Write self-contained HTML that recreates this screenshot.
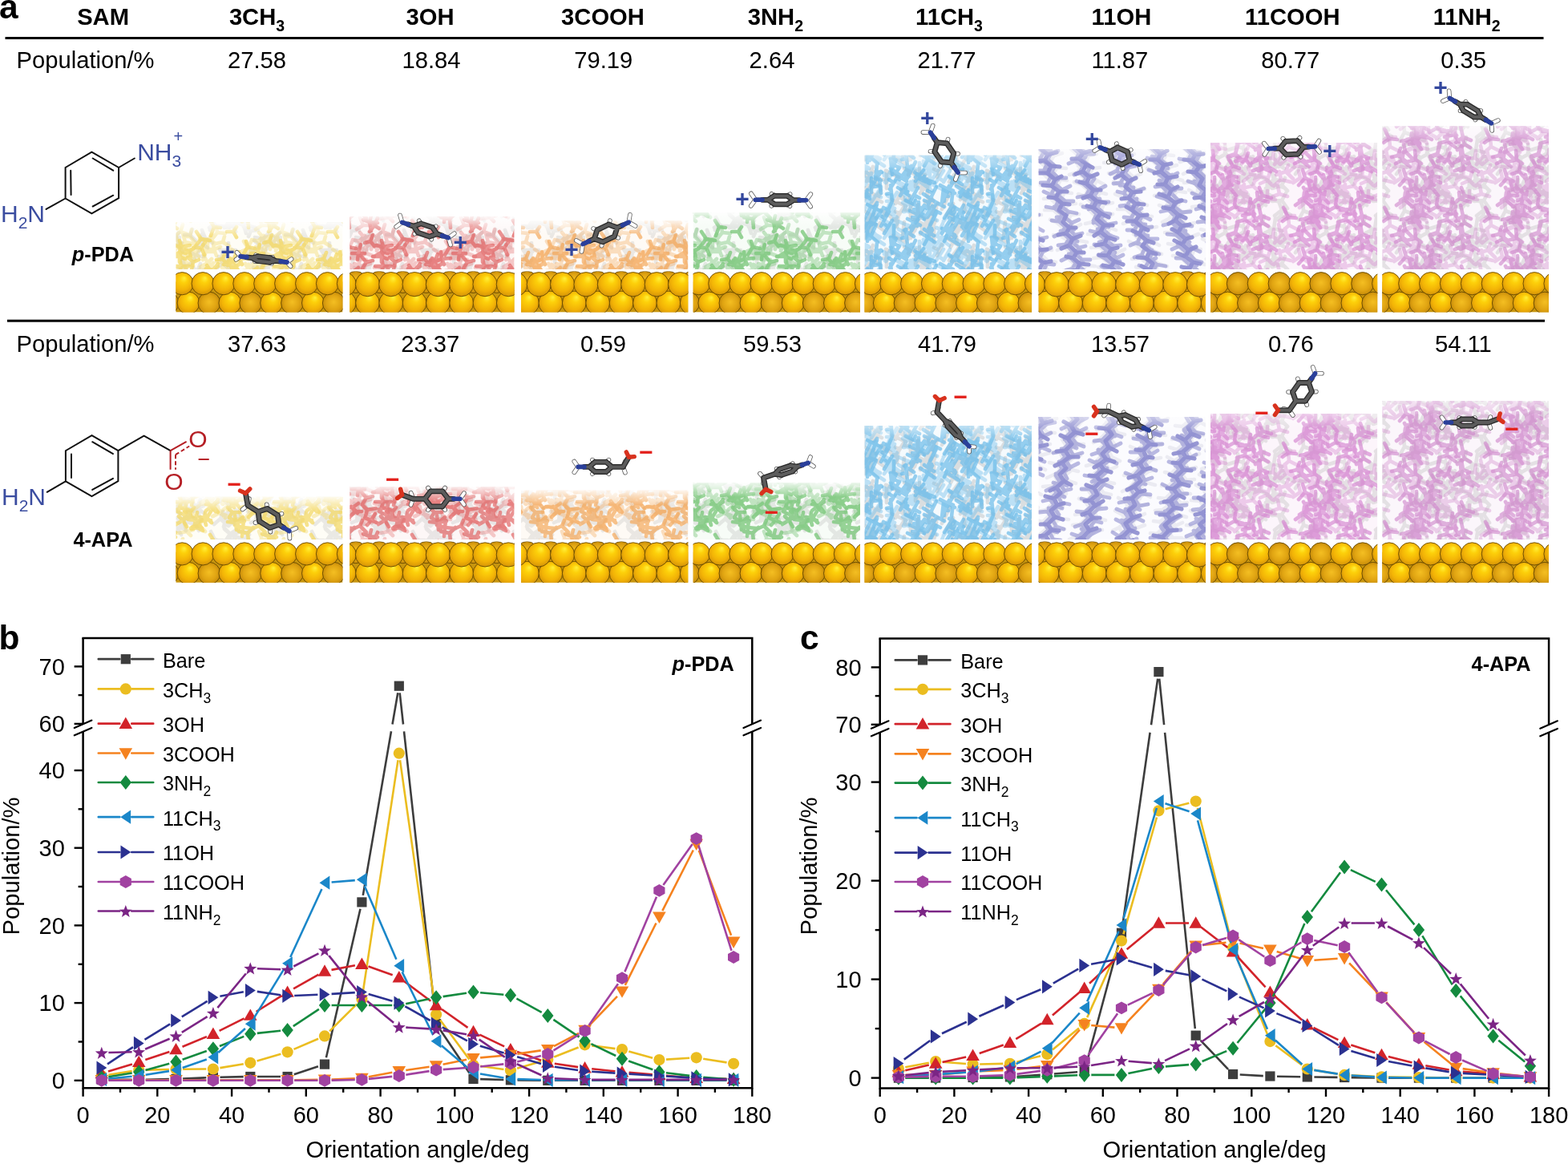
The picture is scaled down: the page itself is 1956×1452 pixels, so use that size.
<!DOCTYPE html>
<html><head><meta charset="utf-8"><title>Figure</title>
<style>
html,body{margin:0;padding:0;background:#fff;}
body{width:1956px;height:1452px;overflow:hidden;}
svg{display:block;}
text{font-family:"Liberation Sans",Arial,Helvetica,sans-serif;fill:#000;}
.hd{font-size:29.2px;font-weight:bold;}
.num{font-size:29.2px;}
.tk{font-size:29px;}
.lg{font-size:25.3px;}
.sub{font-size:17.5px;}
.lbl{font-size:42.5px;font-weight:bold;}
.nm{font-size:25.3px;font-weight:bold;}
.ax{font-size:29.2px;}
</style></head><body>
<svg width="1956" height="1452" viewBox="0 0 1956 1452">

<text x="-1" y="22.6" class="lbl">a</text>
<text x="128.6" y="30.9" class="hd" text-anchor="middle">SAM</text>
<text x="320.5" y="30.9" class="hd" text-anchor="middle">3CH<tspan dy="8" font-size="19.5px">3</tspan></text>
<text x="536.5" y="30.9" class="hd" text-anchor="middle">3OH</text>
<text x="752" y="30.9" class="hd" text-anchor="middle">3COOH</text>
<text x="967.4" y="30.9" class="hd" text-anchor="middle">3NH<tspan dy="8" font-size="19.5px">2</tspan></text>
<text x="1184" y="30.9" class="hd" text-anchor="middle">11CH<tspan dy="8" font-size="19.5px">3</tspan></text>
<text x="1398.9" y="30.9" class="hd" text-anchor="middle">11OH</text>
<text x="1612.3" y="30.9" class="hd" text-anchor="middle">11COOH</text>
<text x="1829.7" y="30.9" class="hd" text-anchor="middle">11NH<tspan dy="8" font-size="19.5px">2</tspan></text>
<rect x="6.5" y="46" width="1919" height="3" fill="#000"/>
<text x="20.5" y="85.2" class="num">Population/%</text>
<text x="320.5" y="85.2" class="num" text-anchor="middle">27.58</text>
<text x="538" y="85.2" class="num" text-anchor="middle">18.84</text>
<text x="752.8" y="85.2" class="num" text-anchor="middle">79.19</text>
<text x="963" y="85.2" class="num" text-anchor="middle">2.64</text>
<text x="1181" y="85.2" class="num" text-anchor="middle">21.77</text>
<text x="1396.9" y="85.2" class="num" text-anchor="middle">11.87</text>
<text x="1609.8" y="85.2" class="num" text-anchor="middle">80.77</text>
<text x="1825.7" y="85.2" class="num" text-anchor="middle">0.35</text>
<rect x="9" y="398.7" width="1918" height="3" fill="#000"/>
<text x="20.5" y="438.7" class="num">Population/%</text>
<text x="320.6" y="438.7" class="num" text-anchor="middle">37.63</text>
<text x="536.8" y="438.7" class="num" text-anchor="middle">23.37</text>
<text x="752.5" y="438.7" class="num" text-anchor="middle">0.59</text>
<text x="963.5" y="438.7" class="num" text-anchor="middle">59.53</text>
<text x="1181.6" y="438.7" class="num" text-anchor="middle">41.79</text>
<text x="1397.4" y="438.7" class="num" text-anchor="middle">13.57</text>
<text x="1610.3" y="438.7" class="num" text-anchor="middle">0.76</text>
<text x="1825.4" y="438.7" class="num" text-anchor="middle">54.11</text>
<defs>
<radialGradient id="gS" cx="0.5" cy="0.45" r="0.55" fx="0.6" fy="0.25"><stop offset="0" stop-color="#fff03a"/><stop offset="0.3" stop-color="#fdd00a"/><stop offset="0.72" stop-color="#f2b206"/><stop offset="1" stop-color="#d49408"/></radialGradient>
<radialGradient id="gD" cx="0.5" cy="0.5" r="0.55" fx="0.5" fy="0.45"><stop offset="0" stop-color="#f4bf22"/><stop offset="0.6" stop-color="#e0a412"/><stop offset="1" stop-color="#c08508"/></radialGradient>
<linearGradient id="fadeT" x1="0" y1="0" x2="0" y2="1"><stop offset="0" stop-color="#fff" stop-opacity="0.85"/><stop offset="1" stop-color="#fff" stop-opacity="0"/></linearGradient>
<pattern id="pY0" width="126" height="98" patternUnits="userSpaceOnUse"><path d="M23 59l-8 7m8 -7l3 -8m-3 8l8 8m-8 -8M93 49l6 4m-6 -4l-4 9m4 -9l-9 -4m9 4l4 -8m-4 8M35 51l-2 11m2 -11l-11 4m11 -4l-2 -11m2 11l8 0m-8 0M101 69l-5 -6m5 6l5 -6m-5 6l5 5m-5 -5l-7 5m7 -5M-8 66l-8 -2m8 2l7 -6m-7 6l4 8m-4 -8M118 66l-8 -2m8 2l7 -6m-7 6l4 8m-4 -8M45 54l2 -8m-2 8l6 7m-6 -7l-9 4m9 -4M96 73l4 -6m-4 6l4 6m-4 -6l-8 0m8 0M56 76l-10 -1m10 1l8 -4m-8 4l0 7m0 -7M70 60l2 -9m-2 9l6 6m-6 -6l-9 4m9 -4M63 24l-10 2m10 -2l4 -7m-4 7l8 6m-8 -6M-5 46l7 6m-7 -6l-6 4m6 -4l-6 -6m6 6l7 -3m-7 3M121 46l7 6m-7 -6l-6 4m6 -4l-6 -6m6 6l7 -3m-7 3M35 78l-7 -6m7 6l8 -5m-8 5l7 4m-7 -4l-6 9m6 -9M30 59l-4 -9m4 9l9 -1m-9 1l-3 10m3 -10M36 79l10 -3m-10 3l-2 9m2 -9l-8 -8m8 8M111 -1l3 -7m-3 7l7 7m-7 -7l-7 0m7 0M111 97l3 -7m-3 7l7 7m-7 -7l-7 0m7 0M105 39l10 -6m-10 6l3 8m-3 -8l-8 3m8 -3l-3 -8m3 8M33 18l9 0m-9 0l-1 10m1 -10l-8 0m8 0l0 -9m0 9M76 4l8 -8m-8 8l3 7m-3 -7l-10 -2m10 2M76 102l8 -8m-8 8l3 7m-3 -7l-10 -2m10 2M52 85l-8 -3m8 3l7 -6m-7 6l3 10m-3 -10M-8 47l5 -7m-5 7l5 9m-5 -9l-8 -1m8 1M118 47l5 -7m-5 7l5 9m-5 -9l-8 -1m8 1M61 -6l9 -1m-9 1l-3 7m3 -7l-9 -5m9 5M61 92l9 -1m-9 1l-3 7m3 -7l-9 -5m9 5M78 49l6 6m-6 -6l-11 0m11 0l2 -11m-2 11M103 59l7 -5m-7 5l3 7m-3 -7l-11 -1m11 1M4 3l-4 -10m4 10l9 6m-9 -6l-6 5m6 -5M4 101l-4 -10m4 10l9 6m-9 -6l-6 5m6 -5M130 3l-4 -10m4 10l9 6m-9 -6l-6 5m6 -5M130 101l-4 -10m4 10l9 6m-9 -6l-6 5m6 -5M-6 44l4 -9m-4 9l4 6m-4 -6l-7 3m7 -3M120 44l4 -9m-4 9l4 6m-4 -6l-7 3m7 -3M70 43l6 -7m-6 7l-1 8m1 -8l-6 -3m6 3M-7 25l-7 -4m7 4l5 -8m-5 8l10 1m-10 -1l-4 6m4 -6M119 25l-7 -4m7 4l5 -8m-5 8l10 1m-10 -1l-4 6m4 -6M60 -12l-6 5m6 -5l-6 -9m6 9l7 2m-7 -2M60 86l-6 5m6 -5l-6 -9m6 9l7 2m-7 -2M92 4l5 -8m-5 8l9 5m-9 -5l-4 7m4 -7l-6 -6m6 6M92 102l5 -8m-5 8l9 5m-9 -5l-4 7m4 -7l-6 -6m6 6M-1 9l-7 6m7 -6l1 -11m-1 11l8 6m-8 -6M-1 107l-7 6m7 -6l1 -11m-1 11l8 6m-8 -6M125 9l-7 6m7 -6l1 -11m-1 11l8 6m-8 -6M125 107l-7 6m7 -6l1 -11m-1 11l8 6m-8 -6M40 61l9 -1m-9 1l-7 7m7 -7l-3 -9m3 9M43 56l-4 9m4 -9l-1 -8m1 8l10 4m-10 -4M96 12l2 -10m-2 10l6 8m-6 -8l-8 1m8 -1M96 110l2 -10m-2 10l6 8m-6 -8l-8 1m8 -1M91 70l-7 -6m7 6l11 1m-11 -1l-6 9m6 -9M82 40l5 9m-5 -9l-6 -3m6 3l5 -8m-5 8M15 84l-4 -9m4 9l7 3m-7 -3l-6 4m6 -4M26 34l-8 7m8 -7l-5 -8m5 8l7 -3m-7 3l7 7m-7 -7M68 53l-1 9m1 -9l-11 -3m11 3l4 -6m-4 6l9 3m-9 -3M73 13l-8 4m8 -4l-8 -7m8 7l8 -5m-8 5l5 9m-5 -9M39 86l3 7m-3 -7l-11 2m11 -2l3 -6m-3 6M78 43l10 4m-10 -4l-7 9m7 -9l-9 -4m9 4l5 -7m-5 7M16 86l-6 5m6 -5l-3 -7m3 7l10 0m-10 0M84 10l3 -8m-3 8l8 1m-8 -1l-4 7m4 -7l-10 -3m10 3M84 108l3 -8m-3 8l8 1m-8 -1l-4 7m4 -7l-10 -3m10 3M28 26l-7 4m7 -4l-6 -9m6 9l7 -7m-7 7l3 8m-3 -8M87 80l7 -7m-7 7l4 7m-4 -7l-10 -1m10 1M34 61l6 5m-6 -5l-11 -1m11 1l2 -11m-2 11M112 56l6 3m-6 -3l-6 5m6 -5l-4 -7m4 7M62 23l-2 -7m2 7l9 2m-9 -2l0 10m0 -10l-8 1m8 -1" stroke="#fff" stroke-width="4.6" stroke-linecap="round" fill="none"/></pattern>
<mask id="mY0" maskUnits="userSpaceOnUse" x="0" y="0" width="1956" height="760"><rect width="1956" height="760" fill="url(#pY0)"/></mask>
<pattern id="pY1" width="126" height="98" patternUnits="userSpaceOnUse"><path d="M114 19l4 -8m-4 8l8 7m-8 -7l-8 -2m8 2M71 29l-11 -1m11 1l3 -9m-3 9l8 1m-8 -1l-2 10m2 -10M96 10l-2 -9m2 9l11 -1m-11 1l-4 9m4 -9M96 108l-2 -9m2 9l11 -1m-11 1l-4 9m4 -9M99 -5l8 3m-8 -3l-8 6m8 -6l3 -9m-3 9M99 93l8 3m-8 -3l-8 6m8 -6l3 -9m-3 9M80 60l-7 6m7 -6l-2 -10m2 10l6 4m-6 -4M107 75l5 5m-5 -5l-11 2m11 -2l-3 -11m3 11l8 -2m-8 2M44 22l-7 -5m7 5l9 -4m-9 4l2 10m-2 -10M21 52l-1 -8m1 8l9 3m-9 -3l-8 4m8 -4M5 20l-4 10m4 -10l-4 -9m4 9l10 0m-10 0M131 20l-4 10m4 -10l-4 -9m4 9l10 0m-10 0M7 6l0 10m0 -10l-10 -2m10 2l6 -5m-6 5M7 104l0 10m0 -10l-10 -2m10 2l6 -5m-6 5M133 6l0 10m0 -10l-10 -2m10 2l6 -5m-6 5M133 104l0 10m0 -10l-10 -2m10 2l6 -5m-6 5M103 27l-5 -7m5 7l9 -3m-9 3l-3 7m3 -7M75 55l-7 -7m7 7l10 -5m-10 5l2 11m-2 -11M23 51l-6 -8m6 8l8 -7m-8 7l6 7m-6 -7l-9 5m9 -5M88 57l3 7m-3 -7l-10 -1m10 1l3 -9m-3 9M41 33l6 -9m-6 9l3 8m-3 -8l-8 -3m8 3M57 15l6 6m-6 -6l-7 7m7 -7l-5 -8m5 8l5 -9m-5 9M19 -4l10 1m-10 -1l-7 9m7 -9l-1 -7m1 7M19 94l10 1m-10 -1l-7 9m7 -9l-1 -7m1 7M77 3l-6 4m6 -4l-6 -7m6 7l8 -3m-8 3l5 9m-5 -9M77 101l-6 4m6 -4l-6 -7m6 7l8 -3m-8 3l5 9m-5 -9M74 38l-10 -3m10 3l10 -3m-10 3l3 8m-3 -8M15 17l-11 0m11 0l-1 -7m1 7l8 -3m-8 3l3 8m-3 -8M25 33l-7 -1m7 1l0 -8m0 8l9 0m-9 0l1 8m-1 -8M85 10l7 6m-7 -6l-9 6m9 -6l1 -10m-1 10M85 108l7 6m-7 -6l-9 6m9 -6l1 -10m-1 10M26 8l8 5m-8 -5l-9 2m9 -2l2 -7m-2 7M26 106l8 5m-8 -5l-9 2m9 -2l2 -7m-2 7M58 42l-10 4m10 -4l-4 -7m4 7l11 -3m-11 3l1 8m-1 -8M9 4l-7 2m7 -2l3 -6m-3 6l8 6m-8 -6M9 102l-7 2m7 -2l3 -6m-3 6l8 6m-8 -6M135 4l-7 2m7 -2l3 -6m-3 6l8 6m-8 -6M135 102l-7 2m7 -2l3 -6m-3 6l8 6m-8 -6M80 47l7 1m-7 -1l-3 7m3 -7l-5 -7m5 7M-11 23l2 7m-2 -7l-10 0m10 0l-4 -6m4 6l9 -6m-9 6M115 23l2 7m-2 -7l-10 0m10 0l-4 -6m4 6l9 -6m-9 6M-3 68l3 -8m-3 8l7 7m-7 -7l-9 1m9 -1M123 68l3 -8m-3 8l7 7m-7 -7l-9 1m9 -1M79 22l-10 4m10 -4l0 -9m0 9l10 4m-10 -4M99 43l7 8m-7 -8l-10 -3m10 3l6 -6m-6 6M88 9l6 -7m-6 7l8 4m-8 -4l-3 8m3 -8l-5 -5m5 5M88 107l6 -7m-6 7l8 4m-8 -4l-3 8m3 -8l-5 -5m5 5M69 49l-3 -10m3 10l7 3m-7 -3l-8 5m8 -5M33 39l-8 1m8 -1l4 -10m-4 10l8 1m-8 -1l-1 9m1 -9M7 34l5 -5m-5 5l6 4m-6 -4l-9 5m9 -5l-5 -10m5 10M133 34l5 -5m-5 5l6 4m-6 -4l-9 5m9 -5l-5 -10m5 10M111 1l-8 0m8 0l2 -9m-2 9l6 7m-6 -7M111 99l-8 0m8 0l2 -9m-2 9l6 7m-6 -7M49 58l9 2m-9 -2l-8 3m8 -3l-2 -8m2 8M9 40l5 7m-5 -7l-10 1m10 -1l5 -6m-5 6M135 40l5 7m-5 -7l-10 1m10 -1l5 -6m-5 6M70 7l-8 -2m8 2l7 -7m-7 7l2 9m-2 -9M70 105l-8 -2m8 2l7 -7m-7 7l2 9m-2 -9M114 49l-7 -2m7 2l8 -6m-8 6l1 7m-1 -7M62 49l-6 7m6 -7l-6 -5m6 5l6 -8m-6 8l9 5m-9 -5M67 42l-9 -6m9 6l10 -3m-10 3l2 11m-2 -11M63 24l4 -10m-4 10l8 3m-8 -3l-5 5m5 -5l-10 -4m10 4M73 53l3 8m-3 -8l-9 -1m9 1l5 -8m-5 8M105 8l-3 -11m3 11l9 2m-9 -2l-6 7m6 -7M105 106l-3 -11m3 11l9 2m-9 -2l-6 7m6 -7M75 85l-8 5m8 -5l-4 -10m4 10l9 0m-9 0M106 33l9 5m-9 -5l-4 6m4 -6l-4 -11m4 11" stroke="#fff" stroke-width="4.6" stroke-linecap="round" fill="none"/></pattern>
<mask id="mY1" maskUnits="userSpaceOnUse" x="0" y="0" width="1956" height="760"><rect width="1956" height="760" fill="url(#pY1)"/></mask>
<pattern id="pY2" width="126" height="98" patternUnits="userSpaceOnUse"><path d="M47 29l-8 3m8 -3l-1 -9m1 9l11 -1m-11 1l3 7m-3 -7M57 77l7 -7m-7 7l1 11m-1 -11l-11 -2m11 2M110 19l2 8m-2 -8l-10 -3m10 3l9 -5m-9 5M6 58l-9 -1m9 1l5 -8m-5 8l6 6m-6 -6M132 58l-9 -1m9 1l5 -8m-5 8l6 6m-6 -6M71 68l-9 4m9 -4l3 -7m-3 7l8 8m-8 -8M44 63l2 11m-2 -11l-10 -5m10 5l7 -6m-7 6M38 51l-4 6m4 -6l-6 -6m6 6l9 0m-9 0M102 61l5 8m-5 -8l-8 5m8 -5l-5 -5m5 5l9 -5m-9 5M80 48l-6 -6m6 6l11 -2m-11 2l-2 8m2 -8M38 33l6 9m-6 -9l-9 1m9 -1l4 -10m-4 10M11 44l9 -6m-9 6l6 6m-6 -6l-6 5m6 -5l-5 -7m5 7M137 44l9 -6m-9 6l6 6m-6 -6l-6 5m6 -5l-5 -7m5 7M85 61l5 -8m-5 8l9 4m-9 -4l-5 6m5 -6l-8 -3m8 3M39 -5l-8 0m8 0l4 -6m-4 6l4 7m-4 -7M39 93l-8 0m8 0l4 -6m-4 6l4 7m-4 -7M89 85l-6 8m6 -8l-7 -4m7 4l4 -9m-4 9l6 4m-6 -4M26 29l-8 1m8 -1l3 -8m-3 8l6 8m-6 -8M62 45l7 -5m-7 5l6 7m-6 -7l-11 -1m11 1M100 14l-2 -8m2 8l11 -2m-11 2l-1 10m1 -10l-9 -2m9 2M-1 15l5 -7m-5 7l4 9m-4 -9l-10 0m10 0M125 15l5 -7m-5 7l4 9m-4 -9l-10 0m10 0M100 38l-10 0m10 0l-2 -9m2 9l10 0m-10 0l-3 10m3 -10M-6 70l-7 2m7 -2l-2 -11m2 11l7 4m-7 -4M120 70l-7 2m7 -2l-2 -11m2 11l7 4m-7 -4M79 33l-6 -7m6 7l8 -2m-8 2l-5 8m5 -8M83 81l10 1m-10 -1l2 11m-2 -11l-8 -3m8 3l2 -8m-2 8M57 14l9 2m-9 -2l-6 10m6 -10l-2 -7m2 7M99 20l7 2m-7 -2l-10 6m10 -6l-2 -7m2 7M-1 4l11 2m-11 -2l-7 9m7 -9l-6 -9m6 9M-1 102l11 2m-11 -2l-7 9m7 -9l-6 -9m6 9M125 4l11 2m-11 -2l-7 9m7 -9l-6 -9m6 9M125 102l11 2m-11 -2l-7 9m7 -9l-6 -9m6 9M111 51l2 8m-2 -8l-7 -1m7 1l5 -6m-5 6M15 -11l-4 11m4 -11l-5 -8m5 8l8 1m-8 -1M15 87l-4 11m4 -11l-5 -8m5 8l8 1m-8 -1M51 70l11 1m-11 -1l-1 11m1 -11l-10 -3m10 3l1 -9m-1 9M-8 61l-9 -1m9 1l2 -10m-2 10l11 1m-11 -1l-2 9m2 -9M118 61l-9 -1m9 1l2 -10m-2 10l11 1m-11 -1l-2 9m2 -9M-5 65l5 6m-5 -6l-9 6m9 -6l-6 -7m6 7l7 -6m-7 6M121 65l5 6m-5 -6l-9 6m9 -6l-6 -7m6 7l7 -6m-7 6M84 7l5 6m-5 -6l-7 2m7 -2l3 -8m-3 8M84 105l5 6m-5 -6l-7 2m7 -2l3 -8m-3 8M105 45l2 -7m-2 7l6 8m-6 -8l-10 2m10 -2M41 39l-5 5m5 -5l-8 -8m8 8l8 -5m-8 5l7 7m-7 -7M14 43l-9 -2m9 2l6 -8m-6 8l6 8m-6 -8M34 35l-7 1m7 -1l1 -7m-1 7l6 10m-6 -10M115 33l-2 9m2 -9l-7 -6m7 6l7 -3m-7 3M98 26l-11 0m11 0l1 -9m-1 9l7 3m-7 -3l0 7m0 -7M42 64l1 9m-1 -9l-10 -1m10 1l-1 -9m1 9l11 -2m-11 2M65 50l8 0m-8 0l-7 7m7 -7l-5 -6m5 6M3 60l2 7m-2 -7l-9 3m9 -3l1 -9m-1 9l8 1m-8 -1M129 60l2 7m-2 -7l-9 3m9 -3l1 -9m-1 9l8 1m-8 -1M69 22l8 0m-8 0l-1 8m1 -8l-8 0m8 0l3 -11m-3 11M105 55l-10 -5m10 5l4 -7m-4 7l7 3m-7 -3l-2 7m2 -7" stroke="#fff" stroke-width="4.6" stroke-linecap="round" fill="none"/></pattern>
<mask id="mY2" maskUnits="userSpaceOnUse" x="0" y="0" width="1956" height="760"><rect width="1956" height="760" fill="url(#pY2)"/></mask>
<pattern id="pX0" width="126" height="98" patternUnits="userSpaceOnUse"><path d="M2 -4l3 -8m-3 8l-3 8m3 -8M2 94l3 -8m-3 8l-3 8m3 -8M128 -4l3 -8m-3 8l-3 8m3 -8M128 94l3 -8m-3 8l-3 8m3 -8M113 57l9 4m-9 -4l-9 -4m9 4M51 65l4 -7m-4 7l-4 7m4 -7M76 26l9 5m-9 -5l-9 -5m9 5M77 21l4 -9m-4 9l-4 9m4 -9l-5 -2m5 2M114 4l8 4m-8 -4l-8 -4m8 4M114 102l8 4m-8 -4l-8 -4m8 4M24 54l1 10m-1 -10l-1 -10m1 10l5 -1m-5 1M55 73l-1 10m1 -10l1 -10m-1 10l-6 -1m6 1M18 33l4 -6m-4 6l-4 6m4 -6l-5 -3m5 3M20 85l7 4m-7 -4l-7 -4m7 4M77 24l4 -6m-4 6l-4 6m4 -6l-7 -4m7 4M97 70l6 4m-6 -4l-6 -4m6 4l-4 5m4 -5M11 78l-1 9m1 -9l1 -9m-1 9l-6 0m6 0M86 53l4 -7m-4 7l-4 7m4 -7l6 3m-6 -3M78 72l7 4m-7 -4l-7 -4m7 4l-2 5m2 -5M55 8l7 4m-7 -4l-7 -4m7 4l-3 6m3 -6M55 106l7 4m-7 -4l-7 -4m7 4l-3 6m3 -6M69 57l0 10m0 -10l0 -10m0 10M11 69l0 10m0 -10l0 -10m0 10M38 18l3 -7m-3 7l-3 7m3 -7l-7 -3m7 3M13 22l0 8m0 -8l0 -8m0 8l6 0m-6 0M119 -9l-1 8m1 -8l1 -8m-1 8M119 89l-1 8m1 -8l1 -8m-1 8M24 80l5 -7m-5 7l-5 7m5 -7l-5 -4m5 4M6 -6l4 -9m-4 9l-4 9m4 -9l-6 -3m6 3M6 92l4 -9m-4 9l-4 9m4 -9l-6 -3m6 3M132 -6l4 -9m-4 9l-4 9m4 -9l-6 -3m6 3M132 92l4 -9m-4 9l-4 9m4 -9l-6 -3m6 3M62 35l10 4m-10 -4l-10 -4m10 4M105 21l8 4m-8 -4l-8 -4m8 4M79 85l-1 8m1 -8l1 -8m-1 8M54 71l0 9m0 -9l0 -9m0 9M31 0l0 8m0 -8l0 -8m0 8l-6 0m6 0M31 98l0 8m0 -8l0 -8m0 8l-6 0m6 0M85 49l6 -8m-6 8l-6 8m6 -8l-5 -4m5 4M62 -7l5 -8m-5 8l-5 8m5 -8l-5 -3m5 3M62 91l5 -8m-5 8l-5 8m5 -8l-5 -3m5 3M19 -12l5 -10m-5 10l-5 10m5 -10M19 86l5 -10m-5 10l-5 10m5 -10M15 29l5 -7m-5 7l-5 7m5 -7M23 -4l7 5m-7 -5l-7 -5m7 5l4 -6m-4 6M23 94l7 5m-7 -5l-7 -5m7 5l4 -6m-4 6M114 48l5 -10m-5 10l-5 10m5 -10l5 2m-5 -2M87 86l8 6m-8 -6l-8 -6m8 6l3 -4m-3 4M70 3l5 -8m-5 8l-5 8m5 -8M70 101l5 -8m-5 8l-5 8m5 -8M23 79l8 4m-8 -4l-8 -4m8 4M31 66l5 -8m-5 8l-5 8m5 -8M76 79l6 -8m-6 8l-6 8m6 -8l-4 -3m4 3M70 44l6 -9m-6 9l-6 9m6 -9l6 4m-6 -4M82 32l8 4m-8 -4l-8 -4m8 4l4 -7m-4 7M60 87l4 -8m-4 8l-4 8m4 -8l6 3m-6 -3M56 23l6 -8m-6 8l-6 8m6 -8l6 4m-6 -4M75 84l5 -8m-5 8l-5 8m5 -8l-4 -3m4 3M46 55l5 -10m-5 10l-5 10m5 -10M98 28l0 11m0 -11l0 -11m0 11l-8 0m8 0M2 66l0 9m0 -9l0 -9m0 9l-7 0m7 0M128 66l0 9m0 -9l0 -9m0 9l-7 0m7 0M14 74l8 4m-8 -4l-8 -4m8 4M59 1l1 9m-1 -9l-1 -9m1 9l-7 1m7 -1M59 99l1 9m-1 -9l-1 -9m1 9l-7 1m7 -1M23 39l-1 9m1 -9l1 -9m-1 9l-6 -1m6 1M10 84l3 -8m-3 8l-3 8m3 -8l7 3m-7 -3M136 84l3 -8m-3 8l-3 8m3 -8l7 3m-7 -3M1 18l7 4m-7 -4l-7 -4m7 4l-2 4m2 -4M127 18l7 4m-7 -4l-7 -4m7 4l-2 4m2 -4M30 87l3 -8m-3 8l-3 8m3 -8l-5 -2m5 2M27 60l7 4m-7 -4l-7 -4m7 4l3 -5m-3 5M8 27l0 10m0 -10l0 -10m0 10M-3 55l7 4m-7 -4l-7 -4m7 4l4 -7m-4 7M123 55l7 4m-7 -4l-7 -4m7 4l4 -7m-4 7M19 39l5 -6m-5 6l-5 6m5 -6M76 44l5 -8m-5 8l-5 8m5 -8M112 78l-1 9m1 -9l1 -9m-1 9l-8 -1m8 1M114 71l5 -8m-5 8l-5 8m5 -8l-5 -3m5 3" stroke="#fff" stroke-width="4.6" stroke-linecap="round" fill="none"/></pattern>
<mask id="mX0" maskUnits="userSpaceOnUse" x="0" y="0" width="1956" height="760"><rect width="1956" height="760" fill="url(#pX0)"/></mask>
<pattern id="pX1" width="126" height="98" patternUnits="userSpaceOnUse"><path d="M-6 -4l5 -9m-5 9l-5 9m5 -9l-7 -4m7 4M-6 94l5 -9m-5 9l-5 9m5 -9l-7 -4m7 4M120 -4l5 -9m-5 9l-5 9m5 -9l-7 -4m7 4M120 94l5 -9m-5 9l-5 9m5 -9l-7 -4m7 4M36 8l5 -7m-5 7l-5 7m5 -7l6 4m-6 -4M36 106l5 -7m-5 7l-5 7m5 -7l6 4m-6 -4M30 76l4 -8m-4 8l-4 8m4 -8l5 3m-5 -3M101 26l4 -6m-4 6l-4 6m4 -6l-6 -3m6 3M74 -5l4 -6m-4 6l-4 6m4 -6l5 3m-5 -3M74 93l4 -6m-4 6l-4 6m4 -6l5 3m-5 -3M98 65l5 -7m-5 7l-5 7m5 -7l5 3m-5 -3M104 55l0 8m0 -8l0 -8m0 8l-6 0m6 0M85 65l8 4m-8 -4l-8 -4m8 4l-4 7m4 -7M74 28l5 -8m-5 8l-5 8m5 -8l-6 -4m6 4M14 74l6 -8m-6 8l-6 8m6 -8l5 4m-5 -4M78 70l4 -8m-4 8l-4 8m4 -8M86 5l9 6m-9 -6l-9 -6m9 6M86 103l9 6m-9 -6l-9 -6m9 6M47 24l4 -7m-4 7l-4 7m4 -7l6 3m-6 -3M1 38l4 -8m-4 8l-4 8m4 -8M127 38l4 -8m-4 8l-4 8m4 -8M68 39l6 -9m-6 9l-6 9m6 -9M68 52l7 4m-7 -4l-7 -4m7 4M85 70l0 9m0 -9l0 -9m0 9l-7 0m7 0M101 -8l7 5m-7 -5l-7 -5m7 5l4 -6m-4 6M101 90l7 5m-7 -5l-7 -5m7 5l4 -6m-4 6M67 9l8 4m-8 -4l-8 -4m8 4l-3 6m3 -6M67 107l8 4m-8 -4l-8 -4m8 4l-3 6m3 -6M116 35l7 5m-7 -5l-7 -5m7 5M106 52l5 -8m-5 8l-5 8m5 -8l-7 -4m7 4M85 47l6 -9m-6 9l-6 9m6 -9l6 3m-6 -3M39 -8l3 -7m-3 7l-3 7m3 -7l-5 -2m5 2M39 90l3 -7m-3 7l-3 7m3 -7l-5 -2m5 2M121 58l0 10m0 -10l0 -10m0 10M70 21l5 -8m-5 8l-5 8m5 -8l-6 -3m6 3M-9 82l9 4m-9 -4l-9 -4m9 4M117 82l9 4m-9 -4l-9 -4m9 4M34 20l5 -8m-5 8l-5 8m5 -8M-3 60l4 -8m-4 8l-4 8m4 -8l-5 -3m5 3M123 60l4 -8m-4 8l-4 8m4 -8l-5 -3m5 3M22 37l7 5m-7 -5l-7 -5m7 5l3 -4m-3 4M63 75l8 3m-8 -3l-8 -3m8 3M13 15l0 8m0 -8l0 -8m0 8l-7 0m7 0M25 9l7 4m-7 -4l-7 -4m7 4l3 -5m-3 5M75 42l5 -9m-5 9l-5 9m5 -9M68 10l8 4m-8 -4l-8 -4m8 4M55 78l4 -7m-4 7l-4 7m4 -7M23 8l1 9m-1 -9l-1 -9m1 9l7 -1m-7 1M23 106l1 9m-1 -9l-1 -9m1 9l7 -1m-7 1M-2 39l4 -8m-4 8l-4 8m4 -8M124 39l4 -8m-4 8l-4 8m4 -8M74 60l6 -9m-6 9l-6 9m6 -9M83 -2l7 4m-7 -4l-7 -4m7 4M83 96l7 4m-7 -4l-7 -4m7 4M81 32l10 5m-10 -5l-10 -5m10 5M104 71l7 4m-7 -4l-7 -4m7 4l4 -7m-4 7M42 6l8 6m-8 -6l-8 -6m8 6l5 -6m-5 6M42 104l8 6m-8 -6l-8 -6m8 6l5 -6m-5 6M99 -3l4 -6m-4 6l-4 6m4 -6M99 95l4 -6m-4 6l-4 6m4 -6M100 23l4 -8m-4 8l-4 8m4 -8l-6 -3m6 3M43 41l8 4m-8 -4l-8 -4m8 4M21 12l4 -8m-4 8l-4 8m4 -8M97 80l9 5m-9 -5l-9 -5m9 5M19 26l0 8m0 -8l0 -8m0 8M75 80l4 -8m-4 8l-4 8m4 -8l6 3m-6 -3M79 23l8 5m-8 -5l-8 -5m8 5l-3 5m3 -5M50 71l7 -9m-7 9l-7 9m7 -9l6 4m-6 -4M18 27l9 6m-9 -6l-9 -6m9 6M37 26l6 -9m-6 9l-6 9m6 -9l6 4m-6 -4M9 33l5 -8m-5 8l-5 8m5 -8M26 27l0 10m0 -10l0 -10m0 10l-7 0m7 0M72 48l7 4m-7 -4l-7 -4m7 4l-2 5m2 -5M107 85l0 9m0 -9l0 -9m0 9l-6 0m6 0M3 60l4 -8m-4 8l-4 8m4 -8l-5 -2m5 2M129 60l4 -8m-4 8l-4 8m4 -8l-5 -2m5 2M26 15l9 6m-9 -6l-9 -6m9 6l-4 6m4 -6M112 6l8 6m-8 -6l-8 -6m8 6l5 -6m-5 6M112 104l8 6m-8 -6l-8 -6m8 6l5 -6m-5 6M107 -8l5 -9m-5 9l-5 9m5 -9M107 90l5 -9m-5 9l-5 9m5 -9M105 -7l8 6m-8 -6l-8 -6m8 6M105 91l8 6m-8 -6l-8 -6m8 6M-7 34l8 4m-8 -4l-8 -4m8 4l-3 6m3 -6M119 34l8 4m-8 -4l-8 -4m8 4l-3 6m3 -6M78 -6l6 -9m-6 9l-6 9m6 -9l5 3m-5 -3M78 92l6 -9m-6 9l-6 9m6 -9l5 3m-5 -3M66 22l4 -9m-4 9l-4 9m4 -9l5 3m-5 -3M102 66l4 -7m-4 7l-4 7m4 -7l6 3m-6 -3" stroke="#fff" stroke-width="4.6" stroke-linecap="round" fill="none"/></pattern>
<mask id="mX1" maskUnits="userSpaceOnUse" x="0" y="0" width="1956" height="760"><rect width="1956" height="760" fill="url(#pX1)"/></mask>
<pattern id="pX2" width="126" height="98" patternUnits="userSpaceOnUse"><path d="M96 77l5 -9m-5 9l-5 9m5 -9l-4 -3m4 3M6 47l5 -9m-5 9l-5 9m5 -9l7 4m-7 -4M132 47l5 -9m-5 9l-5 9m5 -9l7 4m-7 -4M65 79l8 4m-8 -4l-8 -4m8 4M100 66l4 -9m-4 9l-4 9m4 -9l-6 -3m6 3M50 40l5 -9m-5 9l-5 9m5 -9l5 2m-5 -2M24 29l8 3m-8 -3l-8 -3m8 3M86 75l6 -9m-6 9l-6 9m6 -9M12 65l0 9m0 -9l0 -9m0 9l-6 0m6 0M115 25l8 5m-8 -5l-8 -5m8 5M49 68l5 -8m-5 8l-5 8m5 -8l5 3m-5 -3M107 -3l0 10m0 -10l0 -10m0 10M107 95l0 10m0 -10l0 -10m0 10M60 80l10 4m-10 -4l-10 -4m10 4l-3 6m3 -6M90 36l1 9m-1 -9l-1 -9m1 9l-8 1m8 -1M104 45l1 10m-1 -10l-1 -10m1 10l-6 1m6 -1M79 35l0 9m0 -9l0 -9m0 9M68 42l9 6m-9 -6l-9 -6m9 6l-4 7m4 -7M10 75l0 11m0 -11l0 -11m0 11l-6 0m6 0M46 -11l5 -8m-5 8l-5 8m5 -8l5 3m-5 -3M46 87l5 -8m-5 8l-5 8m5 -8l5 3m-5 -3M49 -3l5 -10m-5 10l-5 10m5 -10l6 3m-6 -3M49 95l5 -10m-5 10l-5 10m5 -10l6 3m-6 -3M7 85l4 -7m-4 7l-4 7m4 -7M133 85l4 -7m-4 7l-4 7m4 -7M29 80l5 -10m-5 10l-5 10m5 -10M13 69l6 -9m-6 9l-6 9m6 -9l5 3m-5 -3M-7 41l4 -7m-4 7l-4 7m4 -7l5 2m-5 -2M119 41l4 -7m-4 7l-4 7m4 -7l5 2m-5 -2M85 18l-1 9m1 -9l1 -9m-1 9l7 1m-7 -1M62 23l5 -8m-5 8l-5 8m5 -8M81 3l6 5m-6 -5l-6 -5m6 5M81 101l6 5m-6 -5l-6 -5m6 5M25 57l3 -7m-3 7l-3 7m3 -7l-6 -3m6 3M27 52l9 6m-9 -6l-9 -6m9 6l-3 6m3 -6M55 -8l5 -8m-5 8l-5 8m5 -8M55 90l5 -8m-5 8l-5 8m5 -8M82 69l4 -10m-4 10l-4 10m4 -10M107 32l5 -8m-5 8l-5 8m5 -8l-6 -4m6 4M-6 20l6 -8m-6 8l-6 8m6 -8l6 4m-6 -4M120 20l6 -8m-6 8l-6 8m6 -8l6 4m-6 -4M70 48l7 4m-7 -4l-7 -4m7 4l4 -7m-4 7M78 84l5 -8m-5 8l-5 8m5 -8M14 70l5 -8m-5 8l-5 8m5 -8l5 3m-5 -3M100 -11l5 -8m-5 8l-5 8m5 -8l-4 -3m4 3M100 87l5 -8m-5 8l-5 8m5 -8l-4 -3m4 3M74 -1l0 8m0 -8l0 -8m0 8M74 97l0 8m0 -8l0 -8m0 8M82 63l8 4m-8 -4l-8 -4m8 4l4 -6m-4 6M24 2l5 -9m-5 9l-5 9m5 -9l-5 -3m5 3M24 100l5 -9m-5 9l-5 9m5 -9l-5 -3m5 3M27 69l4 -6m-4 6l-4 6m4 -6M-3 2l1 10m-1 -10l-1 -10m1 10l-6 1m6 -1M-3 100l1 10m-1 -10l-1 -10m1 10l-6 1m6 -1M123 2l1 10m-1 -10l-1 -10m1 10l-6 1m6 -1M123 100l1 10m-1 -10l-1 -10m1 10l-6 1m6 -1M10 71l9 4m-9 -4l-9 -4m9 4M136 71l9 4m-9 -4l-9 -4m9 4M107 10l3 -7m-3 7l-3 7m3 -7l7 3m-7 -3M107 108l3 -7m-3 7l-3 7m3 -7l7 3m-7 -3M110 19l7 5m-7 -5l-7 -5m7 5l4 -6m-4 6M44 47l0 8m0 -8l0 -8m0 8M49 -5l8 4m-8 -4l-8 -4m8 4l-3 7m3 -7M49 93l8 4m-8 -4l-8 -4m8 4l-3 7m3 -7M74 70l4 -8m-4 8l-4 8m4 -8M42 48l-1 9m1 -9l1 -9m-1 9l7 1m-7 -1M6 59l10 5m-10 -5l-10 -5m10 5l2 -5m-2 5M132 59l10 5m-10 -5l-10 -5m10 5l2 -5m-2 5M59 64l9 5m-9 -5l-9 -5m9 5l-4 7m4 -7M-1 19l4 -8m-4 8l-4 8m4 -8M125 19l4 -8m-4 8l-4 8m4 -8M58 29l8 5m-8 -5l-8 -5m8 5l4 -7m-4 7M35 57l9 5m-9 -5l-9 -5m9 5l-3 4m3 -4M48 40l9 5m-9 -5l-9 -5m9 5l2 -4m-2 4M25 -4l6 4m-6 -4l-6 -4m6 4l3 -5m-3 5M25 94l6 4m-6 -4l-6 -4m6 4l3 -5m-3 5M30 45l4 -8m-4 8l-4 8m4 -8l-7 -3m7 3M13 23l5 -7m-5 7l-5 7m5 -7l-6 -4m6 4M-7 43l7 5m-7 -5l-7 -5m7 5l3 -4m-3 4M119 43l7 5m-7 -5l-7 -5m7 5l3 -4m-3 4M104 12l1 10m-1 -10l-1 -10m1 10M104 110l1 10m-1 -10l-1 -10m1 10M3 16l5 -10m-5 10l-5 10m5 -10l-6 -3m6 3M129 16l5 -10m-5 10l-5 10m5 -10l-6 -3m6 3M53 57l-1 10m1 -10l1 -10m-1 10M67 79l1 10m-1 -10l-1 -10m1 10M31 66l8 4m-8 -4l-8 -4m8 4l-2 5m2 -5M63 69l5 -9m-5 9l-5 9m5 -9M86 26l5 -8m-5 8l-5 8m5 -8l5 3m-5 -3M23 2l9 6m-9 -6l-9 -6m9 6M23 100l9 6m-9 -6l-9 -6m9 6M81 -5l4 -9m-4 9l-4 9m4 -9M81 93l4 -9m-4 9l-4 9m4 -9M0 -3l6 4m-6 -4l-6 -4m6 4M0 95l6 4m-6 -4l-6 -4m6 4M126 -3l6 4m-6 -4l-6 -4m6 4M126 95l6 4m-6 -4l-6 -4m6 4M17 29l9 4m-9 -4l-9 -4m9 4l2 -5m-2 5M54 6l8 5m-8 -5l-8 -5m8 5l4 -5m-4 5M54 104l8 5m-8 -5l-8 -5m8 5l4 -5m-4 5M6 81l8 4m-8 -4l-8 -4m8 4l-4 7m4 -7M132 81l8 4m-8 -4l-8 -4m8 4l-4 7m4 -7M58 24l5 -8m-5 8l-5 8m5 -8M71 -8l5 -8m-5 8l-5 8m5 -8l-5 -3m5 3M71 90l5 -8m-5 8l-5 8m5 -8l-5 -3m5 3M24 69l5 -8m-5 8l-5 8m5 -8" stroke="#fff" stroke-width="4.6" stroke-linecap="round" fill="none"/></pattern>
<mask id="mX2" maskUnits="userSpaceOnUse" x="0" y="0" width="1956" height="760"><rect width="1956" height="760" fill="url(#pX2)"/></mask>
<pattern id="pV0" width="126" height="98" patternUnits="userSpaceOnUse"><path d="M68 45l1 -13m-1 13l9 5m-9 -5l-8 4m8 -4M22 6l-6 -12m6 12l12 4m-12 -4l-6 9m6 -9M22 104l-6 -12m6 12l12 4m-12 -4l-6 9m6 -9M77 28l-3 -11m3 11l8 1m-8 -1l-8 7m8 -7M40 -5l-1 -8m1 8l9 6m-9 -6l-11 7m11 -7M40 93l-1 -8m1 8l9 6m-9 -6l-11 7m11 -7M92 7l-4 -8m4 8l11 6m-11 -6l-9 5m9 -5M92 105l-4 -8m4 8l11 6m-11 -6l-9 5m9 -5M87 54l5 -9m-5 9l7 10m-7 -10l-12 1m12 -1M86 73l2 -11m-2 11l8 4m-8 -4l-7 6m7 -6M33 43l-4 -9m4 9l12 4m-12 -4l-10 7m10 -7M79 6l0 -9m0 9l9 2m-9 -2l-7 6m7 -6M79 104l0 -9m0 9l9 2m-9 -2l-7 6m7 -6M63 82l2 -9m-2 9l9 6m-9 -6l-10 4m10 -4M82 9l5 -10m-5 10l8 5m-8 -5l-8 1m8 -1M82 107l5 -10m-5 10l8 5m-8 -5l-8 1m8 -1M114 67l-1 -13m1 13l8 3m-8 -3l-6 11m6 -11M78 35l0 -12m0 12l12 3m-12 -3l-11 4m11 -4M87 35l4 -9m-4 9l7 7m-7 -7l-12 4m12 -4M27 22l0 -8m0 8l10 8m-10 -8l-12 5m12 -5M50 9l1 -10m-1 10l6 7m-6 -7l-11 6m11 -6M50 107l1 -10m-1 10l6 7m-6 -7l-11 6m11 -6M8 10l-2 -11m2 11l8 5m-8 -5l-6 8m6 -8M8 108l-2 -11m2 11l8 5m-8 -5l-6 8m6 -8M134 10l-2 -11m2 11l8 5m-8 -5l-6 8m6 -8M134 108l-2 -11m2 11l8 5m-8 -5l-6 8m6 -8M25 39l-4 -8m4 8l10 3m-10 -3l-7 9m7 -9M87 66l-4 -11m4 11l11 6m-11 -6l-9 7m9 -7M59 54l1 -11m-1 11l8 6m-8 -6l-8 8m8 -8M77 -9l2 -13m-2 13l10 3m-10 -3l-12 6m12 -6M77 89l2 -13m-2 13l10 3m-10 -3l-12 6m12 -6M41 21l-5 -9m5 9l12 1m-12 -1l-8 6m8 -6M20 40l0 -10m0 10l8 9m-8 -9l-12 2m12 -2M3 38l1 -10m-1 10l7 4m-7 -4l-9 4m9 -4M129 38l1 -10m-1 10l7 4m-7 -4l-9 4m9 -4M39 55l-1 -9m1 9l12 4m-12 -4l-10 8m10 -8M-4 80l3 -8m-3 8l9 10m-9 -10l-10 5m10 -5M122 80l3 -8m-3 8l9 10m-9 -10l-10 5m10 -5M30 15l-3 -9m3 9l8 2m-8 -2l-7 3m7 -3M33 48l-2 -13m2 13l12 1m-12 -1l-10 7m10 -7M33 85l-1 -9m1 9l9 3m-9 -3l-13 4m13 -4M111 11l-3 -9m3 9l9 2m-9 -2l-7 10m7 -10M111 109l-3 -9m3 9l9 2m-9 -2l-7 10m7 -10M59 24l1 -10m-1 10l11 5m-11 -5l-12 4m12 -4M57 8l3 -8m-3 8l6 6m-6 -6l-11 1m11 -1M57 106l3 -8m-3 8l6 6m-6 -6l-11 1m11 -1M72 6l1 -12m-1 12l7 7m-7 -7l-12 6m12 -6M72 104l1 -12m-1 12l7 7m-7 -7l-12 6m12 -6M9 35l3 -7m-3 7l8 7m-8 -7l-9 0m9 0M135 35l3 -7m-3 7l8 7m-8 -7l-9 0m9 0M68 47l2 -8m-2 8l6 7m-6 -7l-11 6m11 -6M0 73l0 -10m0 10l13 4m-13 -4l-9 8m9 -8M126 73l0 -10m0 10l13 4m-13 -4l-9 8m9 -8M69 52l-5 -9m5 9l12 3m-12 -3l-8 10m8 -10M42 24l0 -12m0 12l8 10m-8 -10l-9 5m9 -5M17 -4l-1 -12m1 12l6 6m-6 -6l-9 5m9 -5M17 94l-1 -12m1 12l6 6m-6 -6l-9 5m9 -5M51 60l-5 -10m5 10l9 4m-9 -4l-8 9m8 -9" stroke="#fff" stroke-width="4.6" stroke-linecap="round" fill="none"/></pattern>
<mask id="mV0" maskUnits="userSpaceOnUse" x="0" y="0" width="1956" height="760"><rect width="1956" height="760" fill="url(#pV0)"/></mask>
<pattern id="pV1" width="126" height="98" patternUnits="userSpaceOnUse"><path d="M4 75l-5 -12m5 12l11 4m-11 -4l-7 5m7 -5M130 75l-5 -12m5 12l11 4m-11 -4l-7 5m7 -5M-3 30l2 -9m-2 9l6 10m-6 -10l-11 0m11 0M123 30l2 -9m-2 9l6 10m-6 -10l-11 0m11 0M93 2l-2 -11m2 11l11 6m-11 -6l-8 7m8 -7M93 100l-2 -11m2 11l11 6m-11 -6l-8 7m8 -7M41 53l-3 -9m3 9l8 4m-8 -4l-8 3m8 -3M8 54l-1 -10m1 10l10 5m-10 -5l-8 5m8 -5M134 54l-1 -10m1 10l10 5m-10 -5l-8 5m8 -5M27 15l-4 -10m4 10l10 3m-10 -3l-8 10m8 -10M35 45l3 -9m-3 9l7 5m-7 -5l-8 5m8 -5M49 22l-4 -9m4 9l9 1m-9 -1l-10 8m10 -8M69 52l0 -10m0 10l10 1m-10 -1l-10 8m10 -8M0 -13l-2 -10m2 10l10 3m-10 -3l-9 4m9 -4M0 85l-2 -10m2 10l10 3m-10 -3l-9 4m9 -4M126 -13l-2 -10m2 10l10 3m-10 -3l-9 4m9 -4M126 85l-2 -10m2 10l10 3m-10 -3l-9 4m9 -4M-1 15l0 -8m0 8l12 6m-12 -6l-7 5m7 -5M125 15l0 -8m0 8l12 6m-12 -6l-7 5m7 -5M22 34l-1 -13m1 13l12 2m-12 -2l-9 10m9 -10M11 72l2 -13m-2 13l5 9m-5 -9l-9 1m9 -1M137 72l2 -13m-2 13l5 9m-5 -9l-9 1m9 -1M30 53l0 -13m0 13l10 4m-10 -4l-10 4m10 -4M19 54l1 -13m-1 13l8 3m-8 -3l-11 4m11 -4M29 15l2 -9m-2 9l11 6m-11 -6l-11 5m11 -5M9 -12l-4 -10m4 10l8 2m-8 -2l-7 11m7 -11M9 86l-4 -10m4 10l8 2m-8 -2l-7 11m7 -11M135 -12l-4 -10m4 10l8 2m-8 -2l-7 11m7 -11M135 86l-4 -10m4 10l8 2m-8 -2l-7 11m7 -11M-2 45l-3 -13m3 13l8 2m-8 -2l-9 6m9 -6M124 45l-3 -13m3 13l8 2m-8 -2l-9 6m9 -6M69 29l3 -10m-3 10l6 6m-6 -6l-9 4m9 -4M110 26l-2 -9m2 9l10 7m-10 -7l-9 6m9 -6M-9 56l1 -12m-1 12l8 6m-8 -6l-8 7m8 -7M117 56l1 -12m-1 12l8 6m-8 -6l-8 7m8 -7M40 -1l5 -12m-5 12l9 9m-9 -9l-10 3m10 -3M40 97l5 -12m-5 12l9 9m-9 -9l-10 3m10 -3M92 18l3 -8m-3 8l9 9m-9 -9l-12 4m12 -4M61 24l1 -12m-1 12l8 2m-8 -2l-8 6m8 -6M44 1l-2 -10m2 10l12 3m-12 -3l-7 7m7 -7M44 99l-2 -10m2 10l12 3m-12 -3l-7 7m7 -7M51 36l3 -10m-3 10l9 8m-9 -8l-10 2m10 -2M37 43l3 -9m-3 9l8 7m-8 -7l-11 1m11 -1M-1 -11l1 -11m-1 11l7 5m-7 -5l-12 5m12 -5M-1 87l1 -11m-1 11l7 5m-7 -5l-12 5m12 -5M125 -11l1 -11m-1 11l7 5m-7 -5l-12 5m12 -5M125 87l1 -11m-1 11l7 5m-7 -5l-12 5m12 -5M76 1l1 -9m-1 9l9 8m-9 -8l-9 1m9 -1M76 99l1 -9m-1 9l9 8m-9 -8l-9 1m9 -1M5 12l-4 -12m4 12l11 4m-11 -4l-10 7m10 -7M5 110l-4 -12m4 12l11 4m-11 -4l-10 7m10 -7M131 12l-4 -12m4 12l11 4m-11 -4l-10 7m10 -7M131 110l-4 -12m4 12l11 4m-11 -4l-10 7m10 -7M84 46l-2 -10m2 10l10 3m-10 -3l-8 3m8 -3M33 36l0 -12m0 12l10 8m-10 -8l-9 8m9 -8M86 -1l-3 -13m3 13l13 1m-13 -1l-8 10m8 -10M86 97l-3 -13m3 13l13 1m-13 -1l-8 10m8 -10M34 69l-6 -11m6 11l13 2m-13 -2l-6 6m6 -6M93 73l-2 -8m2 8l10 0m-10 0l-9 7m9 -7M0 76l4 -8m-4 8l6 7m-6 -7l-10 4m10 -4M126 76l4 -8m-4 8l6 7m-6 -7l-10 4m10 -4M86 28l-2 -10m2 10l12 3m-12 -3l-9 8m9 -8M104 11l-5 -10m5 10l12 2m-12 -2l-9 8m9 -8M104 109l-5 -10m5 10l12 2m-12 -2l-9 8m9 -8M96 -13l-1 -11m1 11l12 6m-12 -6l-8 7m8 -7M96 85l-1 -11m1 11l12 6m-12 -6l-8 7m8 -7M51 78l1 -10m-1 10l9 7m-9 -7l-11 3m11 -3M9 45l-3 -9m3 9l9 2m-9 -2l-7 5m7 -5M135 45l-3 -9m3 9l9 2m-9 -2l-7 5m7 -5M18 68l0 -10m0 10l9 5m-9 -5l-10 8m10 -8" stroke="#fff" stroke-width="4.6" stroke-linecap="round" fill="none"/></pattern>
<mask id="mV1" maskUnits="userSpaceOnUse" x="0" y="0" width="1956" height="760"><rect width="1956" height="760" fill="url(#pV1)"/></mask>
<pattern id="pV2" width="126" height="98" patternUnits="userSpaceOnUse"><path d="M61 73l-3 -13m3 13l10 4m-10 -4l-9 7m9 -7M25 28l-3 -11m3 11l8 4m-8 -4l-10 7m10 -7M28 62l1 -10m-1 10l11 3m-11 -3l-9 5m9 -5M11 70l-2 -8m2 8l11 6m-11 -6l-7 5m7 -5M137 70l-2 -8m2 8l11 6m-11 -6l-7 5m7 -5M-10 26l-3 -10m3 10l8 4m-8 -4l-8 9m8 -9M116 26l-3 -10m3 10l8 4m-8 -4l-8 9m8 -9M41 78l1 -10m-1 10l11 8m-11 -8l-10 3m10 -3M0 74l4 -12m-4 12l7 7m-7 -7l-9 2m9 -2M126 74l4 -12m-4 12l7 7m-7 -7l-9 2m9 -2M106 -2l3 -9m-3 9l11 8m-11 -8l-8 2m8 -2M106 96l3 -9m-3 9l11 8m-11 -8l-8 2m8 -2M29 -3l2 -12m-2 12l9 9m-9 -9l-9 3m9 -3M29 95l2 -12m-2 12l9 9m-9 -9l-9 3m9 -3M22 38l4 -11m-4 11l8 10m-8 -10l-12 1m12 -1M111 4l2 -11m-2 11l10 8m-10 -8l-8 4m8 -4M111 102l2 -11m-2 11l10 8m-10 -8l-8 4m8 -4M-12 53l1 -9m-1 9l8 7m-8 -7l-10 7m10 -7M114 53l1 -9m-1 9l8 7m-8 -7l-10 7m10 -7M63 48l-4 -10m4 10l11 3m-11 -3l-9 6m9 -6M63 82l-3 -8m3 8l7 4m-7 -4l-9 7m9 -7M5 18l2 -11m-2 11l8 9m-8 -9l-9 3m9 -3M131 18l2 -11m-2 11l8 9m-8 -9l-9 3m9 -3M57 52l-1 -8m1 8l13 4m-13 -4l-7 6m7 -6M26 11l-5 -8m5 8l8 3m-8 -3l-9 6m9 -6M26 109l-5 -8m5 8l8 3m-8 -3l-9 6m9 -6M42 3l3 -8m-3 8l6 8m-6 -8l-13 2m13 -2M42 101l3 -8m-3 8l6 8m-6 -8l-13 2m13 -2M-9 49l1 -9m-1 9l7 6m-7 -6l-8 5m8 -5M117 49l1 -9m-1 9l7 6m-7 -6l-8 5m8 -5M22 23l-5 -10m5 10l9 2m-9 -2l-5 6m5 -6M61 -2l-2 -12m2 12l8 3m-8 -3l-7 5m7 -5M61 96l-2 -12m2 12l8 3m-8 -3l-7 5m7 -5M2 38l1 -13m-1 13l9 8m-9 -8l-9 4m9 -4M128 38l1 -13m-1 13l9 8m-9 -8l-9 4m9 -4M-4 39l-2 -11m2 11l7 5m-7 -5l-6 6m6 -6M122 39l-2 -11m2 11l7 5m-7 -5l-6 6m6 -6M-6 48l-6 -10m6 10l9 0m-9 0l-6 5m6 -5M120 48l-6 -10m6 10l9 0m-9 0l-6 5m6 -5M-11 -7l-2 -9m2 9l8 8m-8 -8l-10 5m10 -5M-11 91l-2 -9m2 9l8 8m-8 -8l-10 5m10 -5M115 -7l-2 -9m2 9l8 8m-8 -8l-10 5m10 -5M115 91l-2 -9m2 9l8 8m-8 -8l-10 5m10 -5M13 51l2 -8m-2 8l6 6m-6 -6l-10 3m10 -3M139 51l2 -8m-2 8l6 6m-6 -6l-10 3m10 -3M2 3l-1 -11m1 11l7 5m-7 -5l-11 3m11 -3M2 101l-1 -11m1 11l7 5m-7 -5l-11 3m11 -3M128 3l-1 -11m1 11l7 5m-7 -5l-11 3m11 -3M128 101l-1 -11m1 11l7 5m-7 -5l-11 3m11 -3M46 65l2 -13m-2 13l7 6m-7 -6l-12 1m12 -1M29 -4l3 -10m-3 10l10 9m-10 -9l-9 3m9 -3M29 94l3 -10m-3 10l10 9m-10 -9l-9 3m9 -3M-4 76l1 -8m-1 8l8 6m-8 -6l-12 2m12 -2M122 76l1 -8m-1 8l8 6m-8 -6l-12 2m12 -2M15 34l-2 -12m2 12l10 1m-10 -1l-6 7m6 -7M2 71l0 -11m0 11l13 2m-13 -2l-11 7m11 -7M128 71l0 -11m0 11l13 2m-13 -2l-11 7m11 -7M61 13l-1 -13m1 13l12 5m-12 -5l-10 4m10 -4M61 111l-1 -13m1 13l12 5m-12 -5l-10 4m10 -4M8 59l2 -11m-2 11l11 6m-11 -6l-11 3m11 -3M134 59l2 -11m-2 11l11 6m-11 -6l-11 3m11 -3M70 12l-3 -9m3 9l10 6m-10 -6l-12 5m12 -5M70 110l-3 -9m3 9l10 6m-10 -6l-12 5m12 -5M3 80l2 -12m-2 12l6 8m-6 -8l-9 2m9 -2M129 80l2 -12m-2 12l6 8m-6 -8l-9 2m9 -2M50 70l2 -9m-2 9l6 9m-6 -9l-12 3m12 -3M8 72l-4 -9m4 9l9 2m-9 -2l-8 9m8 -9M134 72l-4 -9m4 9l9 2m-9 -2l-8 9m8 -9M59 3l-1 -11m1 11l7 5m-7 -5l-9 4m9 -4M59 101l-1 -11m1 11l7 5m-7 -5l-9 4m9 -4M95 75l-6 -12m6 12l10 1m-10 -1l-7 5m7 -5" stroke="#fff" stroke-width="4.6" stroke-linecap="round" fill="none"/></pattern>
<mask id="mV2" maskUnits="userSpaceOnUse" x="0" y="0" width="1956" height="760"><rect width="1956" height="760" fill="url(#pV2)"/></mask>
</defs>
<clipPath id="sc00"><rect x="219.3" y="277.3" width="208.2" height="58.6"/></clipPath>
<g clip-path="url(#sc00)">
<rect x="219.3" y="277.3" width="208.2" height="58.6" fill="#f3d867" opacity="0.06"/>
<rect x="219.3" y="277.3" width="208.2" height="58.6" fill="#b0b0b0" opacity="0.25" mask="url(#mY0)"/>
<rect x="219.3" y="277.3" width="208.2" height="58.6" fill="#f3d867" opacity="0.4" mask="url(#mY1)"/>
<rect x="219.3" y="277.3" width="208.2" height="58.6" fill="#f3d867" opacity="0.75" mask="url(#mY2)"/>
<rect x="219.3" y="277.3" width="208.2" height="18" fill="url(#fadeT)"/>
</g>
<clipPath id="gc00"><rect x="219.3" y="338.4" width="208.2" height="51.2"/></clipPath>
<g clip-path="url(#gc00)">
<rect x="219.3" y="351.4" width="208.2" height="38.2" fill="#c8960f"/>
<circle cx="209.1" cy="378" r="13.9" fill="url(#gD)" stroke="#5e4400" stroke-width="0.85"/>
<circle cx="235" cy="378" r="13.9" fill="url(#gS)" stroke="#5e4400" stroke-width="0.85"/>
<circle cx="260.9" cy="378" r="13.9" fill="url(#gD)" stroke="#5e4400" stroke-width="0.85"/>
<circle cx="286.8" cy="378" r="13.9" fill="url(#gS)" stroke="#5e4400" stroke-width="0.85"/>
<circle cx="312.7" cy="378" r="13.9" fill="url(#gD)" stroke="#5e4400" stroke-width="0.85"/>
<circle cx="338.6" cy="378" r="13.9" fill="url(#gS)" stroke="#5e4400" stroke-width="0.85"/>
<circle cx="364.5" cy="378" r="13.9" fill="url(#gD)" stroke="#5e4400" stroke-width="0.85"/>
<circle cx="390.4" cy="378" r="13.9" fill="url(#gS)" stroke="#5e4400" stroke-width="0.85"/>
<circle cx="416.3" cy="378" r="13.9" fill="url(#gD)" stroke="#5e4400" stroke-width="0.85"/>
<circle cx="227.2" cy="353.7" r="14.1" fill="url(#gS)" stroke="#5e4400" stroke-width="0.85"/>
<circle cx="253.1" cy="353.7" r="14.1" fill="url(#gS)" stroke="#5e4400" stroke-width="0.85"/>
<circle cx="279" cy="353.7" r="14.1" fill="url(#gS)" stroke="#5e4400" stroke-width="0.85"/>
<circle cx="304.9" cy="353.7" r="14.1" fill="url(#gS)" stroke="#5e4400" stroke-width="0.85"/>
<circle cx="330.8" cy="353.7" r="14.1" fill="url(#gS)" stroke="#5e4400" stroke-width="0.85"/>
<circle cx="356.7" cy="353.7" r="14.1" fill="url(#gS)" stroke="#5e4400" stroke-width="0.85"/>
<circle cx="382.6" cy="353.7" r="14.1" fill="url(#gS)" stroke="#5e4400" stroke-width="0.85"/>
<circle cx="408.5" cy="353.7" r="14.1" fill="url(#gS)" stroke="#5e4400" stroke-width="0.85"/>
<circle cx="434.4" cy="353.7" r="14.1" fill="url(#gS)" stroke="#5e4400" stroke-width="0.85"/>
</g>
<clipPath id="sc01"><rect x="436.2" y="270.6" width="205.4" height="65.3"/></clipPath>
<g clip-path="url(#sc01)">
<rect x="436.2" y="270.6" width="205.4" height="65.3" fill="#e05a5a" opacity="0.05"/>
<rect x="436.2" y="270.6" width="205.4" height="65.3" fill="#b0b0b0" opacity="0.25" mask="url(#mY0)"/>
<rect x="436.2" y="270.6" width="205.4" height="65.3" fill="#e05a5a" opacity="0.3" mask="url(#mY1)"/>
<rect x="436.2" y="270.6" width="205.4" height="65.3" fill="#e05a5a" opacity="0.64" mask="url(#mY2)"/>
<rect x="436.2" y="270.6" width="205.4" height="18" fill="url(#fadeT)"/>
</g>
<clipPath id="gc01"><rect x="436.2" y="338.4" width="205.4" height="51.2"/></clipPath>
<g clip-path="url(#gc01)">
<rect x="436.2" y="351.4" width="205.4" height="38.2" fill="#c8960f"/>
<circle cx="443.8" cy="351.9" r="13.6" fill="url(#gD)" stroke="#5e4400" stroke-width="0.85"/>
<circle cx="473.1" cy="351.9" r="13.6" fill="url(#gD)" stroke="#5e4400" stroke-width="0.85"/>
<circle cx="502.4" cy="351.9" r="13.6" fill="url(#gD)" stroke="#5e4400" stroke-width="0.85"/>
<circle cx="531.8" cy="351.9" r="13.6" fill="url(#gD)" stroke="#5e4400" stroke-width="0.85"/>
<circle cx="561" cy="351.9" r="13.6" fill="url(#gD)" stroke="#5e4400" stroke-width="0.85"/>
<circle cx="590.4" cy="351.9" r="13.6" fill="url(#gD)" stroke="#5e4400" stroke-width="0.85"/>
<circle cx="619.6" cy="351.9" r="13.6" fill="url(#gD)" stroke="#5e4400" stroke-width="0.85"/>
<circle cx="648.9" cy="351.9" r="13.6" fill="url(#gD)" stroke="#5e4400" stroke-width="0.85"/>
<circle cx="429.2" cy="378" r="14.9" fill="url(#gS)" stroke="#5e4400" stroke-width="0.85"/>
<circle cx="458.5" cy="378" r="14.9" fill="url(#gS)" stroke="#5e4400" stroke-width="0.85"/>
<circle cx="487.8" cy="378" r="14.9" fill="url(#gS)" stroke="#5e4400" stroke-width="0.85"/>
<circle cx="517.1" cy="378" r="14.9" fill="url(#gS)" stroke="#5e4400" stroke-width="0.85"/>
<circle cx="546.4" cy="378" r="14.9" fill="url(#gS)" stroke="#5e4400" stroke-width="0.85"/>
<circle cx="575.7" cy="378" r="14.9" fill="url(#gS)" stroke="#5e4400" stroke-width="0.85"/>
<circle cx="605" cy="378" r="14.9" fill="url(#gS)" stroke="#5e4400" stroke-width="0.85"/>
<circle cx="634.3" cy="378" r="14.9" fill="url(#gS)" stroke="#5e4400" stroke-width="0.85"/>
<circle cx="429.2" cy="354.6" r="15.1" fill="url(#gS)" stroke="#5e4400" stroke-width="0.85"/>
<circle cx="458.5" cy="354.6" r="15.1" fill="url(#gS)" stroke="#5e4400" stroke-width="0.85"/>
<circle cx="487.8" cy="354.6" r="15.1" fill="url(#gS)" stroke="#5e4400" stroke-width="0.85"/>
<circle cx="517.1" cy="354.6" r="15.1" fill="url(#gS)" stroke="#5e4400" stroke-width="0.85"/>
<circle cx="546.4" cy="354.6" r="15.1" fill="url(#gS)" stroke="#5e4400" stroke-width="0.85"/>
<circle cx="575.7" cy="354.6" r="15.1" fill="url(#gS)" stroke="#5e4400" stroke-width="0.85"/>
<circle cx="605" cy="354.6" r="15.1" fill="url(#gS)" stroke="#5e4400" stroke-width="0.85"/>
<circle cx="634.3" cy="354.6" r="15.1" fill="url(#gS)" stroke="#5e4400" stroke-width="0.85"/>
</g>
<clipPath id="sc02"><rect x="650" y="275" width="208.4" height="60.9"/></clipPath>
<g clip-path="url(#sc02)">
<rect x="650" y="275" width="208.4" height="60.9" fill="#f4a656" opacity="0.06"/>
<rect x="650" y="275" width="208.4" height="60.9" fill="#b0b0b0" opacity="0.25" mask="url(#mY0)"/>
<rect x="650" y="275" width="208.4" height="60.9" fill="#f4a656" opacity="0.35" mask="url(#mY1)"/>
<rect x="650" y="275" width="208.4" height="60.9" fill="#f4a656" opacity="0.68" mask="url(#mY2)"/>
<rect x="650" y="275" width="208.4" height="18" fill="url(#fadeT)"/>
</g>
<clipPath id="gc02"><rect x="650" y="338.4" width="208.4" height="51.2"/></clipPath>
<g clip-path="url(#gc02)">
<rect x="650" y="351.4" width="208.4" height="38.2" fill="#c8960f"/>
<circle cx="657.5" cy="351.9" r="13.6" fill="url(#gD)" stroke="#5e4400" stroke-width="0.85"/>
<circle cx="686.9" cy="351.9" r="13.6" fill="url(#gD)" stroke="#5e4400" stroke-width="0.85"/>
<circle cx="716.3" cy="351.9" r="13.6" fill="url(#gD)" stroke="#5e4400" stroke-width="0.85"/>
<circle cx="745.7" cy="351.9" r="13.6" fill="url(#gD)" stroke="#5e4400" stroke-width="0.85"/>
<circle cx="775.1" cy="351.9" r="13.6" fill="url(#gD)" stroke="#5e4400" stroke-width="0.85"/>
<circle cx="804.5" cy="351.9" r="13.6" fill="url(#gD)" stroke="#5e4400" stroke-width="0.85"/>
<circle cx="833.9" cy="351.9" r="13.6" fill="url(#gD)" stroke="#5e4400" stroke-width="0.85"/>
<circle cx="863.3" cy="351.9" r="13.6" fill="url(#gD)" stroke="#5e4400" stroke-width="0.85"/>
<circle cx="657.5" cy="378" r="14.9" fill="url(#gS)" stroke="#5e4400" stroke-width="0.85"/>
<circle cx="686.9" cy="378" r="14.9" fill="url(#gS)" stroke="#5e4400" stroke-width="0.85"/>
<circle cx="716.3" cy="378" r="14.9" fill="url(#gS)" stroke="#5e4400" stroke-width="0.85"/>
<circle cx="745.7" cy="378" r="14.9" fill="url(#gS)" stroke="#5e4400" stroke-width="0.85"/>
<circle cx="775.1" cy="378" r="14.9" fill="url(#gS)" stroke="#5e4400" stroke-width="0.85"/>
<circle cx="804.5" cy="378" r="14.9" fill="url(#gS)" stroke="#5e4400" stroke-width="0.85"/>
<circle cx="833.9" cy="378" r="14.9" fill="url(#gS)" stroke="#5e4400" stroke-width="0.85"/>
<circle cx="863.3" cy="378" r="14.9" fill="url(#gS)" stroke="#5e4400" stroke-width="0.85"/>
<circle cx="642.8" cy="354.7" r="15.1" fill="url(#gS)" stroke="#5e4400" stroke-width="0.85"/>
<circle cx="672.2" cy="354.7" r="15.1" fill="url(#gS)" stroke="#5e4400" stroke-width="0.85"/>
<circle cx="701.6" cy="354.7" r="15.1" fill="url(#gS)" stroke="#5e4400" stroke-width="0.85"/>
<circle cx="731" cy="354.7" r="15.1" fill="url(#gS)" stroke="#5e4400" stroke-width="0.85"/>
<circle cx="760.4" cy="354.7" r="15.1" fill="url(#gS)" stroke="#5e4400" stroke-width="0.85"/>
<circle cx="789.8" cy="354.7" r="15.1" fill="url(#gS)" stroke="#5e4400" stroke-width="0.85"/>
<circle cx="819.2" cy="354.7" r="15.1" fill="url(#gS)" stroke="#5e4400" stroke-width="0.85"/>
<circle cx="848.6" cy="354.7" r="15.1" fill="url(#gS)" stroke="#5e4400" stroke-width="0.85"/>
</g>
<clipPath id="sc03"><rect x="864.6" y="265" width="208.4" height="70.9"/></clipPath>
<g clip-path="url(#sc03)">
<rect x="864.6" y="265" width="208.4" height="70.9" fill="#7ec87e" opacity="0.06"/>
<rect x="864.6" y="265" width="208.4" height="70.9" fill="#b0b0b0" opacity="0.28" mask="url(#mY0)"/>
<rect x="864.6" y="265" width="208.4" height="70.9" fill="#7ec87e" opacity="0.45" mask="url(#mY1)"/>
<rect x="864.6" y="265" width="208.4" height="70.9" fill="#7ec87e" opacity="0.8" mask="url(#mY2)"/>
<rect x="864.6" y="265" width="208.4" height="18" fill="url(#fadeT)"/>
</g>
<clipPath id="gc03"><rect x="864.6" y="338.4" width="208.4" height="51.2"/></clipPath>
<g clip-path="url(#gc03)">
<rect x="864.6" y="351.4" width="208.4" height="38.2" fill="#c8960f"/>
<circle cx="858.7" cy="378" r="13.9" fill="url(#gD)" stroke="#5e4400" stroke-width="0.85"/>
<circle cx="884.8" cy="378" r="13.9" fill="url(#gS)" stroke="#5e4400" stroke-width="0.85"/>
<circle cx="910.9" cy="378" r="13.9" fill="url(#gD)" stroke="#5e4400" stroke-width="0.85"/>
<circle cx="937" cy="378" r="13.9" fill="url(#gS)" stroke="#5e4400" stroke-width="0.85"/>
<circle cx="963.1" cy="378" r="13.9" fill="url(#gD)" stroke="#5e4400" stroke-width="0.85"/>
<circle cx="989.2" cy="378" r="13.9" fill="url(#gS)" stroke="#5e4400" stroke-width="0.85"/>
<circle cx="1015.3" cy="378" r="13.9" fill="url(#gD)" stroke="#5e4400" stroke-width="0.85"/>
<circle cx="1041.4" cy="378" r="13.9" fill="url(#gS)" stroke="#5e4400" stroke-width="0.85"/>
<circle cx="1067.5" cy="378" r="13.9" fill="url(#gD)" stroke="#5e4400" stroke-width="0.85"/>
<circle cx="871.7" cy="353.7" r="14.1" fill="url(#gS)" stroke="#5e4400" stroke-width="0.85"/>
<circle cx="897.8" cy="353.7" r="14.1" fill="url(#gS)" stroke="#5e4400" stroke-width="0.85"/>
<circle cx="923.9" cy="353.7" r="14.1" fill="url(#gS)" stroke="#5e4400" stroke-width="0.85"/>
<circle cx="950" cy="353.7" r="14.1" fill="url(#gS)" stroke="#5e4400" stroke-width="0.85"/>
<circle cx="976.1" cy="353.7" r="14.1" fill="url(#gS)" stroke="#5e4400" stroke-width="0.85"/>
<circle cx="1002.2" cy="353.7" r="14.1" fill="url(#gS)" stroke="#5e4400" stroke-width="0.85"/>
<circle cx="1028.3" cy="353.7" r="14.1" fill="url(#gS)" stroke="#5e4400" stroke-width="0.85"/>
<circle cx="1054.4" cy="353.7" r="14.1" fill="url(#gS)" stroke="#5e4400" stroke-width="0.85"/>
<circle cx="1080.5" cy="353.7" r="14.1" fill="url(#gS)" stroke="#5e4400" stroke-width="0.85"/>
</g>
<clipPath id="sc04"><rect x="1078.4" y="193.6" width="208.7" height="142.3"/></clipPath>
<g clip-path="url(#sc04)">
<rect x="1078.4" y="193.6" width="208.7" height="142.3" fill="#6fbde9" opacity="0.08"/>
<rect x="1078.4" y="193.6" width="208.7" height="142.3" fill="#b0b0b0" opacity="0.38" mask="url(#mX0)"/>
<rect x="1078.4" y="193.6" width="208.7" height="142.3" fill="#6fbde9" opacity="0.42" mask="url(#mX1)"/>
<rect x="1078.4" y="193.6" width="208.7" height="142.3" fill="#6fbde9" opacity="0.72" mask="url(#mX2)"/>
<rect x="1078.4" y="193.6" width="208.7" height="18" fill="url(#fadeT)" opacity="0.55"/>
</g>
<clipPath id="gc04"><rect x="1078.4" y="338.4" width="208.7" height="51.2"/></clipPath>
<g clip-path="url(#gc04)">
<rect x="1078.4" y="351.4" width="208.7" height="38.2" fill="#c8960f"/>
<circle cx="1077.5" cy="378" r="13.9" fill="url(#gD)" stroke="#5e4400" stroke-width="0.85"/>
<circle cx="1103.3" cy="378" r="13.9" fill="url(#gS)" stroke="#5e4400" stroke-width="0.85"/>
<circle cx="1129.1" cy="378" r="13.9" fill="url(#gD)" stroke="#5e4400" stroke-width="0.85"/>
<circle cx="1154.9" cy="378" r="13.9" fill="url(#gS)" stroke="#5e4400" stroke-width="0.85"/>
<circle cx="1180.7" cy="378" r="13.9" fill="url(#gD)" stroke="#5e4400" stroke-width="0.85"/>
<circle cx="1206.5" cy="378" r="13.9" fill="url(#gS)" stroke="#5e4400" stroke-width="0.85"/>
<circle cx="1232.3" cy="378" r="13.9" fill="url(#gD)" stroke="#5e4400" stroke-width="0.85"/>
<circle cx="1258.1" cy="378" r="13.9" fill="url(#gS)" stroke="#5e4400" stroke-width="0.85"/>
<circle cx="1283.9" cy="378" r="13.9" fill="url(#gD)" stroke="#5e4400" stroke-width="0.85"/>
<circle cx="1086.1" cy="353.7" r="14.1" fill="url(#gS)" stroke="#5e4400" stroke-width="0.85"/>
<circle cx="1111.9" cy="353.7" r="14.1" fill="url(#gS)" stroke="#5e4400" stroke-width="0.85"/>
<circle cx="1137.7" cy="353.7" r="14.1" fill="url(#gS)" stroke="#5e4400" stroke-width="0.85"/>
<circle cx="1163.5" cy="353.7" r="14.1" fill="url(#gS)" stroke="#5e4400" stroke-width="0.85"/>
<circle cx="1189.3" cy="353.7" r="14.1" fill="url(#gS)" stroke="#5e4400" stroke-width="0.85"/>
<circle cx="1215.1" cy="353.7" r="14.1" fill="url(#gS)" stroke="#5e4400" stroke-width="0.85"/>
<circle cx="1240.9" cy="353.7" r="14.1" fill="url(#gS)" stroke="#5e4400" stroke-width="0.85"/>
<circle cx="1266.7" cy="353.7" r="14.1" fill="url(#gS)" stroke="#5e4400" stroke-width="0.85"/>
<circle cx="1292.5" cy="353.7" r="14.1" fill="url(#gS)" stroke="#5e4400" stroke-width="0.85"/>
</g>
<clipPath id="sc05"><rect x="1295.6" y="186" width="208.4" height="149.9"/></clipPath>
<g clip-path="url(#sc05)">
<rect x="1295.6" y="186" width="208.4" height="149.9" fill="#8f8fd0" opacity="0.03"/>
<path d="M1291 184l9 9l11 1m-11 -1l-4 7l-9 3m9 -3l9 9l10 -2m-10 2l-4 7l9 9l11 -3m-11 3l-5 7l-9 -2m9 2l9 8l9 5m-9 -5l-4 7l-8 1m8 -1l8 8l10 4m-10 -4l-4 7l-11 0m11 0l9 8l10 -4m-10 4l-4 8l-9 -4m9 4l9 8l8 3m-8 -3l-5 8l-9 -1m9 1l9 6l9 -1m-9 1l-4 8l-9 4m9 -4l8 8l9 -2m-9 2l-4 6l8 7l8 3m-8 -3l-4 7l-10 2m10 -2M1306 187l9 7l10 -3m-10 3l-5 8l-11 -2m11 2l9 7l11 1m-11 -1l-5 7l-9 4m9 -4l9 8l8 1m-8 -1l-4 8l-10 -4m10 4l9 8l9 1m-9 -1l-4 7l-8 -2m8 2l8 8l10 -1m-10 1l-4 7l-9 3m9 -3l8 6l10 -1m-10 1l-4 8l-8 0m8 0l9 8l7 -4m-7 4l-4 8l-10 0m10 0l9 8l10 2m-10 -2l-5 7l9 8l-4 8l-10 -4m10 4l9 8l11 1m-11 -1l-5 7l-10 1m10 -1M1336 186l8 7l9 4m-9 -4l-4 8l9 7l8 0m-8 0l-5 7l-10 3m10 -3l9 7l-4 8l-9 -3m9 3l8 7l8 -2m-8 2l-4 8l-8 -3m8 3l9 8l10 1m-10 -1l-4 8l-10 -6m10 6l9 9l8 3m-8 -3l-4 7l-9 2m9 -2l8 8l8 -3m-8 3l-4 8l-10 -1m10 1l9 7l9 -3m-9 3l-4 8l-11 1m11 -1l8 7l-5 6l-11 1m11 -1l9 9l-4 6l-10 -3m10 3M1350 186l8 8l10 -2m-10 2l-3 8l-10 5m10 -5l8 8l9 -1m-9 1l-4 8l-9 0m9 0l9 7l9 5m-9 -5l-4 8l-9 -1m9 1l8 7l8 2m-8 -2l-4 8l-8 0m8 0l9 7l11 -2m-11 2l-4 9l8 7l7 -4m-7 4l-4 6l-11 -4m11 4l8 7l7 3m-7 -3l-4 8l-11 4m11 -4l9 8l-4 8l-10 -3m10 3l8 7l9 -4m-9 4l-4 7l-8 -4m8 4l8 8l-4 7M1383 186l9 8l10 -4m-10 4l-4 9l-11 0m11 0l8 7l10 -3m-10 3l-4 8l-9 -2m9 2l8 6l-4 7l-7 -4m7 4l9 8l10 0m-10 0l-4 7l-10 -4m10 4l8 8l9 0m-9 0l-4 7l-11 0m11 0l8 8l10 4m-10 -4l-4 7l-8 3m8 -3l9 8l10 0m-10 0l-4 8l8 7l11 -1m-11 1l-4 7l-10 -5m10 5l9 8l10 5m-10 -5l-4 8l-11 1m11 -1l8 7l9 4m-9 -4l-4 8l-10 -4m10 4M1396 185l9 7l10 0m-10 0l-4 7l-10 3m10 -3l8 6l9 1m-9 -1l-4 8l-8 0m8 0l9 8l9 -4m-9 4l-5 8l9 8l10 -1m-10 1l-4 7l-10 -3m10 3l9 8l8 4m-8 -4l-4 8l-9 -1m9 1l9 9l9 1m-9 -1l-4 8l-10 -1m10 1l8 8l11 -2m-11 2l-4 8l-9 2m9 -2l9 8l9 5m-9 -5l-5 6l-10 2m10 -2l9 7l8 3m-8 -3l-4 8l-8 0m8 0l8 7l11 3m-11 -3l-4 9l-9 3m9 -3M1433 185l8 7l9 2m-9 -2l-4 8l-11 0m11 0l9 8l8 -3m-8 3l-5 7l-10 -5m10 5l9 7l11 1m-11 -1l-5 7l9 7l-4 7l-10 1m10 -1l8 8l-4 8l-8 -3m8 3l9 7l10 5m-10 -5l-5 7l-8 4m8 -4l9 9l9 1m-9 -1l-4 8l-10 0m10 0l9 8l-4 8l-11 -2m11 2l8 7l10 4m-10 -4l-4 7l-9 -1m9 1l9 9l-4 8l-10 5m10 -5M1446 184l9 9l9 1m-9 -1l-4 7l-8 -1m8 1l9 8l8 -2m-8 2l-5 7l-10 4m10 -4l9 7l11 3m-11 -3l-4 8l-10 3m10 -3l8 8l11 2m-11 -2l-4 7l-9 4m9 -4l8 7l-4 7l-8 -1m8 1l8 6l10 -3m-10 3l-4 8l-11 0m11 0l9 8l9 -3m-9 3l-4 7l-8 -5m8 5l8 8l10 -4m-10 4l-4 7l-11 2m11 -2l9 8l8 0m-8 0l-4 9l-8 -2m8 2l9 7l8 3m-8 -3l-5 7l-8 3m8 -3l9 7l11 0m-11 0M1475 184l9 7l8 -3m-8 3l-4 8l-8 3m8 -3l8 7l8 0m-8 0l-4 7l-8 4m8 -4l8 7l-4 7l-11 1m11 -1l8 8l9 5m-9 -5l-4 7l-9 -5m9 5l9 8l11 0m-11 0l-4 7l-10 1m10 -1l9 9l-4 8l8 7l10 1m-10 -1l-4 7l-8 -2m8 2l9 8l9 -3m-9 3l-5 7l-10 -5m10 5l9 8l10 5m-10 -5l-4 7l-10 5m10 -5l8 8l10 4m-10 -4l-4 8l-11 1m11 -1M1490 185l8 7l10 -2m-10 2l-5 6l-8 3m8 -3l9 9l10 -4m-10 4l-4 8l-9 -5m9 5l9 8l8 -2m-8 2l-4 8l-9 5m9 -5l9 7l10 -3m-10 3l-5 7l-11 1m11 -1l9 8l-4 7l-9 -2m9 2l8 7l9 -1m-9 1l-4 8l-10 5m10 -5l8 7l9 3m-9 -3l-4 8l-8 3m8 -3l9 8l-4 7l-8 2m8 -2l8 7l-4 8l9 8l10 -5m-10 5l-4 9l-9 -1m9 1M1246 186l8 7l9 -4m-9 4l-4 8l-9 -4m9 4l9 7l10 -5m-10 5l-5 7l-11 2m11 -2l9 9l8 0m-8 0l-4 7l-11 -2m11 2l9 8l9 -3m-9 3l-5 7l-10 -2m10 2l9 6l8 0m-8 0l-4 9l-8 -4m8 4l9 8l8 4m-8 -4l-4 8l-10 -4m10 4l8 7l10 3m-10 -3l-4 7l8 7l10 -4m-10 4l-4 7l-8 0m8 0l8 7l9 -3m-9 3l-4 7l-10 4m10 -4l9 8l11 0m-11 0l-5 8l-11 4m11 -4M1260 186l9 8l9 0m-9 0l-4 8l-10 -1m10 1l8 8l10 -3m-10 3l-4 8l-10 -1m10 1l9 8l-4 8l-11 -2m11 2l8 6l7 4m-7 -4l-4 7l-11 1m11 -1l9 8l-5 7l-9 4m9 -4l8 7l9 -1m-9 1l-4 6l-10 -3m10 3l8 7l-4 7l9 8l-5 6l-9 2m9 -2l9 7l9 2m-9 -2l-5 7l-11 2m11 -2l9 8l10 2m-10 -2l-4 8l9 8l8 4m-8 -4" stroke="#b0b0c4" stroke-width="4.6" stroke-linecap="round" stroke-linejoin="round" fill="none" stroke-opacity="0.2"/>
<path d="M1293 183l9 7l9 -2m-9 2l-4 7l-11 2m11 -2l8 8l8 3m-8 -3l-4 8l-9 0m9 0l9 7l9 4m-9 -4l-4 8l-9 0m9 0l8 7l-4 8l-9 -4m9 4l9 8l8 4m-8 -4l-4 9l-11 -2m11 2l9 7l-4 9l-9 -1m9 1l8 7l11 3m-11 -3l-4 7l-10 5m10 -5l9 8l10 3m-10 -3l-5 7l-9 1m9 -1l9 8l10 0m-10 0l-4 7l-10 5m10 -5l8 8l9 -1m-9 1l-4 7l-8 2m8 -2M1302 183l9 8l9 -3m-9 3l-4 8l-9 3m9 -3l9 8l-4 7l-8 -4m8 4l8 8l10 0m-10 0l-4 7l9 8l10 -5m-10 5l-5 7l-10 0m10 0l9 7l10 0m-10 0l-5 7l-9 0m9 0l9 6l10 2m-10 -2l-5 7l-10 0m10 0l9 7l9 -4m-9 4l-4 8l-10 2m10 -2l8 7l9 -2m-9 2l-4 9l9 7l8 -2m-8 2l-4 8l-9 0m9 0l8 7l10 0m-10 0l-4 8l9 8l9 5m-9 -5M1338 184l8 7l8 5m-8 -5l-4 9l-9 4m9 -4l9 8l8 0m-8 0l-4 7l-7 3m7 -3l8 7l-4 7l-8 -3m8 3l8 7l9 4m-9 -4l-4 8l-11 2m11 -2l9 7l8 -3m-8 3l-4 8l-9 -1m9 1l8 8l8 3m-8 -3l-4 8l9 7l10 1m-10 -1l-4 8l-9 -2m9 2l9 8l8 -4m-8 4l-5 8l-8 -1m8 1l9 8l9 1m-9 -1l-4 8l-8 -4m8 4l9 7l10 -3m-10 3l-5 7l-8 -4m8 4M1347 185l9 7l9 0m-9 0l-5 8l-8 2m8 -2l9 8l-4 8l-9 -1m9 1l9 7l-5 7l-10 -3m10 3l9 7l10 -5m-10 5l-4 8l-11 0m11 0l8 7l10 0m-10 0l-4 7l-11 2m11 -2l8 7l8 1m-8 -1l-4 7l-9 5m9 -5l8 7l11 -2m-11 2l-4 7l-8 -1m8 1l8 7l9 3m-9 -3l-4 6l-10 2m10 -2l8 7l9 -1m-9 1l-4 7l-10 2m10 -2l8 8l8 -4m-8 4l-4 7l9 7M1385 184l8 7l8 -3m-8 3l-4 7l8 7l10 -4m-10 4l-4 8l-8 4m8 -4l9 8l-4 7l-9 1m9 -1l8 6l8 0m-8 0l-4 7l-8 -2m8 2l8 9l8 -2m-8 2l-4 6l-9 1m9 -1l9 9l9 -5m-9 5l-4 7l-9 -1m9 1l8 8l10 0m-10 0l-4 7l-9 0m9 0l8 7l9 0m-9 0l-4 8l-9 4m9 -4l9 8l9 2m-9 -2l-4 8l-9 3m9 -3l9 8l9 -4m-9 4l-4 7l-8 -2m8 2l8 7l10 3m-10 -3M1394 186l9 9l9 -1m-9 1l-4 6l-8 3m8 -3l9 8l9 -2m-9 2l-5 7l-9 3m9 -3l9 8l-4 7l-11 0m11 0l8 8l11 -4m-11 4l-4 8l-9 -1m9 1l9 7l-5 6l-9 -3m9 3l9 9l10 5m-10 -5l-4 7l-8 4m8 -4l8 8l8 -1m-8 1l-4 6l-8 3m8 -3l8 8l11 0m-11 0l-4 8l-10 -2m10 2l9 8l8 3m-8 -3l-4 8l9 8l11 2m-11 -2l-4 7l-11 -3m11 3M1435 184l9 8l9 1m-9 -1l-5 8l-8 -3m8 3l9 7l9 3m-9 -3l-4 9l-11 -4m11 4l9 7l9 -5m-9 5l-4 9l-8 1m8 -1l8 8l9 -3m-9 3l-4 8l-10 -3m10 3l9 6l8 -4m-8 4l-4 8l-10 2m10 -2l8 8l-4 8l-11 3m11 -3l9 8l8 2m-8 -2l-4 7l-11 -1m11 1l8 7l9 2m-9 -2l-4 7l-9 4m9 -4l9 8l-5 7l-8 0m8 0l9 8l9 1m-9 -1l-4 8l-9 2m9 -2M1444 184l8 6l-4 9l-11 -4m11 4l8 7l-4 7l-9 -4m9 4l9 7l8 -4m-8 4l-4 8l-11 -3m11 3l8 7l9 0m-9 0l-4 6l-10 1m10 -1l8 8l10 2m-10 -2l-4 9l-11 0m11 0l9 7l11 -1m-11 1l-4 8l8 8l9 1m-9 -1l-4 6l-10 -2m10 2l9 8l-5 6l-9 3m9 -3l9 8l10 5m-10 -5l-4 7l8 9l8 2m-8 -2l-4 7l-9 5m9 -5l9 7l10 2m-10 -2M1478 185l8 7l11 -2m-11 2l-4 8l-11 -2m11 2l9 8l9 1m-9 -1l-4 7l8 8l9 4m-9 -4l-4 6l-9 -3m9 3l9 9l-4 7l-9 -4m9 4l8 7l10 3m-10 -3l-4 7l-8 2m8 -2l9 9l10 4m-10 -4l-4 8l-11 1m11 -1l8 8l10 -3m-10 3l-4 7l-9 3m9 -3l9 7l10 3m-10 -3l-4 8l-8 -4m8 4l8 8l10 1m-10 -1l-4 7l-7 -3m7 3l8 7l8 -4m-8 4l-4 7l-8 4m8 -4M1488 187l8 7l-4 7l8 7l11 -2m-11 2l-4 6l-11 0m11 0l8 8l10 -3m-10 3l-4 8l-10 -4m10 4l9 8l9 4m-9 -4l-4 7l8 7l7 4m-7 -4l-4 7l-9 -4m9 4l9 8l-5 8l-9 2m9 -2l9 6l10 2m-10 -2l-5 7l-7 -4m7 4l9 8l10 -2m-10 2l-4 8l-10 -2m10 2l8 7l9 4m-9 -4l-4 7l-10 -1m10 1l9 8l8 2m-8 -2l-4 8l-11 -1m11 1l8 7l8 4m-8 -4M1248 184l8 7l-4 8l-10 2m10 -2l9 8l-5 7l-10 0m10 0l9 7l8 -3m-8 3l-4 8l-11 1m11 -1l8 7l8 -4m-8 4l-4 7l-9 0m9 0l9 7l-5 8l9 7l9 3m-9 -3l-5 6l-9 -1m9 1l9 8l8 -3m-8 3l-4 8l-10 -1m10 1l8 6l9 3m-9 -3l-4 7l-9 1m9 -1l8 7l-4 8l9 9l8 2m-8 -2l-4 7l-11 0m11 0l8 7l10 4m-10 -4M1257 184l8 8l8 2m-8 -2l-4 7l-11 -4m11 4l9 7l11 1m-11 -1l-5 7l-10 -2m10 2l9 8l10 3m-10 -3l-4 8l-11 0m11 0l9 8l9 -3m-9 3l-5 7l-9 5m9 -5l9 8l9 -3m-9 3l-4 8l-10 2m10 -2l9 8l8 0m-8 0l-4 8l-10 4m10 -4l8 7l9 5m-9 -5l-4 7l-11 3m11 -3l9 8l9 -2m-9 2l-4 8l-10 -1m10 1l8 8l10 -5m-10 5l-4 8l-10 3m10 -3l9 7l9 1m-9 -1l-4 8" stroke="#8f8fd0" stroke-width="4.8" stroke-linecap="round" stroke-linejoin="round" fill="none" stroke-opacity="0.62"/>
<path d="M1299 186l8 7l11 -3m-11 3l-4 7l-10 1m10 -1l8 7l11 1m-11 -1l-4 9l-11 0m11 0l9 8l8 -4m-8 4l-4 8l-11 -1m11 1l9 7l10 0m-10 0l-4 8l-9 -1m9 1l8 7l9 1m-9 -1l-4 8l9 7l-4 8l8 7l8 0m-8 0l-4 7l-10 2m10 -2l8 7l10 -4m-10 4l-4 8l-10 4m10 -4l9 9l9 0m-9 0l-4 7l-9 -2m9 2l8 7l11 1m-11 -1l-4 8l-10 2m10 -2M1342 183l9 8l10 -3m-10 3l-5 7l-9 0m9 0l9 7l8 4m-8 -4l-4 9l-9 3m9 -3l8 7l10 -4m-10 4l-4 8l-8 -2m8 2l9 8l9 0m-9 0l-4 7l-9 3m9 -3l8 7l11 2m-11 -2l-4 8l-8 -2m8 2l9 7l10 5m-10 -5l-5 7l9 8l11 0m-11 0l-4 8l-8 5m8 -5l8 7l10 3m-10 -3l-3 8l-11 2m11 -2l8 7l8 -2m-8 2l-4 8l-11 -1m11 1l8 7l11 4m-11 -4l-4 7l-10 -2m10 2l8 7M1390 186l8 8l9 -3m-9 3l-4 8l-8 -1m8 1l9 7l10 -5m-10 5l-4 9l-8 4m8 -4l9 8l9 -4m-9 4l-4 7l8 7l11 -1m-11 1l-4 7l-9 1m9 -1l8 7l11 1m-11 -1l-4 8l-7 -4m7 4l9 7l10 -1m-10 1l-5 7l-10 0m10 0l9 8l7 3m-7 -3l-4 8l-8 -4m8 4l9 8l9 3m-9 -3l-5 7l9 7l8 3m-8 -3l-4 8l-11 -1m11 1l8 7l-4 8l-10 -5m10 5M1439 184l9 8l8 -4m-8 4l-4 7l-9 0m9 0l8 7l9 -2m-9 2l-4 8l-8 2m8 -2l9 8l11 -2m-11 2l-4 8l-9 0m9 0l8 7l8 -4m-8 4l-4 9l-11 -4m11 4l9 7l8 -3m-8 3l-4 8l-11 -2m11 2l8 7l9 4m-9 -4l-4 7l-8 4m8 -4l8 7l10 -2m-10 2l-4 8l-8 -4m8 4l9 8l8 -2m-8 2l-4 7l-10 -5m10 5l8 7l9 -4m-9 4l-4 8l-10 -4m10 4l9 7l9 2m-9 -2l-4 8l-10 -2m10 2M1483 186l8 7l10 -1m-10 1l-4 7l-10 -1m10 1l9 8l11 -2m-11 2l-5 7l-9 -1m9 1l9 8l-4 8l9 7l10 -4m-10 4l-5 8l-10 1m10 -1l9 8l11 4m-11 -4l-4 7l-9 -4m9 4l8 6l10 0m-10 0l-4 7l-10 -3m10 3l8 8l-4 7l-10 4m10 -4l9 7l-5 7l-10 5m10 -5l9 7l10 -3m-10 3l-4 8l8 8l9 -1m-9 1l-4 7l-10 1m10 -1l9 8M1252 182l8 8l8 -1m-8 1l-3 9l-11 2m11 -2l8 8l-4 7l-9 -2m9 2l9 8l-4 9l8 7l10 1m-10 -1l-4 7l9 7l7 4m-7 -4l-5 7l-10 -4m10 4l9 6l10 3m-10 -3l-5 8l-10 2m10 -2l9 8l-4 7l-11 0m11 0l9 9l9 3m-9 -3l-4 8l-8 -3m8 3l8 7l10 -1m-10 1l-4 8l-8 0m8 0l9 8l10 -2m-10 2l-4 7l-9 1m9 -1" stroke="#8f8fd0" stroke-width="5.2" stroke-linecap="round" stroke-linejoin="round" fill="none" stroke-opacity="0.92"/>
<rect x="1295.6" y="186" width="208.4" height="18" fill="url(#fadeT)" opacity="0.55"/>
</g>
<clipPath id="gc05"><rect x="1295.6" y="338.4" width="208.4" height="51.2"/></clipPath>
<g clip-path="url(#gc05)">
<rect x="1295.6" y="351.4" width="208.4" height="38.2" fill="#c8960f"/>
<circle cx="1303.2" cy="351.9" r="13.7" fill="url(#gD)" stroke="#5e4400" stroke-width="0.85"/>
<circle cx="1332.8" cy="351.9" r="13.7" fill="url(#gD)" stroke="#5e4400" stroke-width="0.85"/>
<circle cx="1362.4" cy="351.9" r="13.7" fill="url(#gD)" stroke="#5e4400" stroke-width="0.85"/>
<circle cx="1392" cy="351.9" r="13.7" fill="url(#gD)" stroke="#5e4400" stroke-width="0.85"/>
<circle cx="1421.6" cy="351.9" r="13.7" fill="url(#gD)" stroke="#5e4400" stroke-width="0.85"/>
<circle cx="1451.2" cy="351.9" r="13.7" fill="url(#gD)" stroke="#5e4400" stroke-width="0.85"/>
<circle cx="1480.8" cy="351.9" r="13.7" fill="url(#gD)" stroke="#5e4400" stroke-width="0.85"/>
<circle cx="1510.4" cy="351.9" r="13.7" fill="url(#gD)" stroke="#5e4400" stroke-width="0.85"/>
<circle cx="1306" cy="378" r="15" fill="url(#gS)" stroke="#5e4400" stroke-width="0.85"/>
<circle cx="1335.6" cy="378" r="15" fill="url(#gS)" stroke="#5e4400" stroke-width="0.85"/>
<circle cx="1365.2" cy="378" r="15" fill="url(#gS)" stroke="#5e4400" stroke-width="0.85"/>
<circle cx="1394.8" cy="378" r="15" fill="url(#gS)" stroke="#5e4400" stroke-width="0.85"/>
<circle cx="1424.4" cy="378" r="15" fill="url(#gS)" stroke="#5e4400" stroke-width="0.85"/>
<circle cx="1454" cy="378" r="15" fill="url(#gS)" stroke="#5e4400" stroke-width="0.85"/>
<circle cx="1483.6" cy="378" r="15" fill="url(#gS)" stroke="#5e4400" stroke-width="0.85"/>
<circle cx="1513.2" cy="378" r="15" fill="url(#gS)" stroke="#5e4400" stroke-width="0.85"/>
<circle cx="1288.4" cy="354.8" r="15.2" fill="url(#gS)" stroke="#5e4400" stroke-width="0.85"/>
<circle cx="1318" cy="354.8" r="15.2" fill="url(#gS)" stroke="#5e4400" stroke-width="0.85"/>
<circle cx="1347.6" cy="354.8" r="15.2" fill="url(#gS)" stroke="#5e4400" stroke-width="0.85"/>
<circle cx="1377.2" cy="354.8" r="15.2" fill="url(#gS)" stroke="#5e4400" stroke-width="0.85"/>
<circle cx="1406.8" cy="354.8" r="15.2" fill="url(#gS)" stroke="#5e4400" stroke-width="0.85"/>
<circle cx="1436.4" cy="354.8" r="15.2" fill="url(#gS)" stroke="#5e4400" stroke-width="0.85"/>
<circle cx="1466" cy="354.8" r="15.2" fill="url(#gS)" stroke="#5e4400" stroke-width="0.85"/>
<circle cx="1495.6" cy="354.8" r="15.2" fill="url(#gS)" stroke="#5e4400" stroke-width="0.85"/>
</g>
<clipPath id="sc06"><rect x="1510" y="178" width="208.3" height="157.9"/></clipPath>
<g clip-path="url(#sc06)">
<rect x="1510" y="178" width="208.3" height="157.9" fill="#d585d0" opacity="0.08"/>
<rect x="1510" y="178" width="208.3" height="157.9" fill="#b0b0b0" opacity="0.3" mask="url(#mV0)"/>
<rect x="1510" y="178" width="208.3" height="157.9" fill="#d585d0" opacity="0.38" mask="url(#mV1)"/>
<rect x="1510" y="178" width="208.3" height="157.9" fill="#d585d0" opacity="0.66" mask="url(#mV2)"/>
<rect x="1510" y="178" width="208.3" height="18" fill="url(#fadeT)" opacity="0.55"/>
</g>
<clipPath id="gc06"><rect x="1510" y="338.4" width="208.3" height="51.2"/></clipPath>
<g clip-path="url(#gc06)">
<rect x="1510" y="351.4" width="208.3" height="38.2" fill="#c8960f"/>
<circle cx="1505.6" cy="378" r="13.9" fill="url(#gD)" stroke="#5e4400" stroke-width="0.85"/>
<circle cx="1531.5" cy="378" r="13.9" fill="url(#gS)" stroke="#5e4400" stroke-width="0.85"/>
<circle cx="1557.4" cy="378" r="13.9" fill="url(#gD)" stroke="#5e4400" stroke-width="0.85"/>
<circle cx="1583.3" cy="378" r="13.9" fill="url(#gS)" stroke="#5e4400" stroke-width="0.85"/>
<circle cx="1609.2" cy="378" r="13.9" fill="url(#gD)" stroke="#5e4400" stroke-width="0.85"/>
<circle cx="1635.1" cy="378" r="13.9" fill="url(#gS)" stroke="#5e4400" stroke-width="0.85"/>
<circle cx="1661" cy="378" r="13.9" fill="url(#gD)" stroke="#5e4400" stroke-width="0.85"/>
<circle cx="1686.9" cy="378" r="13.9" fill="url(#gS)" stroke="#5e4400" stroke-width="0.85"/>
<circle cx="1712.8" cy="378" r="13.9" fill="url(#gD)" stroke="#5e4400" stroke-width="0.85"/>
<circle cx="1518.5" cy="353.7" r="14.1" fill="url(#gS)" stroke="#5e4400" stroke-width="0.85"/>
<circle cx="1544.4" cy="353.7" r="14.1" fill="url(#gD)" stroke="#5e4400" stroke-width="0.85"/>
<circle cx="1570.3" cy="353.7" r="14.1" fill="url(#gS)" stroke="#5e4400" stroke-width="0.85"/>
<circle cx="1596.2" cy="353.7" r="14.1" fill="url(#gD)" stroke="#5e4400" stroke-width="0.85"/>
<circle cx="1622.1" cy="353.7" r="14.1" fill="url(#gS)" stroke="#5e4400" stroke-width="0.85"/>
<circle cx="1648" cy="353.7" r="14.1" fill="url(#gD)" stroke="#5e4400" stroke-width="0.85"/>
<circle cx="1673.9" cy="353.7" r="14.1" fill="url(#gS)" stroke="#5e4400" stroke-width="0.85"/>
<circle cx="1699.8" cy="353.7" r="14.1" fill="url(#gD)" stroke="#5e4400" stroke-width="0.85"/>
<circle cx="1725.7" cy="353.7" r="14.1" fill="url(#gS)" stroke="#5e4400" stroke-width="0.85"/>
</g>
<clipPath id="sc07"><rect x="1724.2" y="157.3" width="207.8" height="178.6"/></clipPath>
<g clip-path="url(#sc07)">
<rect x="1724.2" y="157.3" width="207.8" height="178.6" fill="#cf86cb" opacity="0.08"/>
<rect x="1724.2" y="157.3" width="207.8" height="178.6" fill="#b0b0b0" opacity="0.3" mask="url(#mV0)"/>
<rect x="1724.2" y="157.3" width="207.8" height="178.6" fill="#cf86cb" opacity="0.36" mask="url(#mV1)"/>
<rect x="1724.2" y="157.3" width="207.8" height="178.6" fill="#cf86cb" opacity="0.62" mask="url(#mV2)"/>
<rect x="1724.2" y="157.3" width="207.8" height="18" fill="url(#fadeT)" opacity="0.55"/>
</g>
<clipPath id="gc07"><rect x="1724.2" y="338.4" width="207.8" height="51.2"/></clipPath>
<g clip-path="url(#gc07)">
<rect x="1724.2" y="351.4" width="207.8" height="38.2" fill="#c8960f"/>
<circle cx="1719.9" cy="378" r="13.9" fill="url(#gD)" stroke="#5e4400" stroke-width="0.85"/>
<circle cx="1745.8" cy="378" r="13.9" fill="url(#gS)" stroke="#5e4400" stroke-width="0.85"/>
<circle cx="1771.7" cy="378" r="13.9" fill="url(#gD)" stroke="#5e4400" stroke-width="0.85"/>
<circle cx="1797.6" cy="378" r="13.9" fill="url(#gS)" stroke="#5e4400" stroke-width="0.85"/>
<circle cx="1823.5" cy="378" r="13.9" fill="url(#gD)" stroke="#5e4400" stroke-width="0.85"/>
<circle cx="1849.4" cy="378" r="13.9" fill="url(#gS)" stroke="#5e4400" stroke-width="0.85"/>
<circle cx="1875.3" cy="378" r="13.9" fill="url(#gD)" stroke="#5e4400" stroke-width="0.85"/>
<circle cx="1901.2" cy="378" r="13.9" fill="url(#gS)" stroke="#5e4400" stroke-width="0.85"/>
<circle cx="1927.1" cy="378" r="13.9" fill="url(#gD)" stroke="#5e4400" stroke-width="0.85"/>
<circle cx="1732.8" cy="353.7" r="14.1" fill="url(#gS)" stroke="#5e4400" stroke-width="0.85"/>
<circle cx="1758.7" cy="353.7" r="14.1" fill="url(#gS)" stroke="#5e4400" stroke-width="0.85"/>
<circle cx="1784.6" cy="353.7" r="14.1" fill="url(#gS)" stroke="#5e4400" stroke-width="0.85"/>
<circle cx="1810.5" cy="353.7" r="14.1" fill="url(#gS)" stroke="#5e4400" stroke-width="0.85"/>
<circle cx="1836.4" cy="353.7" r="14.1" fill="url(#gS)" stroke="#5e4400" stroke-width="0.85"/>
<circle cx="1862.3" cy="353.7" r="14.1" fill="url(#gS)" stroke="#5e4400" stroke-width="0.85"/>
<circle cx="1888.2" cy="353.7" r="14.1" fill="url(#gS)" stroke="#5e4400" stroke-width="0.85"/>
<circle cx="1914.1" cy="353.7" r="14.1" fill="url(#gS)" stroke="#5e4400" stroke-width="0.85"/>
<circle cx="1940" cy="353.7" r="14.1" fill="url(#gS)" stroke="#5e4400" stroke-width="0.85"/>
</g>
<clipPath id="sc10"><rect x="219.3" y="619.8" width="208.2" height="53.3"/></clipPath>
<g clip-path="url(#sc10)">
<rect x="219.3" y="619.8" width="208.2" height="53.3" fill="#f3d867" opacity="0.06"/>
<rect x="219.3" y="619.8" width="208.2" height="53.3" fill="#b0b0b0" opacity="0.25" mask="url(#mY0)"/>
<rect x="219.3" y="619.8" width="208.2" height="53.3" fill="#f3d867" opacity="0.4" mask="url(#mY1)"/>
<rect x="219.3" y="619.8" width="208.2" height="53.3" fill="#f3d867" opacity="0.75" mask="url(#mY2)"/>
<rect x="219.3" y="619.8" width="208.2" height="18" fill="url(#fadeT)"/>
</g>
<clipPath id="gc10"><rect x="219.3" y="675.6" width="208.2" height="51.2"/></clipPath>
<g clip-path="url(#gc10)">
<rect x="219.3" y="688.6" width="208.2" height="38.2" fill="#c8960f"/>
<circle cx="209.1" cy="715.2" r="13.9" fill="url(#gD)" stroke="#5e4400" stroke-width="0.85"/>
<circle cx="235" cy="715.2" r="13.9" fill="url(#gS)" stroke="#5e4400" stroke-width="0.85"/>
<circle cx="260.9" cy="715.2" r="13.9" fill="url(#gD)" stroke="#5e4400" stroke-width="0.85"/>
<circle cx="286.8" cy="715.2" r="13.9" fill="url(#gS)" stroke="#5e4400" stroke-width="0.85"/>
<circle cx="312.7" cy="715.2" r="13.9" fill="url(#gD)" stroke="#5e4400" stroke-width="0.85"/>
<circle cx="338.6" cy="715.2" r="13.9" fill="url(#gS)" stroke="#5e4400" stroke-width="0.85"/>
<circle cx="364.5" cy="715.2" r="13.9" fill="url(#gD)" stroke="#5e4400" stroke-width="0.85"/>
<circle cx="390.4" cy="715.2" r="13.9" fill="url(#gS)" stroke="#5e4400" stroke-width="0.85"/>
<circle cx="416.3" cy="715.2" r="13.9" fill="url(#gD)" stroke="#5e4400" stroke-width="0.85"/>
<circle cx="227.2" cy="690.9" r="14.1" fill="url(#gS)" stroke="#5e4400" stroke-width="0.85"/>
<circle cx="253.1" cy="690.9" r="14.1" fill="url(#gS)" stroke="#5e4400" stroke-width="0.85"/>
<circle cx="279" cy="690.9" r="14.1" fill="url(#gS)" stroke="#5e4400" stroke-width="0.85"/>
<circle cx="304.9" cy="690.9" r="14.1" fill="url(#gS)" stroke="#5e4400" stroke-width="0.85"/>
<circle cx="330.8" cy="690.9" r="14.1" fill="url(#gS)" stroke="#5e4400" stroke-width="0.85"/>
<circle cx="356.7" cy="690.9" r="14.1" fill="url(#gS)" stroke="#5e4400" stroke-width="0.85"/>
<circle cx="382.6" cy="690.9" r="14.1" fill="url(#gS)" stroke="#5e4400" stroke-width="0.85"/>
<circle cx="408.5" cy="690.9" r="14.1" fill="url(#gS)" stroke="#5e4400" stroke-width="0.85"/>
<circle cx="434.4" cy="690.9" r="14.1" fill="url(#gS)" stroke="#5e4400" stroke-width="0.85"/>
</g>
<clipPath id="sc11"><rect x="436.2" y="607" width="205.4" height="66.1"/></clipPath>
<g clip-path="url(#sc11)">
<rect x="436.2" y="607" width="205.4" height="66.1" fill="#e05a5a" opacity="0.05"/>
<rect x="436.2" y="607" width="205.4" height="66.1" fill="#b0b0b0" opacity="0.25" mask="url(#mY0)"/>
<rect x="436.2" y="607" width="205.4" height="66.1" fill="#e05a5a" opacity="0.3" mask="url(#mY1)"/>
<rect x="436.2" y="607" width="205.4" height="66.1" fill="#e05a5a" opacity="0.64" mask="url(#mY2)"/>
<rect x="436.2" y="607" width="205.4" height="18" fill="url(#fadeT)"/>
</g>
<clipPath id="gc11"><rect x="436.2" y="675.6" width="205.4" height="51.2"/></clipPath>
<g clip-path="url(#gc11)">
<rect x="436.2" y="688.6" width="205.4" height="38.2" fill="#c8960f"/>
<circle cx="443.8" cy="689.1" r="13.6" fill="url(#gD)" stroke="#5e4400" stroke-width="0.85"/>
<circle cx="473.1" cy="689.1" r="13.6" fill="url(#gD)" stroke="#5e4400" stroke-width="0.85"/>
<circle cx="502.4" cy="689.1" r="13.6" fill="url(#gD)" stroke="#5e4400" stroke-width="0.85"/>
<circle cx="531.8" cy="689.1" r="13.6" fill="url(#gD)" stroke="#5e4400" stroke-width="0.85"/>
<circle cx="561" cy="689.1" r="13.6" fill="url(#gD)" stroke="#5e4400" stroke-width="0.85"/>
<circle cx="590.4" cy="689.1" r="13.6" fill="url(#gD)" stroke="#5e4400" stroke-width="0.85"/>
<circle cx="619.6" cy="689.1" r="13.6" fill="url(#gD)" stroke="#5e4400" stroke-width="0.85"/>
<circle cx="648.9" cy="689.1" r="13.6" fill="url(#gD)" stroke="#5e4400" stroke-width="0.85"/>
<circle cx="429.2" cy="715.2" r="14.9" fill="url(#gS)" stroke="#5e4400" stroke-width="0.85"/>
<circle cx="458.5" cy="715.2" r="14.9" fill="url(#gS)" stroke="#5e4400" stroke-width="0.85"/>
<circle cx="487.8" cy="715.2" r="14.9" fill="url(#gS)" stroke="#5e4400" stroke-width="0.85"/>
<circle cx="517.1" cy="715.2" r="14.9" fill="url(#gS)" stroke="#5e4400" stroke-width="0.85"/>
<circle cx="546.4" cy="715.2" r="14.9" fill="url(#gS)" stroke="#5e4400" stroke-width="0.85"/>
<circle cx="575.7" cy="715.2" r="14.9" fill="url(#gS)" stroke="#5e4400" stroke-width="0.85"/>
<circle cx="605" cy="715.2" r="14.9" fill="url(#gS)" stroke="#5e4400" stroke-width="0.85"/>
<circle cx="634.3" cy="715.2" r="14.9" fill="url(#gS)" stroke="#5e4400" stroke-width="0.85"/>
<circle cx="429.2" cy="691.9" r="15.1" fill="url(#gS)" stroke="#5e4400" stroke-width="0.85"/>
<circle cx="458.5" cy="691.9" r="15.1" fill="url(#gS)" stroke="#5e4400" stroke-width="0.85"/>
<circle cx="487.8" cy="691.9" r="15.1" fill="url(#gS)" stroke="#5e4400" stroke-width="0.85"/>
<circle cx="517.1" cy="691.9" r="15.1" fill="url(#gS)" stroke="#5e4400" stroke-width="0.85"/>
<circle cx="546.4" cy="691.9" r="15.1" fill="url(#gS)" stroke="#5e4400" stroke-width="0.85"/>
<circle cx="575.7" cy="691.9" r="15.1" fill="url(#gS)" stroke="#5e4400" stroke-width="0.85"/>
<circle cx="605" cy="691.9" r="15.1" fill="url(#gS)" stroke="#5e4400" stroke-width="0.85"/>
<circle cx="634.3" cy="691.9" r="15.1" fill="url(#gS)" stroke="#5e4400" stroke-width="0.85"/>
</g>
<clipPath id="sc12"><rect x="650" y="611.7" width="208.4" height="61.4"/></clipPath>
<g clip-path="url(#sc12)">
<rect x="650" y="611.7" width="208.4" height="61.4" fill="#f4a656" opacity="0.06"/>
<rect x="650" y="611.7" width="208.4" height="61.4" fill="#b0b0b0" opacity="0.25" mask="url(#mY0)"/>
<rect x="650" y="611.7" width="208.4" height="61.4" fill="#f4a656" opacity="0.35" mask="url(#mY1)"/>
<rect x="650" y="611.7" width="208.4" height="61.4" fill="#f4a656" opacity="0.68" mask="url(#mY2)"/>
<rect x="650" y="611.7" width="208.4" height="18" fill="url(#fadeT)"/>
</g>
<clipPath id="gc12"><rect x="650" y="675.6" width="208.4" height="51.2"/></clipPath>
<g clip-path="url(#gc12)">
<rect x="650" y="688.6" width="208.4" height="38.2" fill="#c8960f"/>
<circle cx="657.5" cy="689.1" r="13.6" fill="url(#gD)" stroke="#5e4400" stroke-width="0.85"/>
<circle cx="686.9" cy="689.1" r="13.6" fill="url(#gD)" stroke="#5e4400" stroke-width="0.85"/>
<circle cx="716.3" cy="689.1" r="13.6" fill="url(#gD)" stroke="#5e4400" stroke-width="0.85"/>
<circle cx="745.7" cy="689.1" r="13.6" fill="url(#gD)" stroke="#5e4400" stroke-width="0.85"/>
<circle cx="775.1" cy="689.1" r="13.6" fill="url(#gD)" stroke="#5e4400" stroke-width="0.85"/>
<circle cx="804.5" cy="689.1" r="13.6" fill="url(#gD)" stroke="#5e4400" stroke-width="0.85"/>
<circle cx="833.9" cy="689.1" r="13.6" fill="url(#gD)" stroke="#5e4400" stroke-width="0.85"/>
<circle cx="863.3" cy="689.1" r="13.6" fill="url(#gD)" stroke="#5e4400" stroke-width="0.85"/>
<circle cx="657.5" cy="715.2" r="14.9" fill="url(#gS)" stroke="#5e4400" stroke-width="0.85"/>
<circle cx="686.9" cy="715.2" r="14.9" fill="url(#gS)" stroke="#5e4400" stroke-width="0.85"/>
<circle cx="716.3" cy="715.2" r="14.9" fill="url(#gS)" stroke="#5e4400" stroke-width="0.85"/>
<circle cx="745.7" cy="715.2" r="14.9" fill="url(#gS)" stroke="#5e4400" stroke-width="0.85"/>
<circle cx="775.1" cy="715.2" r="14.9" fill="url(#gS)" stroke="#5e4400" stroke-width="0.85"/>
<circle cx="804.5" cy="715.2" r="14.9" fill="url(#gS)" stroke="#5e4400" stroke-width="0.85"/>
<circle cx="833.9" cy="715.2" r="14.9" fill="url(#gS)" stroke="#5e4400" stroke-width="0.85"/>
<circle cx="863.3" cy="715.2" r="14.9" fill="url(#gS)" stroke="#5e4400" stroke-width="0.85"/>
<circle cx="642.8" cy="691.9" r="15.1" fill="url(#gS)" stroke="#5e4400" stroke-width="0.85"/>
<circle cx="672.2" cy="691.9" r="15.1" fill="url(#gS)" stroke="#5e4400" stroke-width="0.85"/>
<circle cx="701.6" cy="691.9" r="15.1" fill="url(#gS)" stroke="#5e4400" stroke-width="0.85"/>
<circle cx="731" cy="691.9" r="15.1" fill="url(#gS)" stroke="#5e4400" stroke-width="0.85"/>
<circle cx="760.4" cy="691.9" r="15.1" fill="url(#gS)" stroke="#5e4400" stroke-width="0.85"/>
<circle cx="789.8" cy="691.9" r="15.1" fill="url(#gS)" stroke="#5e4400" stroke-width="0.85"/>
<circle cx="819.2" cy="691.9" r="15.1" fill="url(#gS)" stroke="#5e4400" stroke-width="0.85"/>
<circle cx="848.6" cy="691.9" r="15.1" fill="url(#gS)" stroke="#5e4400" stroke-width="0.85"/>
</g>
<clipPath id="sc13"><rect x="864.6" y="601.9" width="208.4" height="71.2"/></clipPath>
<g clip-path="url(#sc13)">
<rect x="864.6" y="601.9" width="208.4" height="71.2" fill="#7ec87e" opacity="0.06"/>
<rect x="864.6" y="601.9" width="208.4" height="71.2" fill="#b0b0b0" opacity="0.28" mask="url(#mY0)"/>
<rect x="864.6" y="601.9" width="208.4" height="71.2" fill="#7ec87e" opacity="0.45" mask="url(#mY1)"/>
<rect x="864.6" y="601.9" width="208.4" height="71.2" fill="#7ec87e" opacity="0.8" mask="url(#mY2)"/>
<rect x="864.6" y="601.9" width="208.4" height="18" fill="url(#fadeT)"/>
</g>
<clipPath id="gc13"><rect x="864.6" y="675.6" width="208.4" height="51.2"/></clipPath>
<g clip-path="url(#gc13)">
<rect x="864.6" y="688.6" width="208.4" height="38.2" fill="#c8960f"/>
<circle cx="858.7" cy="715.2" r="13.9" fill="url(#gD)" stroke="#5e4400" stroke-width="0.85"/>
<circle cx="884.8" cy="715.2" r="13.9" fill="url(#gS)" stroke="#5e4400" stroke-width="0.85"/>
<circle cx="910.9" cy="715.2" r="13.9" fill="url(#gD)" stroke="#5e4400" stroke-width="0.85"/>
<circle cx="937" cy="715.2" r="13.9" fill="url(#gS)" stroke="#5e4400" stroke-width="0.85"/>
<circle cx="963.1" cy="715.2" r="13.9" fill="url(#gD)" stroke="#5e4400" stroke-width="0.85"/>
<circle cx="989.2" cy="715.2" r="13.9" fill="url(#gS)" stroke="#5e4400" stroke-width="0.85"/>
<circle cx="1015.3" cy="715.2" r="13.9" fill="url(#gD)" stroke="#5e4400" stroke-width="0.85"/>
<circle cx="1041.4" cy="715.2" r="13.9" fill="url(#gS)" stroke="#5e4400" stroke-width="0.85"/>
<circle cx="1067.5" cy="715.2" r="13.9" fill="url(#gD)" stroke="#5e4400" stroke-width="0.85"/>
<circle cx="871.7" cy="690.9" r="14.1" fill="url(#gS)" stroke="#5e4400" stroke-width="0.85"/>
<circle cx="897.8" cy="690.9" r="14.1" fill="url(#gS)" stroke="#5e4400" stroke-width="0.85"/>
<circle cx="923.9" cy="690.9" r="14.1" fill="url(#gS)" stroke="#5e4400" stroke-width="0.85"/>
<circle cx="950" cy="690.9" r="14.1" fill="url(#gS)" stroke="#5e4400" stroke-width="0.85"/>
<circle cx="976.1" cy="690.9" r="14.1" fill="url(#gS)" stroke="#5e4400" stroke-width="0.85"/>
<circle cx="1002.2" cy="690.9" r="14.1" fill="url(#gS)" stroke="#5e4400" stroke-width="0.85"/>
<circle cx="1028.3" cy="690.9" r="14.1" fill="url(#gS)" stroke="#5e4400" stroke-width="0.85"/>
<circle cx="1054.4" cy="690.9" r="14.1" fill="url(#gS)" stroke="#5e4400" stroke-width="0.85"/>
<circle cx="1080.5" cy="690.9" r="14.1" fill="url(#gS)" stroke="#5e4400" stroke-width="0.85"/>
</g>
<clipPath id="sc14"><rect x="1078.4" y="531" width="208.7" height="142.1"/></clipPath>
<g clip-path="url(#sc14)">
<rect x="1078.4" y="531" width="208.7" height="142.1" fill="#6fbde9" opacity="0.08"/>
<rect x="1078.4" y="531" width="208.7" height="142.1" fill="#b0b0b0" opacity="0.38" mask="url(#mX0)"/>
<rect x="1078.4" y="531" width="208.7" height="142.1" fill="#6fbde9" opacity="0.42" mask="url(#mX1)"/>
<rect x="1078.4" y="531" width="208.7" height="142.1" fill="#6fbde9" opacity="0.72" mask="url(#mX2)"/>
<rect x="1078.4" y="531" width="208.7" height="18" fill="url(#fadeT)" opacity="0.55"/>
</g>
<clipPath id="gc14"><rect x="1078.4" y="675.6" width="208.7" height="51.2"/></clipPath>
<g clip-path="url(#gc14)">
<rect x="1078.4" y="688.6" width="208.7" height="38.2" fill="#c8960f"/>
<circle cx="1077.5" cy="715.2" r="13.9" fill="url(#gD)" stroke="#5e4400" stroke-width="0.85"/>
<circle cx="1103.3" cy="715.2" r="13.9" fill="url(#gS)" stroke="#5e4400" stroke-width="0.85"/>
<circle cx="1129.1" cy="715.2" r="13.9" fill="url(#gD)" stroke="#5e4400" stroke-width="0.85"/>
<circle cx="1154.9" cy="715.2" r="13.9" fill="url(#gS)" stroke="#5e4400" stroke-width="0.85"/>
<circle cx="1180.7" cy="715.2" r="13.9" fill="url(#gD)" stroke="#5e4400" stroke-width="0.85"/>
<circle cx="1206.5" cy="715.2" r="13.9" fill="url(#gS)" stroke="#5e4400" stroke-width="0.85"/>
<circle cx="1232.3" cy="715.2" r="13.9" fill="url(#gD)" stroke="#5e4400" stroke-width="0.85"/>
<circle cx="1258.1" cy="715.2" r="13.9" fill="url(#gS)" stroke="#5e4400" stroke-width="0.85"/>
<circle cx="1283.9" cy="715.2" r="13.9" fill="url(#gD)" stroke="#5e4400" stroke-width="0.85"/>
<circle cx="1086.1" cy="690.9" r="14.1" fill="url(#gS)" stroke="#5e4400" stroke-width="0.85"/>
<circle cx="1111.9" cy="690.9" r="14.1" fill="url(#gS)" stroke="#5e4400" stroke-width="0.85"/>
<circle cx="1137.7" cy="690.9" r="14.1" fill="url(#gS)" stroke="#5e4400" stroke-width="0.85"/>
<circle cx="1163.5" cy="690.9" r="14.1" fill="url(#gS)" stroke="#5e4400" stroke-width="0.85"/>
<circle cx="1189.3" cy="690.9" r="14.1" fill="url(#gS)" stroke="#5e4400" stroke-width="0.85"/>
<circle cx="1215.1" cy="690.9" r="14.1" fill="url(#gS)" stroke="#5e4400" stroke-width="0.85"/>
<circle cx="1240.9" cy="690.9" r="14.1" fill="url(#gS)" stroke="#5e4400" stroke-width="0.85"/>
<circle cx="1266.7" cy="690.9" r="14.1" fill="url(#gS)" stroke="#5e4400" stroke-width="0.85"/>
<circle cx="1292.5" cy="690.9" r="14.1" fill="url(#gS)" stroke="#5e4400" stroke-width="0.85"/>
</g>
<clipPath id="sc15"><rect x="1295.6" y="520" width="208.4" height="153.1"/></clipPath>
<g clip-path="url(#sc15)">
<rect x="1295.6" y="520" width="208.4" height="153.1" fill="#8f8fd0" opacity="0.03"/>
<path d="M1291 517l4 7l11 1m-11 -1l-8 8l-9 1m9 -1l5 7l-9 8l-9 -3m9 3l5 8l-8 8l-9 0m9 0l4 7l8 -5m-8 5l-8 8l-8 3m8 -3l5 7l10 -5m-10 5l-8 8l-10 1m10 -1l4 8l8 3m-8 -3l-8 6l-8 2m8 -2l5 9l9 5m-9 -5l-8 6l-8 1m8 -1l4 8l9 1m-9 -1l-8 7l-10 -4m10 4l5 7l8 -1m-8 1l-8 8l-8 4m8 -4l4 7l7 3m-7 -3l-8 7l-10 1m10 -1l5 7l10 0m-10 0M1304 517l5 7l9 -2m-9 2l-8 8l-10 4m10 -4l5 7l10 1m-10 -1l-8 7l-10 3m10 -3l4 8l8 0m-8 0l-8 7l-9 -2m9 2l5 7l10 -3m-10 3l-8 6l-8 -3m8 3l5 8l8 4m-8 -4l-9 8l-9 2m9 -2l5 7l-8 7l-9 -3m9 3l5 8l10 5m-10 -5l-9 8l5 8l10 5m-10 -5l-8 7l-10 1m10 -1l4 7l10 3m-10 -3l-8 8l-9 -2m9 2l5 8l8 2m-8 -2l-9 8l-8 -3m8 3l5 8M1332 519l5 7l-8 7l4 8l9 -2m-9 2l-8 7l5 8l10 -4m-10 4l-8 8l-11 0m11 0l4 8l10 -2m-10 2l-8 7l-9 -2m9 2l5 7l10 3m-10 -3l-8 6l-9 4m9 -4l4 8l8 3m-8 -3l-7 6l-11 1m11 -1l4 8l9 5m-9 -5l-8 6l5 8l10 3m-10 -3l-8 8l-11 2m11 -2l4 7l8 0m-8 0l-8 8l-9 -2m9 2l5 8l10 3m-10 -3l-9 8l-10 4m10 -4l5 7l9 3m-9 -3M1346 517l5 7l-8 9l-10 4m10 -4l5 7l9 -2m-9 2l-9 7l-8 -4m8 4l5 7l8 0m-8 0l-8 8l-10 5m10 -5l4 8l8 -2m-8 2l-8 7l-8 -1m8 1l5 9l8 2m-8 -2l-8 7l-10 5m10 -5l4 7l9 3m-9 -3l-8 8l-8 3m8 -3l5 8l-8 7l-10 -1m10 1l4 8l-8 8l-7 4m7 -4l4 8l11 1m-11 -1l-8 7l-8 1m8 -1l5 8l9 -2m-9 2l-8 7l5 7M1380 516l4 8l-8 8l-8 4m8 -4l4 8l11 -3m-11 3l-8 8l-8 4m8 -4l5 7l11 3m-11 -3l-8 7l4 8l9 5m-9 -5l-8 8l-10 3m10 -3l5 9l-9 7l5 8l9 -4m-9 4l-9 9l-8 0m8 0l5 7l9 5m-9 -5l-8 8l-8 -4m8 4l5 7l9 1m-9 -1l-8 7l-10 2m10 -2l4 7l9 0m-9 0l-8 7l-9 1m9 -1l5 8l8 3m-8 -3l-8 7l-10 4m10 -4l4 7M1393 519l5 7l8 2m-8 -2l-8 6l-10 -5m10 5l4 8l9 2m-9 -2l-8 8l-8 1m8 -1l5 7l-8 7l4 8l10 5m-10 -5l-8 8l-10 1m10 -1l5 8l9 -4m-9 4l-9 8l-10 5m10 -5l5 7l10 2m-10 -2l-8 8l-10 -4m10 4l5 6l9 2m-9 -2l-8 8l-9 1m9 -1l4 8l-8 8l-8 -4m8 4l4 7l10 3m-10 -3l-8 8l5 8l9 -1m-9 1l-9 9l-11 3m11 -3l5 6l9 1m-9 -1M1430 516l4 9l-8 6l-10 1m10 -1l5 8l10 -3m-10 3l-8 7l-10 -1m10 1l5 7l11 -3m-11 3l-9 8l-9 -4m9 4l5 8l10 4m-10 -4l-9 8l5 8l9 -4m-9 4l-8 7l-10 1m10 -1l4 9l-8 8l-8 4m8 -4l4 9l10 4m-10 -4l-8 8l-9 -5m9 5l4 8l10 1m-10 -1l-8 8l-9 -5m9 5l5 8l9 -4m-9 4l-9 8l-8 4m8 -4l5 8l8 -5m-8 5l-8 8l-9 5m9 -5M1443 518l5 8l9 -4m-9 4l-9 8l-8 4m8 -4l5 7l10 2m-10 -2l-8 8l-9 -3m9 3l4 9l9 -4m-9 4l-8 8l-9 4m9 -4l5 7l11 -2m-11 2l-9 8l-8 2m8 -2l5 7l9 -2m-9 2l-8 6l-11 3m11 -3l5 8l11 3m-11 -3l-8 7l-8 0m8 0l5 7l8 4m-8 -4l-9 8l-8 1m8 -1l5 7l9 -2m-9 2l-8 7l-10 -3m10 3l5 7l8 -4m-8 4l-8 7l-8 3m8 -3l5 7l11 -4m-11 4l-9 7l-9 4m9 -4l5 8l10 5m-10 -5M1478 518l5 7l10 4m-10 -4l-8 7l-9 -1m9 1l5 7l10 -4m-10 4l-9 8l-9 1m9 -1l5 7l-8 7l-9 -3m9 3l5 8l9 2m-9 -2l-8 6l-9 -5m9 5l4 8l-8 8l-8 -2m8 2l5 7l9 0m-9 0l-8 8l-9 0m9 0l4 8l-8 8l-9 -1m9 1l4 8l10 -3m-10 3l-8 6l-9 1m9 -1l5 8l10 -5m-10 5l-8 7l-8 -1m8 1l4 8l10 -4m-10 4l-8 7l-8 -1m8 1l5 7l10 -3m-10 3M1492 519l5 8l9 4m-9 -4l-8 7l-11 0m11 0l4 7l8 2m-8 -2l-8 7l5 7l9 1m-9 -1l-8 7l-8 4m8 -4l4 8l10 -4m-10 4l-8 8l-11 2m11 -2l5 7l9 -2m-9 2l-8 7l-10 -4m10 4l5 7l10 -1m-10 1l-9 8l-11 2m11 -2l5 8l9 1m-9 -1l-8 6l-11 -2m11 2l5 7l8 -1m-8 1l-8 7l-8 1m8 -1l5 7l10 3m-10 -3l-8 6l-10 -4m10 4l4 8l9 -4m-9 4l-8 8l-8 -2m8 2l5 7l11 0m-11 0l-8 7l-9 4m9 -4M1522 520l4 7l8 -3m-8 3l-8 8l-8 3m8 -3l5 7l11 2m-11 -2l-8 9l-10 -2m10 2l4 7l10 2m-10 -2l-8 8l-7 -4m7 4l5 8l9 1m-9 -1l-9 8l-8 3m8 -3l5 7l-8 7l-8 -4m8 4l5 7l9 3m-9 -3l-8 7l-9 -5m9 5l4 8l9 -5m-9 5l-8 7l-11 -1m11 1l5 8l9 -1m-9 1l-9 8l-8 -4m8 4l5 7l10 1m-10 -1l-8 8l-10 -1m10 1l4 8l8 -3m-8 3l-8 8l-11 1m11 -1M1537 517l4 6l8 -3m-8 3l-8 7l-11 1m11 -1l5 7l8 -2m-8 2l-8 7l-9 -1m9 1l5 7l8 3m-8 -3l-8 8l-10 1m10 -1l4 8l-8 8l-9 2m9 -2l4 8l-8 8l-9 -4m9 4l5 8l7 -4m-7 4l-9 8l5 7l9 3m-9 -3l-8 9l-8 4m8 -4l4 8l11 -2m-11 2l-8 7l-9 5m9 -5l5 8l9 3m-9 -3l-8 7l-11 3m11 -3l4 8l10 -5m-10 5l-8 7l-10 1m10 -1l5 7l8 0m-8 0" stroke="#b0b0c4" stroke-width="4.6" stroke-linecap="round" stroke-linejoin="round" fill="none" stroke-opacity="0.2"/>
<path d="M1293 517l5 7l11 -4m-11 4l-8 8l-9 4m9 -4l4 7l10 5m-10 -5l-8 7l-11 2m11 -2l5 7l8 -1m-8 1l-8 8l-10 5m10 -5l4 8l9 -5m-9 5l-8 8l-10 -2m10 2l4 8l8 -2m-8 2l-7 6l-10 -4m10 4l4 9l9 -5m-9 5l-8 8l-10 3m10 -3l4 7l10 -2m-10 2l-8 8l-10 -5m10 5l5 8l11 3m-11 -3l-9 8l5 7l10 -5m-10 5l-8 7l-8 4m8 -4l5 8l10 -1m-10 1l-8 6l-11 2m11 -2l4 8l10 -2m-10 2M1301 520l5 9l10 -2m-10 2l-8 7l-8 -4m8 4l4 8l9 -4m-9 4l-8 7l-8 -1m8 1l5 7l10 4m-10 -4l-8 7l-9 1m9 -1l4 8l8 3m-8 -3l-8 7l5 9l9 4m-9 -4l-9 7l5 8l-8 7l-11 -1m11 1l4 8l9 -5m-9 5l-8 7l-8 2m8 -2l5 8l9 0m-9 0l-8 8l4 8l10 -5m-10 5l-8 7l-8 -2m8 2l5 8l9 -1m-9 1l-9 8l-9 -2m9 2M1335 517l5 7l10 -2m-10 2l-8 7l-8 4m8 -4l4 8l8 -3m-8 3l-8 8l5 7l10 5m-10 -5l-9 9l-10 2m10 -2l5 7l10 -1m-10 1l-8 8l4 7l9 0m-9 0l-8 8l5 8l9 5m-9 -5l-8 7l-9 4m9 -4l4 7l10 5m-10 -5l-8 8l-9 2m9 -2l5 7l10 4m-10 -4l-8 8l-11 1m11 -1l4 7l-8 8l5 8l11 3m-11 -3l-9 8l-10 4m10 -4l5 7l10 0m-10 0M1344 518l4 7l8 -4m-8 4l-8 7l-9 -2m9 2l5 7l10 -5m-10 5l-8 7l-9 2m9 -2l5 7l10 4m-10 -4l-8 7l-10 0m10 0l5 8l11 -3m-11 3l-9 7l-9 1m9 -1l5 8l10 -5m-10 5l-8 6l-10 2m10 -2l4 8l-8 8l-9 -3m9 3l5 7l8 -2m-8 2l-8 7l-11 2m11 -2l4 8l10 2m-10 -2l-8 8l-8 -1m8 1l5 7l-8 7l-10 4m10 -4l5 8l9 3m-9 -3l-9 7l-8 3m8 -3l5 9l9 1m-9 -1M1381 520l5 7l10 -1m-10 1l-8 7l-11 -1m11 1l5 7l8 3m-8 -3l-8 8l-10 1m10 -1l4 7l8 4m-8 -4l-8 8l-9 3m9 -3l5 7l8 4m-8 -4l-8 7l-9 -4m9 4l4 9l9 -3m-9 3l-8 8l-11 -2m11 2l4 8l-8 7l-11 0m11 0l5 7l8 1m-8 -1l-8 7l-8 -2m8 2l5 7l9 -1m-9 1l-9 8l-10 -1m10 1l5 7l10 4m-10 -4l-8 8l-9 3m9 -3l4 7l8 -4m-8 4l-8 8l-9 -3m9 3l5 8l11 1m-11 -1M1390 521l5 7l9 3m-9 -3l-8 6l-8 0m8 0l4 8l8 3m-8 -3l-8 7l-8 2m8 -2l5 9l10 -5m-10 5l-8 7l-10 -4m10 4l4 9l9 4m-9 -4l-8 6l-8 -4m8 4l5 8l-9 8l-10 5m10 -5l5 8l10 4m-10 -4l-8 9l-10 -3m10 3l4 6l11 2m-11 -2l-8 9l-10 -3m10 3l5 7l10 -1m-10 1l-8 7l-8 1m8 -1l4 8l8 2m-8 -2l-8 9l-9 1m9 -1l4 7l10 -5m-10 5l-8 7l-10 -2m10 2M1432 519l4 7l9 -1m-9 1l-8 8l-9 1m9 -1l5 7l10 -3m-10 3l-8 8l-11 -2m11 2l4 8l11 -2m-11 2l-8 7l-11 0m11 0l5 7l-8 7l-9 -3m9 3l4 7l9 0m-9 0l-8 9l-10 -4m10 4l5 7l10 3m-10 -3l-9 8l5 8l10 -4m-10 4l-8 8l-11 2m11 -2l5 6l10 5m-10 -5l-9 8l-10 -4m10 4l5 7l11 -1m-11 1l-8 6l-8 -4m8 4l5 9l11 -2m-11 2l-9 8l-8 -5m8 5l5 7l8 0m-8 0M1441 518l5 7l10 0m-10 0l-9 8l-10 2m10 -2l5 7l10 0m-10 0l-8 7l-10 4m10 -4l5 7l11 0m-11 0l-8 7l-10 -1m10 1l5 6l8 -5m-8 5l-9 9l-10 3m10 -3l5 7l10 4m-10 -4l-8 8l4 8l9 -3m-9 3l-8 8l-9 2m9 -2l4 9l11 1m-11 -1l-8 7l-9 -2m9 2l5 8l11 -2m-11 2l-9 7l-8 -3m8 3l5 8l9 4m-9 -4l-8 7l-10 -4m10 4l5 7l-8 8l4 8l8 -4m-8 4M1480 521l5 8l10 -4m-10 4l-8 7l4 7l8 -2m-8 2l-8 7l-10 -4m10 4l5 8l8 -4m-8 4l-8 6l4 8l9 1m-9 -1l-8 7l-8 -3m8 3l5 7l10 -2m-10 2l-8 8l4 8l8 0m-8 0l-8 7l-9 -5m9 5l5 8l-8 8l-8 2m8 -2l4 8l9 1m-9 -1l-8 7l-10 0m10 0l4 9l9 -1m-9 1l-8 8l5 7l9 -4m-9 4l-8 6l-10 1m10 -1l4 9l9 -4m-9 4M1490 517l5 8l-9 8l-9 4m9 -4l5 6l10 2m-10 -2l-8 9l-9 -5m9 5l4 8l9 4m-9 -4l-8 8l4 8l9 -5m-9 5l-8 8l-9 1m9 -1l5 6l10 -1m-10 1l-8 8l-10 5m10 -5l5 7l9 1m-9 -1l-9 8l-9 0m9 0l5 7l8 0m-8 0l-8 8l-10 3m10 -3l5 7l10 -1m-10 1l-9 8l-8 -1m8 1l5 9l7 -4m-7 4l-8 6l-7 4m7 -4l4 8l11 -1m-11 1l-8 8l-8 -2m8 2l4 9l9 1m-9 -1M1524 520l5 7l-8 8l-10 -1m10 1l4 7l8 -3m-8 3l-8 8l-7 -4m7 4l5 7l-8 8l-8 -2m8 2l4 7l10 2m-10 -2l-8 7l-8 -2m8 2l5 7l-8 7l-8 -4m8 4l5 7l9 -4m-9 4l-8 7l-8 -3m8 3l5 7l8 3m-8 -3l-9 7l-11 0m11 0l5 7l9 2m-9 -2l-8 7l-9 1m9 -1l5 8l10 2m-10 -2l-8 7l-9 4m9 -4l4 7l10 -1m-10 1l-8 8l-10 4m10 -4l5 8l10 2m-10 -2M1534 517l5 7l9 -1m-9 1l-8 8l-8 2m8 -2l4 8l10 -4m-10 4l-8 8l-8 3m8 -3l4 8l10 1m-10 -1l-8 7l-9 -2m9 2l5 7l-8 7l-8 -5m8 5l5 7l9 -4m-9 4l-8 6l-11 0m11 0l4 9l-8 7l-9 -2m9 2l5 7l11 0m-11 0l-9 8l-11 3m11 -3l5 8l10 -4m-10 4l-8 8l-9 2m9 -2l5 6l9 2m-9 -2l-9 8l-10 -4m10 4l5 7l9 -3m-9 3l-8 8l-10 -4m10 4l5 7" stroke="#8f8fd0" stroke-width="4.8" stroke-linecap="round" stroke-linejoin="round" fill="none" stroke-opacity="0.62"/>
<path d="M1297 519l4 9l11 -3m-11 3l-8 7l-11 -2m11 2l5 8l9 5m-9 -5l-8 7l-10 -4m10 4l5 7l11 -2m-11 2l-8 7l-10 -1m10 1l4 7l8 2m-8 -2l-8 7l5 7l10 0m-10 0l-8 6l-11 2m11 -2l5 7l-9 9l5 6l10 -4m-10 4l-8 7l-10 4m10 -4l5 7l7 -3m-7 3l-8 8l-8 1m8 -1l4 8l8 -2m-8 2l-8 7l5 8l8 3m-8 -3l-8 7l-9 -3m9 3l4 7l10 -5m-10 5M1340 517l4 6l-8 8l-9 -5m9 5l5 8l10 3m-10 -3l-9 8l-9 -4m9 4l5 7l-8 8l-11 1m11 -1l5 8l11 0m-11 0l-9 7l-9 4m9 -4l5 7l-8 8l5 8l9 5m-9 -5l-9 8l-8 4m8 -4l5 7l-8 7l-11 -3m11 3l4 8l8 -2m-8 2l-8 7l5 8l10 3m-10 -3l-9 9l-9 0m9 0l5 7l9 1m-9 -1l-8 7l-10 1m10 -1l5 7l9 4m-9 -4M1386 520l4 8l8 -3m-8 3l-8 7l-11 -1m11 1l5 7l-8 8l4 8l10 5m-10 -5l-8 8l5 7l10 3m-10 -3l-8 6l-7 4m7 -4l5 7l9 3m-9 -3l-9 8l-9 -1m9 1l5 7l8 -3m-8 3l-8 8l-10 -4m10 4l4 8l-8 7l-8 1m8 -1l5 7l10 -6m-10 6l-8 8l-8 3m8 -3l5 7l9 0m-9 0l-9 8l5 8l9 -3m-9 3l-8 8l-8 4m8 -4l4 8l8 2m-8 -2M1436 518l5 8l8 4m-8 -4l-8 6l-10 4m10 -4l5 8l9 3m-9 -3l-9 8l-10 -5m10 5l5 6l8 1m-8 -1l-8 8l-9 -1m9 1l4 8l8 1m-8 -1l-8 8l-9 2m9 -2l5 8l8 -2m-8 2l-8 7l-11 3m11 -3l4 7l-8 7l-9 4m9 -4l5 7l8 -2m-8 2l-8 8l-9 0m9 0l4 8l-8 7l5 9l9 -3m-9 3l-9 7l5 8l10 4m-10 -4l-8 8l-8 3m8 -3l4 8l8 -3m-8 3M1485 519l5 6l8 -1m-8 1l-8 8l4 8l10 4m-10 -4l-8 8l-9 -5m9 5l5 8l10 -4m-10 4l-8 7l-11 2m11 -2l4 6l11 2m-11 -2l-8 8l-8 -1m8 1l5 8l10 1m-10 -1l-9 9l-8 -3m8 3l5 8l11 3m-11 -3l-8 7l-8 -1m8 1l5 7l8 4m-8 -4l-9 8l-8 1m8 -1l5 8l9 2m-9 -2l-9 9l-9 0m9 0l5 6l10 -5m-10 5l-8 7l5 7l10 -1m-10 1l-8 8l-11 -2m11 2l4 8l11 2m-11 -2M1529 519l5 7l8 -1m-8 1l-8 7l-9 4m9 -4l4 8l8 -3m-8 3l-8 7l5 8l10 0m-10 0l-9 8l-11 3m11 -3l5 7l8 3m-8 -3l-8 8l-9 4m9 -4l5 8l-9 7l-10 0m10 0l5 8l8 4m-8 -4l-8 8l-9 -1m9 1l4 8l9 -3m-9 3l-8 7l-9 -4m9 4l5 7l11 2m-11 -2l-9 8l-9 2m9 -2l5 7l-8 7l5 7l8 -4m-8 4l-8 7l5 7l8 1m-8 -1" stroke="#8f8fd0" stroke-width="5.2" stroke-linecap="round" stroke-linejoin="round" fill="none" stroke-opacity="0.92"/>
<rect x="1295.6" y="520" width="208.4" height="18" fill="url(#fadeT)" opacity="0.55"/>
</g>
<clipPath id="gc15"><rect x="1295.6" y="675.6" width="208.4" height="51.2"/></clipPath>
<g clip-path="url(#gc15)">
<rect x="1295.6" y="688.6" width="208.4" height="38.2" fill="#c8960f"/>
<circle cx="1303.2" cy="689.1" r="13.7" fill="url(#gD)" stroke="#5e4400" stroke-width="0.85"/>
<circle cx="1332.8" cy="689.1" r="13.7" fill="url(#gD)" stroke="#5e4400" stroke-width="0.85"/>
<circle cx="1362.4" cy="689.1" r="13.7" fill="url(#gD)" stroke="#5e4400" stroke-width="0.85"/>
<circle cx="1392" cy="689.1" r="13.7" fill="url(#gD)" stroke="#5e4400" stroke-width="0.85"/>
<circle cx="1421.6" cy="689.1" r="13.7" fill="url(#gD)" stroke="#5e4400" stroke-width="0.85"/>
<circle cx="1451.2" cy="689.1" r="13.7" fill="url(#gD)" stroke="#5e4400" stroke-width="0.85"/>
<circle cx="1480.8" cy="689.1" r="13.7" fill="url(#gD)" stroke="#5e4400" stroke-width="0.85"/>
<circle cx="1510.4" cy="689.1" r="13.7" fill="url(#gD)" stroke="#5e4400" stroke-width="0.85"/>
<circle cx="1306" cy="715.2" r="15" fill="url(#gS)" stroke="#5e4400" stroke-width="0.85"/>
<circle cx="1335.6" cy="715.2" r="15" fill="url(#gS)" stroke="#5e4400" stroke-width="0.85"/>
<circle cx="1365.2" cy="715.2" r="15" fill="url(#gS)" stroke="#5e4400" stroke-width="0.85"/>
<circle cx="1394.8" cy="715.2" r="15" fill="url(#gS)" stroke="#5e4400" stroke-width="0.85"/>
<circle cx="1424.4" cy="715.2" r="15" fill="url(#gS)" stroke="#5e4400" stroke-width="0.85"/>
<circle cx="1454" cy="715.2" r="15" fill="url(#gS)" stroke="#5e4400" stroke-width="0.85"/>
<circle cx="1483.6" cy="715.2" r="15" fill="url(#gS)" stroke="#5e4400" stroke-width="0.85"/>
<circle cx="1513.2" cy="715.2" r="15" fill="url(#gS)" stroke="#5e4400" stroke-width="0.85"/>
<circle cx="1288.4" cy="692" r="15.2" fill="url(#gS)" stroke="#5e4400" stroke-width="0.85"/>
<circle cx="1318" cy="692" r="15.2" fill="url(#gS)" stroke="#5e4400" stroke-width="0.85"/>
<circle cx="1347.6" cy="692" r="15.2" fill="url(#gS)" stroke="#5e4400" stroke-width="0.85"/>
<circle cx="1377.2" cy="692" r="15.2" fill="url(#gS)" stroke="#5e4400" stroke-width="0.85"/>
<circle cx="1406.8" cy="692" r="15.2" fill="url(#gS)" stroke="#5e4400" stroke-width="0.85"/>
<circle cx="1436.4" cy="692" r="15.2" fill="url(#gS)" stroke="#5e4400" stroke-width="0.85"/>
<circle cx="1466" cy="692" r="15.2" fill="url(#gS)" stroke="#5e4400" stroke-width="0.85"/>
<circle cx="1495.6" cy="692" r="15.2" fill="url(#gS)" stroke="#5e4400" stroke-width="0.85"/>
</g>
<clipPath id="sc16"><rect x="1510" y="516" width="208.3" height="157.1"/></clipPath>
<g clip-path="url(#sc16)">
<rect x="1510" y="516" width="208.3" height="157.1" fill="#d585d0" opacity="0.08"/>
<rect x="1510" y="516" width="208.3" height="157.1" fill="#b0b0b0" opacity="0.3" mask="url(#mV0)"/>
<rect x="1510" y="516" width="208.3" height="157.1" fill="#d585d0" opacity="0.38" mask="url(#mV1)"/>
<rect x="1510" y="516" width="208.3" height="157.1" fill="#d585d0" opacity="0.66" mask="url(#mV2)"/>
<rect x="1510" y="516" width="208.3" height="18" fill="url(#fadeT)" opacity="0.55"/>
</g>
<clipPath id="gc16"><rect x="1510" y="675.6" width="208.3" height="51.2"/></clipPath>
<g clip-path="url(#gc16)">
<rect x="1510" y="688.6" width="208.3" height="38.2" fill="#c8960f"/>
<circle cx="1505.6" cy="715.2" r="13.9" fill="url(#gD)" stroke="#5e4400" stroke-width="0.85"/>
<circle cx="1531.5" cy="715.2" r="13.9" fill="url(#gS)" stroke="#5e4400" stroke-width="0.85"/>
<circle cx="1557.4" cy="715.2" r="13.9" fill="url(#gD)" stroke="#5e4400" stroke-width="0.85"/>
<circle cx="1583.3" cy="715.2" r="13.9" fill="url(#gS)" stroke="#5e4400" stroke-width="0.85"/>
<circle cx="1609.2" cy="715.2" r="13.9" fill="url(#gD)" stroke="#5e4400" stroke-width="0.85"/>
<circle cx="1635.1" cy="715.2" r="13.9" fill="url(#gS)" stroke="#5e4400" stroke-width="0.85"/>
<circle cx="1661" cy="715.2" r="13.9" fill="url(#gD)" stroke="#5e4400" stroke-width="0.85"/>
<circle cx="1686.9" cy="715.2" r="13.9" fill="url(#gS)" stroke="#5e4400" stroke-width="0.85"/>
<circle cx="1712.8" cy="715.2" r="13.9" fill="url(#gD)" stroke="#5e4400" stroke-width="0.85"/>
<circle cx="1518.5" cy="690.9" r="14.1" fill="url(#gS)" stroke="#5e4400" stroke-width="0.85"/>
<circle cx="1544.4" cy="690.9" r="14.1" fill="url(#gD)" stroke="#5e4400" stroke-width="0.85"/>
<circle cx="1570.3" cy="690.9" r="14.1" fill="url(#gS)" stroke="#5e4400" stroke-width="0.85"/>
<circle cx="1596.2" cy="690.9" r="14.1" fill="url(#gD)" stroke="#5e4400" stroke-width="0.85"/>
<circle cx="1622.1" cy="690.9" r="14.1" fill="url(#gS)" stroke="#5e4400" stroke-width="0.85"/>
<circle cx="1648" cy="690.9" r="14.1" fill="url(#gD)" stroke="#5e4400" stroke-width="0.85"/>
<circle cx="1673.9" cy="690.9" r="14.1" fill="url(#gS)" stroke="#5e4400" stroke-width="0.85"/>
<circle cx="1699.8" cy="690.9" r="14.1" fill="url(#gD)" stroke="#5e4400" stroke-width="0.85"/>
<circle cx="1725.7" cy="690.9" r="14.1" fill="url(#gS)" stroke="#5e4400" stroke-width="0.85"/>
</g>
<clipPath id="sc17"><rect x="1724.2" y="500" width="207.8" height="173.1"/></clipPath>
<g clip-path="url(#sc17)">
<rect x="1724.2" y="500" width="207.8" height="173.1" fill="#cf86cb" opacity="0.08"/>
<rect x="1724.2" y="500" width="207.8" height="173.1" fill="#b0b0b0" opacity="0.3" mask="url(#mV0)"/>
<rect x="1724.2" y="500" width="207.8" height="173.1" fill="#cf86cb" opacity="0.36" mask="url(#mV1)"/>
<rect x="1724.2" y="500" width="207.8" height="173.1" fill="#cf86cb" opacity="0.62" mask="url(#mV2)"/>
<rect x="1724.2" y="500" width="207.8" height="18" fill="url(#fadeT)" opacity="0.55"/>
</g>
<clipPath id="gc17"><rect x="1724.2" y="675.6" width="207.8" height="51.2"/></clipPath>
<g clip-path="url(#gc17)">
<rect x="1724.2" y="688.6" width="207.8" height="38.2" fill="#c8960f"/>
<circle cx="1719.9" cy="715.2" r="13.9" fill="url(#gD)" stroke="#5e4400" stroke-width="0.85"/>
<circle cx="1745.8" cy="715.2" r="13.9" fill="url(#gS)" stroke="#5e4400" stroke-width="0.85"/>
<circle cx="1771.7" cy="715.2" r="13.9" fill="url(#gD)" stroke="#5e4400" stroke-width="0.85"/>
<circle cx="1797.6" cy="715.2" r="13.9" fill="url(#gS)" stroke="#5e4400" stroke-width="0.85"/>
<circle cx="1823.5" cy="715.2" r="13.9" fill="url(#gD)" stroke="#5e4400" stroke-width="0.85"/>
<circle cx="1849.4" cy="715.2" r="13.9" fill="url(#gS)" stroke="#5e4400" stroke-width="0.85"/>
<circle cx="1875.3" cy="715.2" r="13.9" fill="url(#gD)" stroke="#5e4400" stroke-width="0.85"/>
<circle cx="1901.2" cy="715.2" r="13.9" fill="url(#gS)" stroke="#5e4400" stroke-width="0.85"/>
<circle cx="1927.1" cy="715.2" r="13.9" fill="url(#gD)" stroke="#5e4400" stroke-width="0.85"/>
<circle cx="1732.8" cy="690.9" r="14.1" fill="url(#gS)" stroke="#5e4400" stroke-width="0.85"/>
<circle cx="1758.7" cy="690.9" r="14.1" fill="url(#gS)" stroke="#5e4400" stroke-width="0.85"/>
<circle cx="1784.6" cy="690.9" r="14.1" fill="url(#gS)" stroke="#5e4400" stroke-width="0.85"/>
<circle cx="1810.5" cy="690.9" r="14.1" fill="url(#gS)" stroke="#5e4400" stroke-width="0.85"/>
<circle cx="1836.4" cy="690.9" r="14.1" fill="url(#gS)" stroke="#5e4400" stroke-width="0.85"/>
<circle cx="1862.3" cy="690.9" r="14.1" fill="url(#gS)" stroke="#5e4400" stroke-width="0.85"/>
<circle cx="1888.2" cy="690.9" r="14.1" fill="url(#gS)" stroke="#5e4400" stroke-width="0.85"/>
<circle cx="1914.1" cy="690.9" r="14.1" fill="url(#gS)" stroke="#5e4400" stroke-width="0.85"/>
<circle cx="1940" cy="690.9" r="14.1" fill="url(#gS)" stroke="#5e4400" stroke-width="0.85"/>
</g>
<path d="M335.9 327.2L339 328.8M321.4 325.4L318 326.2M322.1 319.8L319 318.2M336.6 321.6L340 320.8M358.1 327.1L362.5 332.2M358.1 327.1L363.6 323.2M358.1 327.1L349.3 326M299.9 319.9L294.4 323.8M299.9 319.9L295.5 314.8M299.9 319.9L308.7 321" stroke="#5e5e5e" stroke-width="5.6" stroke-linecap="round" stroke-linejoin="round" fill="none"/>
<path d="M335.9 327.2L339 328.8M321.4 325.4L318 326.2M322.1 319.8L319 318.2M336.6 321.6L340 320.8M358.1 327.1L362.5 332.2M358.1 327.1L363.6 323.2M358.1 327.1L349.3 326M299.9 319.9L294.4 323.8M299.9 319.9L295.5 314.8M299.9 319.9L308.7 321" stroke="#ffffff" stroke-width="4.0" stroke-linecap="round" fill="none"/>
<path d="M343.5 325.3L335.9 327.2M335.9 327.2L321.4 325.4M321.4 325.4L314.5 321.7M314.5 321.7L322.1 319.8M322.1 319.8L336.6 321.6M336.6 321.6L343.5 325.3M343.5 325.3L350.1 326.1M314.5 321.7L307.9 320.9" stroke="#2c2c2c" stroke-width="6.8" stroke-linecap="round" stroke-linejoin="round" fill="none"/>
<path d="M343.5 325.3L335.9 327.2M335.9 327.2L321.4 325.4M321.4 325.4L314.5 321.7M314.5 321.7L322.1 319.8M322.1 319.8L336.6 321.6M336.6 321.6L343.5 325.3M343.5 325.3L350.1 326.1M314.5 321.7L307.9 320.9" stroke="#5c5c5c" stroke-width="4.0" stroke-linecap="round" stroke-linejoin="round" fill="none"/>
<path d="M350.1 326.1L358.1 327.1M307.9 320.9L299.9 319.9" stroke="#2a3f9a" stroke-width="5.6" stroke-linecap="round" fill="none"/>
<text x="284" y="323.9" font-size="30" font-weight="bold" text-anchor="middle" style="fill:#34489e">+</text>
<path d="M535.8 295.1L538.3 298.7M521.4 290.2L517.3 291.7M525.2 278.9L522.7 275.3M539.6 283.8L543.7 282.3M559.4 296.7L562 305.5M559.4 296.7L566.8 291.2M559.4 296.7L550.7 293.8M501.6 277.3L494.2 282.8M501.6 277.3L499 268.5M501.6 277.3L510.3 280.2" stroke="#5e5e5e" stroke-width="5.6" stroke-linecap="round" stroke-linejoin="round" fill="none"/>
<path d="M535.8 295.1L538.3 298.7M521.4 290.2L517.3 291.7M525.2 278.9L522.7 275.3M539.6 283.8L543.7 282.3M559.4 296.7L562 305.5M559.4 296.7L566.8 291.2M559.4 296.7L550.7 293.8M501.6 277.3L494.2 282.8M501.6 277.3L499 268.5M501.6 277.3L510.3 280.2" stroke="#ffffff" stroke-width="4.0" stroke-linecap="round" fill="none"/>
<path d="M545 291.8L535.8 295.1M535.8 295.1L521.4 290.2M521.4 290.2L516 282.2M516 282.2L525.2 278.9M525.2 278.9L539.6 283.8M539.6 283.8L545 291.8M545 291.8L551.5 294M516 282.2L509.5 280" stroke="#2c2c2c" stroke-width="6.8" stroke-linecap="round" stroke-linejoin="round" fill="none"/>
<path d="M545 291.8L535.8 295.1M535.8 295.1L521.4 290.2M521.4 290.2L516 282.2M516 282.2L525.2 278.9M525.2 278.9L539.6 283.8M539.6 283.8L545 291.8M545 291.8L551.5 294M516 282.2L509.5 280" stroke="#5c5c5c" stroke-width="4.0" stroke-linecap="round" stroke-linejoin="round" fill="none"/>
<path d="M551.5 294L559.4 296.7M509.5 280L501.6 277.3" stroke="#2a3f9a" stroke-width="5.6" stroke-linecap="round" fill="none"/>
<text x="574.3" y="311.7" font-size="30" font-weight="bold" text-anchor="middle" style="fill:#34489e">+</text>
<path d="M766.4 294.9L771.2 296.7M752.1 301.8L750.5 306.6M745 286.9L740.2 285.1M759.3 280L760.9 275.2M784.3 277.2L792.6 281.9M784.3 277.2L785.9 267.8M784.3 277.2L775.7 281.3M727.1 304.6L725.5 314M727.1 304.6L718.8 299.9M727.1 304.6L735.7 300.5" stroke="#5e5e5e" stroke-width="5.6" stroke-linecap="round" stroke-linejoin="round" fill="none"/>
<path d="M766.4 294.9L771.2 296.7M752.1 301.8L750.5 306.6M745 286.9L740.2 285.1M759.3 280L760.9 275.2M784.3 277.2L792.6 281.9M784.3 277.2L785.9 267.8M784.3 277.2L775.7 281.3M727.1 304.6L725.5 314M727.1 304.6L718.8 299.9M727.1 304.6L735.7 300.5" stroke="#ffffff" stroke-width="4.0" stroke-linecap="round" fill="none"/>
<path d="M770 284L766.4 294.9M766.4 294.9L752.1 301.8M752.1 301.8L741.4 297.8M741.4 297.8L745 286.9M745 286.9L759.3 280M759.3 280L770 284M770 284L776.4 281M741.4 297.8L735 300.8" stroke="#2c2c2c" stroke-width="6.8" stroke-linecap="round" stroke-linejoin="round" fill="none"/>
<path d="M770 284L766.4 294.9M766.4 294.9L752.1 301.8M752.1 301.8L741.4 297.8M741.4 297.8L745 286.9M745 286.9L759.3 280M759.3 280L770 284M770 284L776.4 281M741.4 297.8L735 300.8" stroke="#5c5c5c" stroke-width="4.0" stroke-linecap="round" stroke-linejoin="round" fill="none"/>
<path d="M776.4 281L784.3 277.2M735 300.8L727.1 304.6" stroke="#2a3f9a" stroke-width="5.6" stroke-linecap="round" fill="none"/>
<text x="713.1" y="320.7" font-size="30" font-weight="bold" text-anchor="middle" style="fill:#34489e">+</text>
<path d="M981.9 254.8L985.4 257.2M966 254.6L962.4 256.9M966.1 244.2L962.6 241.8M982 244.4L985.6 242.1M1005.7 249.8L1011.1 257.7M1005.7 249.8L1011.3 242.1M1005.7 249.8L996.2 249.7M942.3 249.2L936.7 256.9M942.3 249.2L936.9 241.3M942.3 249.2L951.8 249.3" stroke="#5e5e5e" stroke-width="5.6" stroke-linecap="round" stroke-linejoin="round" fill="none"/>
<path d="M981.9 254.8L985.4 257.2M966 254.6L962.4 256.9M966.1 244.2L962.6 241.8M982 244.4L985.6 242.1M1005.7 249.8L1011.1 257.7M1005.7 249.8L1011.3 242.1M1005.7 249.8L996.2 249.7M942.3 249.2L936.7 256.9M942.3 249.2L936.9 241.3M942.3 249.2L951.8 249.3" stroke="#ffffff" stroke-width="4.0" stroke-linecap="round" fill="none"/>
<path d="M989.9 249.7L981.9 254.8M981.9 254.8L966 254.6M966 254.6L958.1 249.3M958.1 249.3L966.1 244.2M966.1 244.2L982 244.4M982 244.4L989.9 249.7M989.9 249.7L997 249.7M958.1 249.3L951 249.3" stroke="#2c2c2c" stroke-width="6.8" stroke-linecap="round" stroke-linejoin="round" fill="none"/>
<path d="M989.9 249.7L981.9 254.8M981.9 254.8L966 254.6M966 254.6L958.1 249.3M958.1 249.3L966.1 244.2M966.1 244.2L982 244.4M982 244.4L989.9 249.7M989.9 249.7L997 249.7M958.1 249.3L951 249.3" stroke="#5c5c5c" stroke-width="4.0" stroke-linecap="round" stroke-linejoin="round" fill="none"/>
<path d="M997 249.7L1005.7 249.8M951 249.3L942.3 249.2" stroke="#2a3f9a" stroke-width="5.6" stroke-linecap="round" fill="none"/>
<text x="926.1" y="257.6" font-size="30" font-weight="bold" text-anchor="middle" style="fill:#34489e">+</text>
<path d="M1174.5 201.8L1173 207M1165.9 189.3L1160.5 188.8M1181.1 178.8L1182.6 173.6M1189.7 191.3L1195.1 191.8M1195.1 215.4L1191.9 224M1195.1 215.4L1204.2 215.5M1195.1 215.4L1189.9 207.9M1160.5 165.2L1151.4 165.1M1160.5 165.2L1163.7 156.6M1160.5 165.2L1165.7 172.7" stroke="#5e5e5e" stroke-width="5.6" stroke-linecap="round" stroke-linejoin="round" fill="none"/>
<path d="M1174.5 201.8L1173 207M1165.9 189.3L1160.5 188.8M1181.1 178.8L1182.6 173.6M1189.7 191.3L1195.1 191.8M1195.1 215.4L1191.9 224M1195.1 215.4L1204.2 215.5M1195.1 215.4L1189.9 207.9M1160.5 165.2L1151.4 165.1M1160.5 165.2L1163.7 156.6M1160.5 165.2L1165.7 172.7" stroke="#ffffff" stroke-width="4.0" stroke-linecap="round" fill="none"/>
<path d="M1186.4 202.9L1174.5 201.8M1174.5 201.8L1165.9 189.3M1165.9 189.3L1169.2 177.7M1169.2 177.7L1181.1 178.8M1181.1 178.8L1189.7 191.3M1189.7 191.3L1186.4 202.9M1186.4 202.9L1190.3 208.5M1169.2 177.7L1165.3 172.1" stroke="#2c2c2c" stroke-width="6.8" stroke-linecap="round" stroke-linejoin="round" fill="none"/>
<path d="M1186.4 202.9L1174.5 201.8M1174.5 201.8L1165.9 189.3M1165.9 189.3L1169.2 177.7M1169.2 177.7L1181.1 178.8M1181.1 178.8L1189.7 191.3M1189.7 191.3L1186.4 202.9M1186.4 202.9L1190.3 208.5M1169.2 177.7L1165.3 172.1" stroke="#5c5c5c" stroke-width="4.0" stroke-linecap="round" stroke-linejoin="round" fill="none"/>
<path d="M1190.3 208.5L1195.1 215.4M1165.3 172.1L1160.5 165.2" stroke="#2a3f9a" stroke-width="5.6" stroke-linecap="round" fill="none"/>
<text x="1156.7" y="157.1" font-size="30" font-weight="bold" text-anchor="middle" style="fill:#34489e">+</text>
<path d="M1399.5 205.3L1400.7 210.1M1387.2 199.9L1382.8 202.3M1394.1 183.9L1392.9 179.1M1406.4 189.3L1410.8 186.9M1421.4 205.3L1423 213.2M1421.4 205.3L1428.3 201.1M1421.4 205.3L1414 202.1M1372.2 183.9L1365.3 188.1M1372.2 183.9L1370.6 176M1372.2 183.9L1379.6 187.1" stroke="#5e5e5e" stroke-width="5.6" stroke-linecap="round" stroke-linejoin="round" fill="none"/>
<path d="M1399.5 205.3L1400.7 210.1M1387.2 199.9L1382.8 202.3M1394.1 183.9L1392.9 179.1M1406.4 189.3L1410.8 186.9M1421.4 205.3L1423 213.2M1421.4 205.3L1428.3 201.1M1421.4 205.3L1414 202.1M1372.2 183.9L1365.3 188.1M1372.2 183.9L1370.6 176M1372.2 183.9L1379.6 187.1" stroke="#ffffff" stroke-width="4.0" stroke-linecap="round" fill="none"/>
<path d="M1409.1 200L1399.5 205.3M1399.5 205.3L1387.2 199.9M1387.2 199.9L1384.5 189.2M1384.5 189.2L1394.1 183.9M1394.1 183.9L1406.4 189.3M1406.4 189.3L1409.1 200M1409.1 200L1414.6 202.4M1384.5 189.2L1379 186.8" stroke="#2c2c2c" stroke-width="6.8" stroke-linecap="round" stroke-linejoin="round" fill="none"/>
<path d="M1409.1 200L1399.5 205.3M1399.5 205.3L1387.2 199.9M1387.2 199.9L1384.5 189.2M1384.5 189.2L1394.1 183.9M1394.1 183.9L1406.4 189.3M1406.4 189.3L1409.1 200M1409.1 200L1414.6 202.4M1384.5 189.2L1379 186.8" stroke="#5c5c5c" stroke-width="4.0" stroke-linecap="round" stroke-linejoin="round" fill="none"/>
<path d="M1414.6 202.4L1421.4 205.3M1379 186.8L1372.2 183.9" stroke="#2a3f9a" stroke-width="5.6" stroke-linecap="round" fill="none"/>
<text x="1362.2" y="182.9" font-size="30" font-weight="bold" text-anchor="middle" style="fill:#34489e">+</text>
<path d="M1619.1 192.1L1622.5 195.7M1604.5 192.8L1601.3 196.6M1603.7 176.3L1600.3 172.7M1618.3 175.6L1621.5 171.8M1640.6 182.9L1646 189.8M1640.6 182.9L1645.4 175.5M1640.6 182.9L1631.9 183.3M1582.2 185.5L1577.4 192.9M1582.2 185.5L1576.8 178.6M1582.2 185.5L1590.9 185.1" stroke="#5e5e5e" stroke-width="5.6" stroke-linecap="round" stroke-linejoin="round" fill="none"/>
<path d="M1619.1 192.1L1622.5 195.7M1604.5 192.8L1601.3 196.6M1603.7 176.3L1600.3 172.7M1618.3 175.6L1621.5 171.8M1640.6 182.9L1646 189.8M1640.6 182.9L1645.4 175.5M1640.6 182.9L1631.9 183.3M1582.2 185.5L1577.4 192.9M1582.2 185.5L1576.8 178.6M1582.2 185.5L1590.9 185.1" stroke="#ffffff" stroke-width="4.0" stroke-linecap="round" fill="none"/>
<path d="M1626 183.5L1619.1 192.1M1619.1 192.1L1604.5 192.8M1604.5 192.8L1596.8 184.9M1596.8 184.9L1603.7 176.3M1603.7 176.3L1618.3 175.6M1618.3 175.6L1626 183.5M1626 183.5L1632.6 183.2M1596.8 184.9L1590.2 185.2" stroke="#2c2c2c" stroke-width="6.8" stroke-linecap="round" stroke-linejoin="round" fill="none"/>
<path d="M1626 183.5L1619.1 192.1M1619.1 192.1L1604.5 192.8M1604.5 192.8L1596.8 184.9M1596.8 184.9L1603.7 176.3M1603.7 176.3L1618.3 175.6M1618.3 175.6L1626 183.5M1626 183.5L1632.6 183.2M1596.8 184.9L1590.2 185.2" stroke="#5c5c5c" stroke-width="4.0" stroke-linecap="round" stroke-linejoin="round" fill="none"/>
<path d="M1632.6 183.2L1640.6 182.9M1590.2 185.2L1582.2 185.5" stroke="#2a3f9a" stroke-width="5.6" stroke-linecap="round" fill="none"/>
<text x="1658.8" y="197.7" font-size="30" font-weight="bold" text-anchor="middle" style="fill:#34489e">+</text>
<path d="M1838.6 146L1840.4 149.5M1825.5 138.1L1821.5 138.2M1830.2 130.2L1828.4 126.7M1843.3 138.1L1847.3 138M1860.5 153.8L1861.2 162.9M1860.5 153.8L1868.9 150.1M1860.5 153.8L1852.7 149.1M1808.3 122.4L1799.9 126.1M1808.3 122.4L1807.6 113.3M1808.3 122.4L1816.1 127.1" stroke="#5e5e5e" stroke-width="5.6" stroke-linecap="round" stroke-linejoin="round" fill="none"/>
<path d="M1838.6 146L1840.4 149.5M1825.5 138.1L1821.5 138.2M1830.2 130.2L1828.4 126.7M1843.3 138.1L1847.3 138M1860.5 153.8L1861.2 162.9M1860.5 153.8L1868.9 150.1M1860.5 153.8L1852.7 149.1M1808.3 122.4L1799.9 126.1M1808.3 122.4L1807.6 113.3M1808.3 122.4L1816.1 127.1" stroke="#ffffff" stroke-width="4.0" stroke-linecap="round" fill="none"/>
<path d="M1847.5 146L1838.6 146M1838.6 146L1825.5 138.1M1825.5 138.1L1821.3 130.2M1821.3 130.2L1830.2 130.2M1830.2 130.2L1843.3 138.1M1843.3 138.1L1847.5 146M1847.5 146L1853.4 149.5M1821.3 130.2L1815.4 126.7" stroke="#2c2c2c" stroke-width="6.8" stroke-linecap="round" stroke-linejoin="round" fill="none"/>
<path d="M1847.5 146L1838.6 146M1838.6 146L1825.5 138.1M1825.5 138.1L1821.3 130.2M1821.3 130.2L1830.2 130.2M1830.2 130.2L1843.3 138.1M1843.3 138.1L1847.5 146M1847.5 146L1853.4 149.5M1821.3 130.2L1815.4 126.7" stroke="#5c5c5c" stroke-width="4.0" stroke-linecap="round" stroke-linejoin="round" fill="none"/>
<path d="M1853.4 149.5L1860.5 153.8M1815.4 126.7L1808.3 122.4" stroke="#2a3f9a" stroke-width="5.6" stroke-linecap="round" fill="none"/>
<text x="1796.9" y="119.2" font-size="30" font-weight="bold" text-anchor="middle" style="fill:#34489e">+</text>
<path d="M336.6 658.3L337.3 663.6M323.6 650.2L318.5 652M333.4 634.5L332.7 629.2M346.4 642.6L351.5 640.8M360.9 662.5L361.4 671.6M360.9 662.5L369.3 658.9M309.1 630.3L302.5 635.5M309.1 630.3L310.8 622.1" stroke="#5e5e5e" stroke-width="5.6" stroke-linecap="round" stroke-linejoin="round" fill="none"/>
<path d="M336.6 658.3L337.3 663.6M323.6 650.2L318.5 652M333.4 634.5L332.7 629.2M346.4 642.6L351.5 640.8M360.9 662.5L361.4 671.6M360.9 662.5L369.3 658.9M309.1 630.3L302.5 635.5M309.1 630.3L310.8 622.1" stroke="#ffffff" stroke-width="4.0" stroke-linecap="round" fill="none"/>
<path d="M348 654.4L336.6 658.3M336.6 658.3L323.6 650.2M323.6 650.2L322 638.4M322 638.4L333.4 634.5M333.4 634.5L346.4 642.6M346.4 642.6L348 654.4M348 654.4L353.8 658.1M322 638.4L309.1 630.3M309.1 630.3L306.4 615.3" stroke="#2c2c2c" stroke-width="6.8" stroke-linecap="round" stroke-linejoin="round" fill="none"/>
<path d="M348 654.4L336.6 658.3M336.6 658.3L323.6 650.2M323.6 650.2L322 638.4M322 638.4L333.4 634.5M333.4 634.5L346.4 642.6M346.4 642.6L348 654.4M348 654.4L353.8 658.1M322 638.4L309.1 630.3M309.1 630.3L306.4 615.3" stroke="#5c5c5c" stroke-width="4.0" stroke-linecap="round" stroke-linejoin="round" fill="none"/>
<path d="M353.8 658.1L360.9 662.5" stroke="#2a3f9a" stroke-width="5.6" stroke-linecap="round" fill="none"/>
<path d="M306.4 615.3L311.8 609.9M306.4 615.3L299.5 612.1" stroke="#d8321e" stroke-width="5.4" stroke-linecap="round" fill="none"/>
<text x="292.3" y="614.1" font-size="30" font-weight="bold" text-anchor="middle" style="fill:#e3201b">−</text>
<path d="M551.9 631.8L555.2 636.1M537.3 631.8L534 636.1M537.3 612.8L534 608.5M551.9 612.8L555.2 608.5M573.9 622.3L578.9 629.5M573.9 622.3L578.9 615.1M515.3 622.3L512.6 629.9M515.3 622.3L512.6 614.7" stroke="#5e5e5e" stroke-width="5.6" stroke-linecap="round" stroke-linejoin="round" fill="none"/>
<path d="M551.9 631.8L555.2 636.1M537.3 631.8L534 636.1M537.3 612.8L534 608.5M551.9 612.8L555.2 608.5M573.9 622.3L578.9 629.5M573.9 622.3L578.9 615.1M515.3 622.3L512.6 629.9M515.3 622.3L512.6 614.7" stroke="#ffffff" stroke-width="4.0" stroke-linecap="round" fill="none"/>
<path d="M559.2 622.3L551.9 631.8M551.9 631.8L537.3 631.8M537.3 631.8L530 622.3M530 622.3L537.3 612.8M537.3 612.8L551.9 612.8M551.9 612.8L559.2 622.3M559.2 622.3L565.8 622.3M530 622.3L515.3 622.3M515.3 622.3L501.6 617.3" stroke="#2c2c2c" stroke-width="6.8" stroke-linecap="round" stroke-linejoin="round" fill="none"/>
<path d="M559.2 622.3L551.9 631.8M551.9 631.8L537.3 631.8M537.3 631.8L530 622.3M530 622.3L537.3 612.8M537.3 612.8L551.9 612.8M551.9 612.8L559.2 622.3M559.2 622.3L565.8 622.3M530 622.3L515.3 622.3M515.3 622.3L501.6 617.3" stroke="#5c5c5c" stroke-width="4.0" stroke-linecap="round" stroke-linejoin="round" fill="none"/>
<path d="M565.8 622.3L573.9 622.3" stroke="#2a3f9a" stroke-width="5.6" stroke-linecap="round" fill="none"/>
<path d="M501.6 617.3L499.7 610.2M501.6 617.3L495.6 621.5" stroke="#d8321e" stroke-width="5.4" stroke-linecap="round" fill="none"/>
<text x="489.7" y="607.6" font-size="30" font-weight="bold" text-anchor="middle" style="fill:#e3201b">−</text>
<path d="M742.2 576.3L739 573.6M756.2 576.3L759.4 573.6M756.2 588.5L759.4 591.2M742.2 588.5L739 591.2M721.1 582.4L716.3 575.5M721.1 582.4L716.3 589.3M777.3 582.4L779.9 575.1M777.3 582.4L779.9 589.7" stroke="#5e5e5e" stroke-width="5.6" stroke-linecap="round" stroke-linejoin="round" fill="none"/>
<path d="M742.2 576.3L739 573.6M756.2 576.3L759.4 573.6M756.2 588.5L759.4 591.2M742.2 588.5L739 591.2M721.1 582.4L716.3 575.5M721.1 582.4L716.3 589.3M777.3 582.4L779.9 575.1M777.3 582.4L779.9 589.7" stroke="#ffffff" stroke-width="4.0" stroke-linecap="round" fill="none"/>
<path d="M735.2 582.4L742.2 576.3M742.2 576.3L756.2 576.3M756.2 576.3L763.2 582.4M763.2 582.4L756.2 588.5M756.2 588.5L742.2 588.5M742.2 588.5L735.2 582.4M735.2 582.4L728.9 582.4M763.2 582.4L777.3 582.4M777.3 582.4L784.3 570.2" stroke="#2c2c2c" stroke-width="6.8" stroke-linecap="round" stroke-linejoin="round" fill="none"/>
<path d="M735.2 582.4L742.2 576.3M742.2 576.3L756.2 576.3M756.2 576.3L763.2 582.4M763.2 582.4L756.2 588.5M756.2 588.5L742.2 588.5M742.2 588.5L735.2 582.4M735.2 582.4L728.9 582.4M763.2 582.4L777.3 582.4M777.3 582.4L784.3 570.2" stroke="#5c5c5c" stroke-width="4.0" stroke-linecap="round" stroke-linejoin="round" fill="none"/>
<path d="M728.9 582.4L721.1 582.4" stroke="#2a3f9a" stroke-width="5.6" stroke-linecap="round" fill="none"/>
<path d="M784.3 570.2L791.3 569.6M784.3 570.2L781.3 563.9" stroke="#d8321e" stroke-width="5.4" stroke-linecap="round" fill="none"/>
<text x="806" y="573.5" font-size="30" font-weight="bold" text-anchor="middle" style="fill:#e3201b">−</text>
<path d="M988.5 588L992.2 588.6M974.7 592.6L972.1 595.3M972.3 585.4L968.6 584.8M986.1 580.8L988.7 578.1M1008.2 577.4L1014.9 581.7M1008.2 577.4L1011 570M952.6 596L952.1 603M952.6 596L948 590.7" stroke="#5e5e5e" stroke-width="5.6" stroke-linecap="round" stroke-linejoin="round" fill="none"/>
<path d="M988.5 588L992.2 588.6M974.7 592.6L972.1 595.3M972.3 585.4L968.6 584.8M986.1 580.8L988.7 578.1M1008.2 577.4L1014.9 581.7M1008.2 577.4L1011 570M952.6 596L952.1 603M952.6 596L948 590.7" stroke="#ffffff" stroke-width="4.0" stroke-linecap="round" fill="none"/>
<path d="M994.3 582.1L988.5 588M988.5 588L974.7 592.6M974.7 592.6L966.5 591.3M966.5 591.3L972.3 585.4M972.3 585.4L986.1 580.8M986.1 580.8L994.3 582.1M994.3 582.1L1000.5 580M966.5 591.3L952.6 596M952.6 596L955.2 610.4" stroke="#2c2c2c" stroke-width="6.8" stroke-linecap="round" stroke-linejoin="round" fill="none"/>
<path d="M994.3 582.1L988.5 588M988.5 588L974.7 592.6M974.7 592.6L966.5 591.3M966.5 591.3L972.3 585.4M972.3 585.4L986.1 580.8M986.1 580.8L994.3 582.1M994.3 582.1L1000.5 580M966.5 591.3L952.6 596M952.6 596L955.2 610.4" stroke="#5c5c5c" stroke-width="4.0" stroke-linecap="round" stroke-linejoin="round" fill="none"/>
<path d="M1000.5 580L1008.2 577.4" stroke="#2a3f9a" stroke-width="5.6" stroke-linecap="round" fill="none"/>
<path d="M955.2 610.4L950 615.6M955.2 610.4L961.8 613.5" stroke="#d8321e" stroke-width="5.4" stroke-linecap="round" fill="none"/>
<text x="962.5" y="648.5" font-size="30" font-weight="bold" text-anchor="middle" style="fill:#e3201b">−</text>
<path d="M1192 542.8L1193.3 546M1182 532L1178.8 530.5M1186 528.2L1184.7 525M1196 539L1199.2 540.5M1209 556.9L1209.1 563.7M1209 556.9L1215.7 557.5M1169 514.1L1163.7 515.3M1169 514.1L1170.6 508.8" stroke="#5e5e5e" stroke-width="5.6" stroke-linecap="round" stroke-linejoin="round" fill="none"/>
<path d="M1192 542.8L1193.3 546M1182 532L1178.8 530.5M1186 528.2L1184.7 525M1196 539L1199.2 540.5M1209 556.9L1209.1 563.7M1209 556.9L1215.7 557.5M1169 514.1L1163.7 515.3M1169 514.1L1170.6 508.8" stroke="#ffffff" stroke-width="4.0" stroke-linecap="round" fill="none"/>
<path d="M1199 546.2L1192 542.8M1192 542.8L1182 532M1182 532L1179 524.8M1179 524.8L1186 528.2M1186 528.2L1196 539M1196 539L1199 546.2M1199 546.2L1203.5 551M1179 524.8L1169 514.1M1169 514.1L1171.6 499.7" stroke="#2c2c2c" stroke-width="6.8" stroke-linecap="round" stroke-linejoin="round" fill="none"/>
<path d="M1199 546.2L1192 542.8M1192 542.8L1182 532M1182 532L1179 524.8M1179 524.8L1186 528.2M1186 528.2L1196 539M1196 539L1199 546.2M1199 546.2L1203.5 551M1179 524.8L1169 514.1M1169 514.1L1171.6 499.7" stroke="#5c5c5c" stroke-width="4.0" stroke-linecap="round" stroke-linejoin="round" fill="none"/>
<path d="M1203.5 551L1209 556.9" stroke="#2a3f9a" stroke-width="5.6" stroke-linecap="round" fill="none"/>
<path d="M1171.6 499.7L1178.2 496.6M1171.6 499.7L1166.4 494.5" stroke="#d8321e" stroke-width="5.4" stroke-linecap="round" fill="none"/>
<text x="1198.3" y="504.6" font-size="30" font-weight="bold" text-anchor="middle" style="fill:#e3201b">−</text>
<path d="M1412.3 532.4L1414.2 535.7M1399.6 526.4L1395.8 527.1M1403.7 517.6L1401.8 514.3M1416.4 523.6L1420.2 522.9M1433.4 536.9L1434.9 545.1M1433.4 536.9L1440.7 532.6M1382.6 513.1L1377.1 518.6M1382.6 513.1L1383.2 505.5" stroke="#5e5e5e" stroke-width="5.6" stroke-linecap="round" stroke-linejoin="round" fill="none"/>
<path d="M1412.3 532.4L1414.2 535.7M1399.6 526.4L1395.8 527.1M1403.7 517.6L1401.8 514.3M1416.4 523.6L1420.2 522.9M1433.4 536.9L1434.9 545.1M1433.4 536.9L1440.7 532.6M1382.6 513.1L1377.1 518.6M1382.6 513.1L1383.2 505.5" stroke="#ffffff" stroke-width="4.0" stroke-linecap="round" fill="none"/>
<path d="M1420.7 530.9L1412.3 532.4M1412.3 532.4L1399.6 526.4M1399.6 526.4L1395.3 519.1M1395.3 519.1L1403.7 517.6M1403.7 517.6L1416.4 523.6M1416.4 523.6L1420.7 530.9M1420.7 530.9L1426.4 533.6M1395.3 519.1L1382.6 513.1M1382.6 513.1L1368.5 513.1" stroke="#2c2c2c" stroke-width="6.8" stroke-linecap="round" stroke-linejoin="round" fill="none"/>
<path d="M1420.7 530.9L1412.3 532.4M1412.3 532.4L1399.6 526.4M1399.6 526.4L1395.3 519.1M1395.3 519.1L1403.7 517.6M1403.7 517.6L1416.4 523.6M1416.4 523.6L1420.7 530.9M1420.7 530.9L1426.4 533.6M1395.3 519.1L1382.6 513.1M1382.6 513.1L1368.5 513.1" stroke="#5c5c5c" stroke-width="4.0" stroke-linecap="round" stroke-linejoin="round" fill="none"/>
<path d="M1426.4 533.6L1433.4 536.9" stroke="#2a3f9a" stroke-width="5.6" stroke-linecap="round" fill="none"/>
<path d="M1368.5 513.1L1364.5 507.4M1368.5 513.1L1364.5 518.9" stroke="#d8321e" stroke-width="5.4" stroke-linecap="round" fill="none"/>
<text x="1362.1" y="551.3" font-size="30" font-weight="bold" text-anchor="middle" style="fill:#e3201b">−</text>
<path d="M1636.5 488.6L1641.9 488.6M1628.4 500.1L1630.2 505.2M1612.5 489L1607.1 489M1620.6 477.5L1618.8 472.4M1640.6 465.8L1649 465.8M1640.6 465.8L1637.7 457.9M1608.4 511.8L1612.8 518.1M1608.4 511.8L1601 509.8" stroke="#5e5e5e" stroke-width="5.6" stroke-linecap="round" stroke-linejoin="round" fill="none"/>
<path d="M1636.5 488.6L1641.9 488.6M1628.4 500.1L1630.2 505.2M1612.5 489L1607.1 489M1620.6 477.5L1618.8 472.4M1640.6 465.8L1649 465.8M1640.6 465.8L1637.7 457.9M1608.4 511.8L1612.8 518.1M1608.4 511.8L1601 509.8" stroke="#ffffff" stroke-width="4.0" stroke-linecap="round" fill="none"/>
<path d="M1632.5 477.3L1636.5 488.6M1636.5 488.6L1628.4 500.1M1628.4 500.1L1616.5 500.3M1616.5 500.3L1612.5 489M1612.5 489L1620.6 477.5M1620.6 477.5L1632.5 477.3M1632.5 477.3L1636.2 472.1M1616.5 500.3L1608.4 511.8M1608.4 511.8L1594.4 511.8" stroke="#2c2c2c" stroke-width="6.8" stroke-linecap="round" stroke-linejoin="round" fill="none"/>
<path d="M1632.5 477.3L1636.5 488.6M1636.5 488.6L1628.4 500.1M1628.4 500.1L1616.5 500.3M1616.5 500.3L1612.5 489M1612.5 489L1620.6 477.5M1620.6 477.5L1632.5 477.3M1632.5 477.3L1636.2 472.1M1616.5 500.3L1608.4 511.8M1608.4 511.8L1594.4 511.8" stroke="#5c5c5c" stroke-width="4.0" stroke-linecap="round" stroke-linejoin="round" fill="none"/>
<path d="M1636.2 472.1L1640.6 465.8" stroke="#2a3f9a" stroke-width="5.6" stroke-linecap="round" fill="none"/>
<path d="M1594.4 511.8L1590.4 506M1594.4 511.8L1590.4 517.5" stroke="#d8321e" stroke-width="5.4" stroke-linecap="round" fill="none"/>
<text x="1574" y="525.2" font-size="30" font-weight="bold" text-anchor="middle" style="fill:#e3201b">−</text>
<path d="M1823.3 522.9L1820.3 521.1M1836.7 522.9L1839.7 521.1M1836.7 531.1L1839.7 532.9M1823.3 531.1L1820.3 532.9M1803.2 527L1798.5 520.4M1803.2 527L1798.5 533.6M1856.8 527L1859.4 520.1M1856.8 527L1859.4 533.9" stroke="#5e5e5e" stroke-width="5.6" stroke-linecap="round" stroke-linejoin="round" fill="none"/>
<path d="M1823.3 522.9L1820.3 521.1M1836.7 522.9L1839.7 521.1M1836.7 531.1L1839.7 532.9M1823.3 531.1L1820.3 532.9M1803.2 527L1798.5 520.4M1803.2 527L1798.5 533.6M1856.8 527L1859.4 520.1M1856.8 527L1859.4 533.9" stroke="#ffffff" stroke-width="4.0" stroke-linecap="round" fill="none"/>
<path d="M1816.6 527L1823.3 522.9M1823.3 522.9L1836.7 522.9M1836.7 522.9L1843.4 527M1843.4 527L1836.7 531.1M1836.7 531.1L1823.3 531.1M1823.3 531.1L1816.6 527M1816.6 527L1810.5 527M1843.4 527L1856.8 527M1856.8 527L1869.5 522.4" stroke="#2c2c2c" stroke-width="6.8" stroke-linecap="round" stroke-linejoin="round" fill="none"/>
<path d="M1816.6 527L1823.3 522.9M1823.3 522.9L1836.7 522.9M1836.7 522.9L1843.4 527M1843.4 527L1836.7 531.1M1836.7 531.1L1823.3 531.1M1823.3 531.1L1816.6 527M1816.6 527L1810.5 527M1843.4 527L1856.8 527M1856.8 527L1869.5 522.4" stroke="#5c5c5c" stroke-width="4.0" stroke-linecap="round" stroke-linejoin="round" fill="none"/>
<path d="M1810.5 527L1803.2 527" stroke="#2a3f9a" stroke-width="5.6" stroke-linecap="round" fill="none"/>
<path d="M1869.5 522.4L1874.9 526.3M1869.5 522.4L1871.2 515.9" stroke="#d8321e" stroke-width="5.4" stroke-linecap="round" fill="none"/>
<text x="1886.1" y="545.3" font-size="30" font-weight="bold" text-anchor="middle" style="fill:#e3201b">−</text>
<g stroke="#111" stroke-width="2" fill="none" stroke-linecap="round">
<path d="M114.4 189.7L148.1 209L148.1 247.1L114.4 266.4L81.6 247.5L81.6 209Z M115.7 197.5L141.2 212.7 M88.2 212.7L88.6 243 M115.7 257.5L141.2 243.7 M148.1 209L167.8 197.5 M81.6 247.5L57.6 260.9"/>
<path d="M114.5 543.2L147.4 562.2L147.4 600.2L114.5 619.1L81.9 600.4L81.9 562.2Z M115.2 551.2L141 566.1 M89 566.5L89 595.9 M115.2 610.9L141 596.9 M147.4 562.2L179.6 543.6L212.6 562.2 M81.9 600.4L58.7 613.8"/>
</g>
<g stroke="#b51f25" stroke-width="2" fill="none"><path d="M212.6 562.2L232.6 550.8M212.6 562.2L212.6 585.8"/><path d="M219 567.2L236.2 556.5M219 567.2L219 585.8" stroke-dasharray="5 3"/></g>
<text x="171.2" y="200.3" font-size="30" fill="#3b4da0" style="fill:#3b4da0">NH<tspan font-size="21" dy="8">3</tspan></text>
<text x="216.5" y="176.5" font-size="20" fill="#3b4da0" style="fill:#3b4da0">+</text>
<text x="1" y="276.5" font-size="30" style="fill:#3b4da0">H<tspan font-size="21" dy="8">2</tspan><tspan dy="-8">N</tspan></text>
<text x="2" y="629.5" font-size="30" style="fill:#3b4da0">H<tspan font-size="21" dy="8">2</tspan><tspan dy="-8">N</tspan></text>
<text x="235.3" y="557.6" font-size="30" style="fill:#b51f25">O</text>
<text x="254.3" y="582" font-size="27" text-anchor="middle" style="fill:#b51f25">−</text>
<text x="205.2" y="610.8" font-size="30" style="fill:#b51f25">O</text>
<text x="128.4" y="326" class="nm" text-anchor="middle"><tspan font-style="italic">p</tspan>-PDA</text>
<text x="128.4" y="681.7" class="nm" text-anchor="middle">4-APA</text>
<path d="M135.4 1346.8L164.6 1346.8M181.8 1346.7L210.9 1346M228.1 1345.5L257.3 1344.3M274.5 1343.8L303.7 1343.1M320.9 1343L350 1343M366.8 1340.3L396.9 1330.3M406.9 1319.2L449.5 1133.8M452.8 1116.9L488 912.3M489.5 903.5L496.3 864.2M498.7 864.3L503 903.5M504 912.3L543.2 1268.7M548.9 1284.3L585.7 1338.7M599.1 1346.1L628.3 1347M645.5 1347.4L674.7 1347.7M691.9 1347.8L721 1347.8M738.2 1347.8L767.4 1347.8M784.6 1347.8L813.8 1347.8M831 1347.8L860.1 1347.8M877.3 1347.8L906.5 1347.8" stroke="#3d3d3d" stroke-width="2.6" fill="none" stroke-linecap="butt"/>
<rect x="120.7" y="1340.7" width="12.2" height="12.2" fill="#3d3d3d"/>
<rect x="167.1" y="1340.7" width="12.2" height="12.2" fill="#3d3d3d"/>
<rect x="213.4" y="1339.8" width="12.2" height="12.2" fill="#3d3d3d"/>
<rect x="259.8" y="1337.8" width="12.2" height="12.2" fill="#3d3d3d"/>
<rect x="306.2" y="1336.9" width="12.2" height="12.2" fill="#3d3d3d"/>
<rect x="352.5" y="1336.9" width="12.2" height="12.2" fill="#3d3d3d"/>
<rect x="398.9" y="1321.5" width="12.2" height="12.2" fill="#3d3d3d"/>
<rect x="445.3" y="1119.3" width="12.2" height="12.2" fill="#3d3d3d"/>
<rect x="491.7" y="849.6" width="12.2" height="12.2" fill="#3d3d3d"/>
<rect x="538" y="1271.1" width="12.2" height="12.2" fill="#3d3d3d"/>
<rect x="584.4" y="1339.8" width="12.2" height="12.2" fill="#3d3d3d"/>
<rect x="630.8" y="1341.2" width="12.2" height="12.2" fill="#3d3d3d"/>
<rect x="677.2" y="1341.7" width="12.2" height="12.2" fill="#3d3d3d"/>
<rect x="723.5" y="1341.7" width="12.2" height="12.2" fill="#3d3d3d"/>
<rect x="769.9" y="1341.7" width="12.2" height="12.2" fill="#3d3d3d"/>
<rect x="816.3" y="1341.7" width="12.2" height="12.2" fill="#3d3d3d"/>
<rect x="862.6" y="1341.7" width="12.2" height="12.2" fill="#3d3d3d"/>
<rect x="909" y="1341.7" width="12.2" height="12.2" fill="#3d3d3d"/>
<path d="M135.3 1340.7L164.7 1336.1M181.8 1334.6L210.9 1334M228.1 1333.7L257.3 1333.5M274.4 1332.1L303.8 1327.2M320.5 1323.4L350.4 1314.7M366.5 1308.9L397.1 1295.8M411.1 1286.3L445.3 1252.3M452.7 1237.8L496.5 948.2M499 948.2L542.9 1257.1M549.2 1272.5L585.4 1321.5M599 1329.7L628.4 1334M645.1 1332.8L675 1324.1M691.2 1318.5L721.6 1306.5M738.2 1304.4L767.5 1308.1M784.3 1311.4L814.1 1319.8M831 1321.6L860.2 1319.8M877.2 1320.7L906.6 1325.4" stroke="#ebbd20" stroke-width="2.6" fill="none" stroke-linecap="butt"/>
<circle cx="126.8" cy="1342" r="7.1" fill="#ebbd20"/>
<circle cx="173.2" cy="1334.7" r="7.1" fill="#ebbd20"/>
<circle cx="219.5" cy="1333.8" r="7.1" fill="#ebbd20"/>
<circle cx="265.9" cy="1333.5" r="7.1" fill="#ebbd20"/>
<circle cx="312.3" cy="1325.8" r="7.1" fill="#ebbd20"/>
<circle cx="358.6" cy="1312.3" r="7.1" fill="#ebbd20"/>
<circle cx="405" cy="1292.4" r="7.1" fill="#ebbd20"/>
<circle cx="451.4" cy="1246.3" r="7.1" fill="#ebbd20"/>
<circle cx="497.8" cy="939.7" r="7.1" fill="#ebbd20"/>
<circle cx="544.1" cy="1265.6" r="7.1" fill="#ebbd20"/>
<circle cx="590.5" cy="1328.5" r="7.1" fill="#ebbd20"/>
<circle cx="636.9" cy="1335.2" r="7.1" fill="#ebbd20"/>
<circle cx="683.3" cy="1321.7" r="7.1" fill="#ebbd20"/>
<circle cx="729.6" cy="1303.3" r="7.1" fill="#ebbd20"/>
<circle cx="776" cy="1309.1" r="7.1" fill="#ebbd20"/>
<circle cx="822.4" cy="1322.1" r="7.1" fill="#ebbd20"/>
<circle cx="868.7" cy="1319.3" r="7.1" fill="#ebbd20"/>
<circle cx="915.1" cy="1326.8" r="7.1" fill="#ebbd20"/>
<path d="M135 1336.6L164.9 1327.4M181.3 1322.1L211.4 1311.9M227.5 1305.8L258 1293.1M273.6 1285.9L304.6 1270.4M319.6 1262L351.4 1242.1M366.1 1233.3L397.5 1215.7M413.5 1209.9L442.9 1204.3M459.5 1205.6L489.7 1216.3M504.6 1224.4L537.3 1248.8M551.2 1259L583.5 1281.9M598.3 1290.6L629.1 1305.4M645 1312L675.1 1322.7M691.8 1326.8L721.1 1331.1M738.2 1333.2L767.4 1336.3M784.6 1337.9L813.8 1340.3M830.9 1341.7L860.2 1344.2M877.3 1345.1L906.5 1345.7" stroke="#d2232a" stroke-width="2.6" fill="none" stroke-linecap="butt"/>
<polygon points="126.8,1330.9 135.1,1345.3 118.5,1345.3" fill="#d2232a"/>
<polygon points="173.2,1316.7 181.5,1331.1 164.9,1331.1" fill="#d2232a"/>
<polygon points="219.5,1300.9 227.8,1315.3 211.2,1315.3" fill="#d2232a"/>
<polygon points="265.9,1281.6 274.2,1296 257.6,1296" fill="#d2232a"/>
<polygon points="312.3,1258.4 320.6,1272.8 304,1272.8" fill="#d2232a"/>
<polygon points="358.6,1229.4 366.9,1243.8 350.3,1243.8" fill="#d2232a"/>
<polygon points="405,1203.3 413.3,1217.7 396.7,1217.7" fill="#d2232a"/>
<polygon points="451.4,1194.5 459.7,1209 443.1,1209" fill="#d2232a"/>
<polygon points="497.8,1211 506.1,1225.4 489.5,1225.4" fill="#d2232a"/>
<polygon points="544.1,1245.8 552.4,1260.2 535.8,1260.2" fill="#d2232a"/>
<polygon points="590.5,1278.7 598.8,1293.1 582.2,1293.1" fill="#d2232a"/>
<polygon points="636.9,1300.9 645.2,1315.3 628.6,1315.3" fill="#d2232a"/>
<polygon points="683.3,1317.4 691.6,1331.8 675,1331.8" fill="#d2232a"/>
<polygon points="729.6,1324.1 737.9,1338.5 721.3,1338.5" fill="#d2232a"/>
<polygon points="776,1329 784.3,1343.4 767.7,1343.4" fill="#d2232a"/>
<polygon points="822.4,1332.8 830.7,1347.2 814.1,1347.2" fill="#d2232a"/>
<polygon points="868.7,1336.7 877,1351.1 860.4,1351.1" fill="#d2232a"/>
<polygon points="915.1,1337.7 923.4,1352.1 906.8,1352.1" fill="#d2232a"/>
<path d="M135.4 1347.3L164.6 1347.3M181.8 1347.3L210.9 1347.3M228.1 1347.3L257.3 1347.3M274.5 1347.3L303.7 1347.3M320.9 1347.3L350 1347.3M367.2 1347.2L396.4 1346.9M413.6 1346.5L442.8 1345.3M459.8 1343.3L489.3 1337.8M506.3 1335L535.6 1330.7M552.6 1327.7L582.1 1321.8M599.1 1319.4L628.3 1316.7M645.4 1314.6L674.7 1310.4M690.9 1305.1L722 1288.9M735.6 1278.7L770 1242.8M779.8 1228.9L818.5 1151.5M826.3 1136.1L864.8 1060.5M871.8 1060.9L912.1 1166.7" stroke="#f5821f" stroke-width="2.6" fill="none" stroke-linecap="butt"/>
<polygon points="126.8,1355.5 135.1,1341.1 118.5,1341.1" fill="#f5821f"/>
<polygon points="173.2,1355.5 181.5,1341.1 164.9,1341.1" fill="#f5821f"/>
<polygon points="219.5,1355.5 227.8,1341.1 211.2,1341.1" fill="#f5821f"/>
<polygon points="265.9,1355.5 274.2,1341.1 257.6,1341.1" fill="#f5821f"/>
<polygon points="312.3,1355.5 320.6,1341.1 304,1341.1" fill="#f5821f"/>
<polygon points="358.6,1355.5 366.9,1341.1 350.3,1341.1" fill="#f5821f"/>
<polygon points="405,1355 413.3,1340.6 396.7,1340.6" fill="#f5821f"/>
<polygon points="451.4,1353.1 459.7,1338.7 443.1,1338.7" fill="#f5821f"/>
<polygon points="497.8,1344.4 506.1,1330 489.5,1330" fill="#f5821f"/>
<polygon points="544.1,1337.6 552.4,1323.2 535.8,1323.2" fill="#f5821f"/>
<polygon points="590.5,1328.3 598.8,1313.9 582.2,1313.9" fill="#f5821f"/>
<polygon points="636.9,1324.1 645.2,1309.7 628.6,1309.7" fill="#f5821f"/>
<polygon points="683.3,1317.3 691.6,1302.9 675,1302.9" fill="#f5821f"/>
<polygon points="729.6,1293.1 737.9,1278.7 721.3,1278.7" fill="#f5821f"/>
<polygon points="776,1244.8 784.3,1230.4 767.7,1230.4" fill="#f5821f"/>
<polygon points="822.4,1152 830.7,1137.6 814.1,1137.6" fill="#f5821f"/>
<polygon points="868.7,1061.1 877,1046.7 860.4,1046.7" fill="#f5821f"/>
<polygon points="915.1,1182.9 923.4,1168.5 906.8,1168.5" fill="#f5821f"/>
<path d="M135.3 1343.2L164.7 1338.5M181.5 1334.9L211.2 1326.8M227.6 1321.7L257.8 1311M273.9 1305L304.3 1292.9M320.8 1288.9L350.1 1285.8M365.8 1280.2L397.9 1258.8M413.6 1254L442.8 1254M460 1254L489.2 1254M506.2 1252.2L535.7 1246.1M552.6 1243.1L582 1238.8M599.1 1238.3L628.3 1240.7M644.4 1245.6L675.7 1262.9M690.4 1271.9L722.5 1293.7M737.4 1302.2L768.2 1317M784.1 1323.6L814.3 1334.3M830.9 1338.2L860.2 1341.9M877.3 1343.7L906.5 1346.1" stroke="#148a3f" stroke-width="2.6" fill="none" stroke-linecap="butt"/>
<polygon points="126.8,1335.6 134,1344.6 126.8,1353.6 119.6,1344.6" fill="#148a3f"/>
<polygon points="173.2,1328.2 180.4,1337.2 173.2,1346.2 166,1337.2" fill="#148a3f"/>
<polygon points="219.5,1315.6 226.7,1324.6 219.5,1333.6 212.3,1324.6" fill="#148a3f"/>
<polygon points="265.9,1299.2 273.1,1308.2 265.9,1317.2 258.7,1308.2" fill="#148a3f"/>
<polygon points="312.3,1280.8 319.5,1289.8 312.3,1298.8 305.1,1289.8" fill="#148a3f"/>
<polygon points="358.6,1275.9 365.8,1284.9 358.6,1293.9 351.4,1284.9" fill="#148a3f"/>
<polygon points="405,1245 412.2,1254 405,1263 397.8,1254" fill="#148a3f"/>
<polygon points="451.4,1245 458.6,1254 451.4,1263 444.2,1254" fill="#148a3f"/>
<polygon points="497.8,1245 505,1254 497.8,1263 490.6,1254" fill="#148a3f"/>
<polygon points="544.1,1235.3 551.3,1244.3 544.1,1253.3 536.9,1244.3" fill="#148a3f"/>
<polygon points="590.5,1228.6 597.7,1237.6 590.5,1246.6 583.3,1237.6" fill="#148a3f"/>
<polygon points="636.9,1232.4 644.1,1241.4 636.9,1250.4 629.7,1241.4" fill="#148a3f"/>
<polygon points="683.3,1258.1 690.5,1267.1 683.3,1276.1 676.1,1267.1" fill="#148a3f"/>
<polygon points="729.6,1289.5 736.8,1298.5 729.6,1307.5 722.4,1298.5" fill="#148a3f"/>
<polygon points="776,1311.7 783.2,1320.7 776,1329.7 768.8,1320.7" fill="#148a3f"/>
<polygon points="822.4,1328.2 829.6,1337.2 822.4,1346.2 815.2,1337.2" fill="#148a3f"/>
<polygon points="868.7,1334 875.9,1343 868.7,1352 861.5,1343" fill="#148a3f"/>
<polygon points="915.1,1337.8 922.3,1346.8 915.1,1355.8 907.9,1346.8" fill="#148a3f"/>
<path d="M135.3 1345.5L164.6 1342.8M181.7 1340.7L211 1336.1M227.7 1331.9L257.8 1321.6M272.3 1313L305.9 1283M316.8 1269.9L354.1 1209.1M362.2 1194L401.4 1109M413.6 1100.5L442.8 1098.1M454.8 1105.2L494.4 1196.8M501.6 1212.4L540.3 1291.1M550.7 1304.3L584 1332.6M599 1339.5L628.4 1344.5M645.5 1346.1L674.7 1347M691.9 1347.3L721 1347.3M738.2 1347.3L767.4 1347.3M784.6 1347.3L813.8 1347.3M831 1347.3L860.1 1347.3M877.3 1347.3L906.5 1347.3" stroke="#1b87c9" stroke-width="2.6" fill="none" stroke-linecap="butt"/>
<polygon points="120.3,1346.3 133.1,1337.7 133.1,1354.9" fill="#1b87c9"/>
<polygon points="166.7,1342 179.5,1333.4 179.5,1350.6" fill="#1b87c9"/>
<polygon points="213,1334.7 225.8,1326.1 225.8,1343.3" fill="#1b87c9"/>
<polygon points="259.4,1318.8 272.2,1310.2 272.2,1327.4" fill="#1b87c9"/>
<polygon points="305.8,1277.2 318.6,1268.6 318.6,1285.8" fill="#1b87c9"/>
<polygon points="352.1,1201.8 364.9,1193.2 364.9,1210.4" fill="#1b87c9"/>
<polygon points="398.5,1101.2 411.3,1092.6 411.3,1109.8" fill="#1b87c9"/>
<polygon points="444.9,1097.3 457.7,1088.7 457.7,1105.9" fill="#1b87c9"/>
<polygon points="491.3,1204.7 504.1,1196.1 504.1,1213.3" fill="#1b87c9"/>
<polygon points="537.6,1298.8 550.4,1290.2 550.4,1307.4" fill="#1b87c9"/>
<polygon points="584,1338.1 596.8,1329.5 596.8,1346.7" fill="#1b87c9"/>
<polygon points="630.4,1345.9 643.2,1337.3 643.2,1354.5" fill="#1b87c9"/>
<polygon points="676.8,1347.3 689.6,1338.7 689.6,1355.9" fill="#1b87c9"/>
<polygon points="723.1,1347.3 735.9,1338.7 735.9,1355.9" fill="#1b87c9"/>
<polygon points="769.5,1347.3 782.3,1338.7 782.3,1355.9" fill="#1b87c9"/>
<polygon points="815.9,1347.3 828.7,1338.7 828.7,1355.9" fill="#1b87c9"/>
<polygon points="862.2,1347.3 875,1338.7 875,1355.9" fill="#1b87c9"/>
<polygon points="908.6,1347.3 921.4,1338.7 921.4,1355.9" fill="#1b87c9"/>
<path d="M134 1327.3L166 1306.1M180.5 1296.9L212.2 1277.4M226.8 1268.4L258.6 1248.8M274.4 1242.7L303.8 1237.2M320.8 1236.9L350.1 1241.2M367.2 1242L396.4 1240.8M413.6 1239.9L442.8 1238.1M459.6 1240L489.5 1248.7M505.3 1255.3L536.6 1273M551.7 1281.3L582.9 1298.3M598.8 1304.8L628.6 1313.5M645.1 1318.3L675 1327M691.8 1330.7L721.1 1335M738.2 1336.7L767.4 1338.6M784.6 1339.6L813.8 1341.5M831 1342.5L860.2 1344.4M877.3 1345.3L906.5 1346.5" stroke="#2b3190" stroke-width="2.6" fill="none" stroke-linecap="butt"/>
<polygon points="133.3,1332 120.5,1323.4 120.5,1340.6" fill="#2b3190"/>
<polygon points="179.7,1301.4 166.9,1292.8 166.9,1310" fill="#2b3190"/>
<polygon points="226,1273 213.2,1264.4 213.2,1281.6" fill="#2b3190"/>
<polygon points="272.4,1244.3 259.6,1235.7 259.6,1252.9" fill="#2b3190"/>
<polygon points="318.8,1235.6 306,1227 306,1244.2" fill="#2b3190"/>
<polygon points="365.1,1242.4 352.3,1233.8 352.3,1251" fill="#2b3190"/>
<polygon points="411.5,1240.5 398.7,1231.9 398.7,1249.1" fill="#2b3190"/>
<polygon points="457.9,1237.6 445.1,1229 445.1,1246.2" fill="#2b3190"/>
<polygon points="504.3,1251.1 491.5,1242.5 491.5,1259.7" fill="#2b3190"/>
<polygon points="550.6,1277.2 537.8,1268.6 537.8,1285.8" fill="#2b3190"/>
<polygon points="597,1302.4 584.2,1293.8 584.2,1311" fill="#2b3190"/>
<polygon points="643.4,1315.9 630.6,1307.3 630.6,1324.5" fill="#2b3190"/>
<polygon points="689.8,1329.4 677,1320.8 677,1338" fill="#2b3190"/>
<polygon points="736.1,1336.2 723.3,1327.6 723.3,1344.8" fill="#2b3190"/>
<polygon points="782.5,1339.1 769.7,1330.5 769.7,1347.7" fill="#2b3190"/>
<polygon points="828.9,1342 816.1,1333.4 816.1,1350.6" fill="#2b3190"/>
<polygon points="875.2,1344.9 862.4,1336.3 862.4,1353.5" fill="#2b3190"/>
<polygon points="921.6,1346.8 908.8,1338.2 908.8,1355.4" fill="#2b3190"/>
<path d="M135.4 1347.8L164.6 1347.8M181.8 1347.8L210.9 1347.8M228.1 1347.8L257.3 1347.8M274.5 1347.8L303.7 1347.8M320.9 1347.8L350 1347.8M367.2 1347.8L396.4 1347.8M413.6 1347.6L442.8 1347M459.9 1345.9L489.2 1342.9M506.3 1340.7L535.6 1336.1M552.7 1334.1L581.9 1332M599.1 1330.5L628.3 1327.4M645.2 1324.4L674.9 1317M690.5 1310.4L722.3 1290.5M734.6 1278.9L771 1227.2M779.4 1212.2L819 1118.8M827.4 1103.9L863.7 1053.1M871.3 1054.3L912.5 1185.8" stroke="#a142a1" stroke-width="2.6" fill="none" stroke-linecap="butt"/>
<polygon points="126.8,1339.9 133.9,1343.8 133.9,1351.8 126.8,1355.7 119.7,1351.8 119.7,1343.8" fill="#a142a1"/>
<polygon points="173.2,1339.9 180.3,1343.8 180.3,1351.8 173.2,1355.7 166.1,1351.8 166.1,1343.8" fill="#a142a1"/>
<polygon points="219.5,1339.9 226.6,1343.8 226.6,1351.8 219.5,1355.7 212.4,1351.8 212.4,1343.8" fill="#a142a1"/>
<polygon points="265.9,1339.9 273,1343.8 273,1351.8 265.9,1355.7 258.8,1351.8 258.8,1343.8" fill="#a142a1"/>
<polygon points="312.3,1339.9 319.4,1343.8 319.4,1351.8 312.3,1355.7 305.2,1351.8 305.2,1343.8" fill="#a142a1"/>
<polygon points="358.6,1339.9 365.7,1343.8 365.7,1351.8 358.6,1355.7 351.5,1351.8 351.5,1343.8" fill="#a142a1"/>
<polygon points="405,1339.9 412.1,1343.8 412.1,1351.8 405,1355.7 397.9,1351.8 397.9,1343.8" fill="#a142a1"/>
<polygon points="451.4,1338.9 458.5,1342.9 458.5,1350.8 451.4,1354.7 444.3,1350.8 444.3,1342.9" fill="#a142a1"/>
<polygon points="497.8,1334.1 504.9,1338 504.9,1345.9 497.8,1349.9 490.7,1345.9 490.7,1338" fill="#a142a1"/>
<polygon points="544.1,1326.8 551.2,1330.8 551.2,1338.7 544.1,1342.6 537,1338.7 537,1330.8" fill="#a142a1"/>
<polygon points="590.5,1323.5 597.6,1327.4 597.6,1335.3 590.5,1339.3 583.4,1335.3 583.4,1327.4" fill="#a142a1"/>
<polygon points="636.9,1318.6 644,1322.6 644,1330.5 636.9,1334.4 629.8,1330.5 629.8,1322.6" fill="#a142a1"/>
<polygon points="683.3,1307 690.4,1311 690.4,1318.9 683.3,1322.8 676.2,1318.9 676.2,1311" fill="#a142a1"/>
<polygon points="729.6,1278 736.7,1282 736.7,1289.9 729.6,1293.8 722.5,1289.9 722.5,1282" fill="#a142a1"/>
<polygon points="776,1212.3 783.1,1216.2 783.1,1224.1 776,1228.1 768.9,1224.1 768.9,1216.2" fill="#a142a1"/>
<polygon points="822.4,1103 829.5,1106.9 829.5,1114.8 822.4,1118.8 815.3,1114.8 815.3,1106.9" fill="#a142a1"/>
<polygon points="868.7,1038.2 875.8,1042.1 875.8,1050 868.7,1054 861.6,1050 861.6,1042.1" fill="#a142a1"/>
<polygon points="915.1,1186.1 922.2,1190.1 922.2,1198 915.1,1201.9 908,1198 908,1190.1" fill="#a142a1"/>
<path d="M135.4 1313L164.6 1312.3M181.1 1308.7L211.6 1295.7M226.8 1287.8L258.6 1268.2M271.4 1257.1L306.8 1214.5M320.9 1208.2L350.1 1209.2M366.3 1205.5L397.4 1189.3M410.4 1192.1L446 1236.6M458.1 1248.8L491.1 1275.7M506.3 1281.6L535.6 1283.4M552.6 1285.4L582 1290.3M597.6 1296.6L629.8 1318.7M644.7 1327.2L675.4 1341.3M691.8 1345.3L721 1346.5M738.2 1346.8L767.4 1346.8M784.6 1346.8L813.8 1346.8M831 1346.8L860.1 1346.8M877.3 1346.8L906.5 1346.8" stroke="#7b2585" stroke-width="2.6" fill="none" stroke-linecap="butt"/>
<polygon points="126.8,1305.7 128.8,1311.2 134.8,1311.5 130.1,1315.2 131.7,1320.9 126.8,1317.6 121.8,1320.9 123.5,1315.2 118.8,1311.5 124.7,1311.2" fill="#7b2585"/>
<polygon points="173.2,1304.4 175.2,1310 181.1,1310.2 176.5,1313.9 178.1,1319.6 173.2,1316.3 168.2,1319.6 169.8,1313.9 165.2,1310.2 171.1,1310" fill="#7b2585"/>
<polygon points="219.5,1284.7 221.6,1290.3 227.5,1290.5 222.9,1294.2 224.5,1299.9 219.5,1296.6 214.6,1299.9 216.2,1294.2 211.5,1290.5 217.5,1290.3" fill="#7b2585"/>
<polygon points="265.9,1256.1 268,1261.6 273.9,1261.9 269.2,1265.6 270.8,1271.3 265.9,1268 261,1271.3 262.6,1265.6 257.9,1261.9 263.8,1261.6" fill="#7b2585"/>
<polygon points="312.3,1200.3 314.3,1205.8 320.3,1206.1 315.6,1209.8 317.2,1215.5 312.3,1212.2 307.3,1215.5 308.9,1209.8 304.3,1206.1 310.2,1205.8" fill="#7b2585"/>
<polygon points="358.6,1201.9 360.7,1207.5 366.6,1207.7 362,1211.4 363.6,1217.1 358.6,1213.8 353.7,1217.1 355.3,1211.4 350.7,1207.7 356.6,1207.5" fill="#7b2585"/>
<polygon points="405,1177.7 407.1,1183.3 413,1183.5 408.3,1187.2 410,1192.9 405,1189.6 400.1,1192.9 401.7,1187.2 397,1183.5 403,1183.3" fill="#7b2585"/>
<polygon points="451.4,1235.8 453.4,1241.3 459.4,1241.6 454.7,1245.2 456.3,1251 451.4,1247.7 446.5,1251 448.1,1245.2 443.4,1241.6 449.3,1241.3" fill="#7b2585"/>
<polygon points="497.8,1273.5 499.8,1279 505.8,1279.3 501.1,1283 502.7,1288.7 497.8,1285.4 492.8,1288.7 494.4,1283 489.8,1279.3 495.7,1279" fill="#7b2585"/>
<polygon points="544.1,1276.4 546.2,1281.9 552.1,1282.2 547.5,1285.9 549.1,1291.6 544.1,1288.3 539.2,1291.6 540.8,1285.9 536.1,1282.2 542.1,1281.9" fill="#7b2585"/>
<polygon points="590.5,1284.1 592.6,1289.7 598.5,1289.9 593.8,1293.6 595.4,1299.3 590.5,1296 585.6,1299.3 587.2,1293.6 582.5,1289.9 588.5,1289.7" fill="#7b2585"/>
<polygon points="636.9,1316 638.9,1321.6 644.9,1321.8 640.2,1325.5 641.8,1331.2 636.9,1327.9 631.9,1331.2 633.6,1325.5 628.9,1321.8 634.8,1321.6" fill="#7b2585"/>
<polygon points="683.3,1337.3 685.3,1342.9 691.2,1343.1 686.6,1346.8 688.2,1352.5 683.3,1349.2 678.3,1352.5 679.9,1346.8 675.3,1343.1 681.2,1342.9" fill="#7b2585"/>
<polygon points="729.6,1339.2 731.7,1344.8 737.6,1345 733,1348.7 734.6,1354.4 729.6,1351.1 724.7,1354.4 726.3,1348.7 721.6,1345 727.6,1344.8" fill="#7b2585"/>
<polygon points="776,1339.2 778.1,1344.8 784,1345 779.3,1348.7 780.9,1354.4 776,1351.1 771.1,1354.4 772.7,1348.7 768,1345 773.9,1344.8" fill="#7b2585"/>
<polygon points="822.4,1339.2 824.4,1344.8 830.4,1345 825.7,1348.7 827.3,1354.4 822.4,1351.1 817.4,1354.4 819,1348.7 814.4,1345 820.3,1344.8" fill="#7b2585"/>
<polygon points="868.7,1339.2 870.8,1344.8 876.7,1345 872.1,1348.7 873.7,1354.4 868.7,1351.1 863.8,1354.4 865.4,1348.7 860.8,1345 866.7,1344.8" fill="#7b2585"/>
<polygon points="915.1,1339.2 917.2,1344.8 923.1,1345 918.4,1348.7 920.1,1354.4 915.1,1351.1 910.2,1354.4 911.8,1348.7 907.1,1345 913.1,1344.8" fill="#7b2585"/>
<path d="M102.4 795.9H938.3V903.5" stroke="#000" stroke-width="2.5" fill="none"/>
<path d="M103.6 795.9V903.5" stroke="#000" stroke-width="2.5" fill="none"/>
<path d="M103.6 912.3V1357.3H938.3V912.3" stroke="#000" stroke-width="2.5" fill="none"/>
<line x1="92.8" y1="908" x2="114.4" y2="898.6" stroke="#000" stroke-width="2.2" stroke-linecap="round"/>
<line x1="92.8" y1="917.3" x2="114.4" y2="907.9" stroke="#000" stroke-width="2.2" stroke-linecap="round"/>
<line x1="927.5" y1="908" x2="949.1" y2="898.6" stroke="#000" stroke-width="2.2" stroke-linecap="round"/>
<line x1="927.5" y1="917.3" x2="949.1" y2="907.9" stroke="#000" stroke-width="2.2" stroke-linecap="round"/>
<line x1="92.6" y1="1347.8" x2="103.6" y2="1347.8" stroke="#000" stroke-width="2.4"/>
<text x="80.8" y="1358" class="tk" text-anchor="end">0</text>
<line x1="97.6" y1="1299.5" x2="103.6" y2="1299.5" stroke="#000" stroke-width="2.4"/>
<line x1="92.6" y1="1251.1" x2="103.6" y2="1251.1" stroke="#000" stroke-width="2.4"/>
<text x="80.8" y="1261.3" class="tk" text-anchor="end">10</text>
<line x1="97.6" y1="1202.8" x2="103.6" y2="1202.8" stroke="#000" stroke-width="2.4"/>
<line x1="92.6" y1="1154.4" x2="103.6" y2="1154.4" stroke="#000" stroke-width="2.4"/>
<text x="80.8" y="1164.6" class="tk" text-anchor="end">20</text>
<line x1="97.6" y1="1106" x2="103.6" y2="1106" stroke="#000" stroke-width="2.4"/>
<line x1="92.6" y1="1057.7" x2="103.6" y2="1057.7" stroke="#000" stroke-width="2.4"/>
<text x="80.8" y="1067.9" class="tk" text-anchor="end">30</text>
<line x1="97.6" y1="1009.3" x2="103.6" y2="1009.3" stroke="#000" stroke-width="2.4"/>
<line x1="92.6" y1="961" x2="103.6" y2="961" stroke="#000" stroke-width="2.4"/>
<text x="80.8" y="971.2" class="tk" text-anchor="end">40</text>
<line x1="92.6" y1="902.9" x2="103.6" y2="902.9" stroke="#000" stroke-width="2.4"/>
<text x="80.8" y="913.1" class="tk" text-anchor="end">60</text>
<line x1="97.6" y1="867.1" x2="103.6" y2="867.1" stroke="#000" stroke-width="2.4"/>
<line x1="92.6" y1="831.4" x2="103.6" y2="831.4" stroke="#000" stroke-width="2.4"/>
<text x="80.8" y="841.6" class="tk" text-anchor="end">70</text>
<line x1="103.6" y1="1357.3" x2="103.6" y2="1367.8" stroke="#000" stroke-width="2.4"/>
<text x="103.6" y="1400.7" class="tk" text-anchor="middle">0</text>
<line x1="150" y1="1357.3" x2="150" y2="1362.8" stroke="#000" stroke-width="2.4"/>
<line x1="196.3" y1="1357.3" x2="196.3" y2="1367.8" stroke="#000" stroke-width="2.4"/>
<text x="196.3" y="1400.7" class="tk" text-anchor="middle">20</text>
<line x1="242.7" y1="1357.3" x2="242.7" y2="1362.8" stroke="#000" stroke-width="2.4"/>
<line x1="289.1" y1="1357.3" x2="289.1" y2="1367.8" stroke="#000" stroke-width="2.4"/>
<text x="289.1" y="1400.7" class="tk" text-anchor="middle">40</text>
<line x1="335.5" y1="1357.3" x2="335.5" y2="1362.8" stroke="#000" stroke-width="2.4"/>
<line x1="381.8" y1="1357.3" x2="381.8" y2="1367.8" stroke="#000" stroke-width="2.4"/>
<text x="381.8" y="1400.7" class="tk" text-anchor="middle">60</text>
<line x1="428.2" y1="1357.3" x2="428.2" y2="1362.8" stroke="#000" stroke-width="2.4"/>
<line x1="474.6" y1="1357.3" x2="474.6" y2="1367.8" stroke="#000" stroke-width="2.4"/>
<text x="474.6" y="1400.7" class="tk" text-anchor="middle">80</text>
<line x1="521" y1="1357.3" x2="521" y2="1362.8" stroke="#000" stroke-width="2.4"/>
<line x1="567.3" y1="1357.3" x2="567.3" y2="1367.8" stroke="#000" stroke-width="2.4"/>
<text x="567.3" y="1400.7" class="tk" text-anchor="middle">100</text>
<line x1="613.7" y1="1357.3" x2="613.7" y2="1362.8" stroke="#000" stroke-width="2.4"/>
<line x1="660.1" y1="1357.3" x2="660.1" y2="1367.8" stroke="#000" stroke-width="2.4"/>
<text x="660.1" y="1400.7" class="tk" text-anchor="middle">120</text>
<line x1="706.4" y1="1357.3" x2="706.4" y2="1362.8" stroke="#000" stroke-width="2.4"/>
<line x1="752.8" y1="1357.3" x2="752.8" y2="1367.8" stroke="#000" stroke-width="2.4"/>
<text x="752.8" y="1400.7" class="tk" text-anchor="middle">140</text>
<line x1="799.2" y1="1357.3" x2="799.2" y2="1362.8" stroke="#000" stroke-width="2.4"/>
<line x1="845.6" y1="1357.3" x2="845.6" y2="1367.8" stroke="#000" stroke-width="2.4"/>
<text x="845.6" y="1400.7" class="tk" text-anchor="middle">160</text>
<line x1="891.9" y1="1357.3" x2="891.9" y2="1362.8" stroke="#000" stroke-width="2.4"/>
<line x1="938.3" y1="1357.3" x2="938.3" y2="1367.8" stroke="#000" stroke-width="2.4"/>
<text x="938.3" y="1400.7" class="tk" text-anchor="middle">180</text>
<path d="M122.8 822.2H149.3M164.3 822.2H191.2" stroke="#3d3d3d" stroke-width="2.7" stroke-linecap="round"/>
<rect x="150.7" y="816.1" width="12.2" height="12.2" fill="#3d3d3d"/>
<text x="202.9" y="832.6" class="lg">Bare</text>
<path d="M122.8 859.4H149.3M164.3 859.4H191.2" stroke="#ebbd20" stroke-width="2.7" stroke-linecap="round"/>
<circle cx="156.8" cy="859.4" r="7.1" fill="#ebbd20"/>
<text x="202.9" y="869.8" class="lg">3CH<tspan class="sub" dy="6.7">3</tspan></text>
<path d="M122.8 902.7H149.3M164.3 902.7H191.2" stroke="#d2232a" stroke-width="2.7" stroke-linecap="round"/>
<polygon points="156.8,894.5 165.1,908.9 148.5,908.9" fill="#d2232a"/>
<text x="202.9" y="913.1" class="lg">3OH</text>
<path d="M122.8 939.5H149.3M164.3 939.5H191.2" stroke="#f5821f" stroke-width="2.7" stroke-linecap="round"/>
<polygon points="156.8,947.7 165.1,933.3 148.5,933.3" fill="#f5821f"/>
<text x="202.9" y="949.9" class="lg">3COOH</text>
<path d="M122.8 976H149.3M164.3 976H191.2" stroke="#148a3f" stroke-width="2.7" stroke-linecap="round"/>
<polygon points="156.8,967 164,976 156.8,985 149.6,976" fill="#148a3f"/>
<text x="202.9" y="986.4" class="lg">3NH<tspan class="sub" dy="6.7">2</tspan></text>
<path d="M122.8 1019.2H149.3M164.3 1019.2H191.2" stroke="#1b87c9" stroke-width="2.7" stroke-linecap="round"/>
<polygon points="150.3,1019.2 163.1,1010.6 163.1,1027.8" fill="#1b87c9"/>
<text x="202.9" y="1029.6" class="lg">11CH<tspan class="sub" dy="6.7">3</tspan></text>
<path d="M122.8 1063H149.3M164.3 1063H191.2" stroke="#2b3190" stroke-width="2.7" stroke-linecap="round"/>
<polygon points="163.3,1063 150.5,1054.4 150.5,1071.6" fill="#2b3190"/>
<text x="202.9" y="1073.4" class="lg">11OH</text>
<path d="M122.8 1100H149.3M164.3 1100H191.2" stroke="#a142a1" stroke-width="2.7" stroke-linecap="round"/>
<polygon points="156.8,1092.1 163.9,1096 163.9,1104 156.8,1107.9 149.7,1104 149.7,1096" fill="#a142a1"/>
<text x="202.9" y="1110.4" class="lg">11COOH</text>
<path d="M122.8 1136.5H149.3M164.3 1136.5H191.2" stroke="#7b2585" stroke-width="2.7" stroke-linecap="round"/>
<polygon points="156.8,1128.9 158.9,1134.5 164.8,1134.7 160.1,1138.4 161.7,1144.1 156.8,1140.8 151.9,1144.1 153.5,1138.4 148.8,1134.7 154.7,1134.5" fill="#7b2585"/>
<text x="202.9" y="1146.9" class="lg">11NH<tspan class="sub" dy="6.7">2</tspan></text>
<path d="M1129.5 1344.6L1158.6 1344.6M1175.8 1344.5L1205 1344.1M1222.2 1343.9L1251.3 1343.5M1268.5 1342.8L1297.7 1340.8M1314.9 1339.5L1344.1 1337.3M1354.9 1328.3L1396.8 1172.1M1400.2 1155.3L1434.6 913.8M1436 904.2L1444.2 846.6M1446.2 846.7L1452.1 904.2M1453.1 913.8L1490.8 1283.2M1497.7 1297.9L1532.1 1333.8M1546.7 1340.5L1575.8 1342.1M1593 1342.7L1622.2 1343.2M1639.4 1343.5L1668.5 1343.9M1685.7 1344.1L1714.9 1344.5M1732.1 1344.6L1761.3 1344.6M1778.5 1344.6L1807.6 1344.6M1824.8 1344.6L1854 1344.6M1871.2 1344.6L1900.3 1344.6" stroke="#3d3d3d" stroke-width="2.6" fill="none" stroke-linecap="butt"/>
<rect x="1114.8" y="1338.5" width="12.2" height="12.2" fill="#3d3d3d"/>
<rect x="1161.1" y="1338.5" width="12.2" height="12.2" fill="#3d3d3d"/>
<rect x="1207.5" y="1337.9" width="12.2" height="12.2" fill="#3d3d3d"/>
<rect x="1253.8" y="1337.3" width="12.2" height="12.2" fill="#3d3d3d"/>
<rect x="1300.2" y="1334.1" width="12.2" height="12.2" fill="#3d3d3d"/>
<rect x="1346.6" y="1330.5" width="12.2" height="12.2" fill="#3d3d3d"/>
<rect x="1392.9" y="1157.7" width="12.2" height="12.2" fill="#3d3d3d"/>
<rect x="1439.3" y="832" width="12.2" height="12.2" fill="#3d3d3d"/>
<rect x="1485.6" y="1285.6" width="12.2" height="12.2" fill="#3d3d3d"/>
<rect x="1532" y="1333.9" width="12.2" height="12.2" fill="#3d3d3d"/>
<rect x="1578.3" y="1336.4" width="12.2" height="12.2" fill="#3d3d3d"/>
<rect x="1624.7" y="1337.3" width="12.2" height="12.2" fill="#3d3d3d"/>
<rect x="1671" y="1337.9" width="12.2" height="12.2" fill="#3d3d3d"/>
<rect x="1717.4" y="1338.5" width="12.2" height="12.2" fill="#3d3d3d"/>
<rect x="1763.8" y="1338.5" width="12.2" height="12.2" fill="#3d3d3d"/>
<rect x="1810.1" y="1338.5" width="12.2" height="12.2" fill="#3d3d3d"/>
<rect x="1856.5" y="1338.5" width="12.2" height="12.2" fill="#3d3d3d"/>
<rect x="1902.8" y="1338.5" width="12.2" height="12.2" fill="#3d3d3d"/>
<path d="M1129.3 1331.3L1158.8 1325.7M1175.8 1324.7L1205 1327M1222.2 1327.5L1251.3 1326.9M1268.3 1324.7L1298 1317.2M1312.9 1309.6L1346 1282.4M1356.2 1269.1L1395.5 1181.5M1401.4 1165.4L1443 1019.5M1453.7 1009.2L1483.4 1001.7M1493.8 1007.9L1536 1173.9M1541.2 1190.2L1581.3 1291.1M1591.3 1304.2L1623.9 1328.4M1639.3 1334.9L1668.7 1339.6M1685.7 1341.4L1714.9 1342.9M1732.1 1343.5L1761.3 1343.9M1778.5 1344.1L1807.6 1344.5M1824.8 1344.6L1854 1344.6M1871.2 1344.6L1900.3 1344.6" stroke="#ebbd20" stroke-width="2.6" fill="none" stroke-linecap="butt"/>
<circle cx="1120.9" cy="1332.9" r="7.1" fill="#ebbd20"/>
<circle cx="1167.2" cy="1324.1" r="7.1" fill="#ebbd20"/>
<circle cx="1213.6" cy="1327.6" r="7.1" fill="#ebbd20"/>
<circle cx="1259.9" cy="1326.8" r="7.1" fill="#ebbd20"/>
<circle cx="1306.3" cy="1315.1" r="7.1" fill="#ebbd20"/>
<circle cx="1352.7" cy="1276.9" r="7.1" fill="#ebbd20"/>
<circle cx="1399" cy="1173.6" r="7.1" fill="#ebbd20"/>
<circle cx="1445.4" cy="1011.3" r="7.1" fill="#ebbd20"/>
<circle cx="1491.7" cy="999.6" r="7.1" fill="#ebbd20"/>
<circle cx="1538.1" cy="1182.2" r="7.1" fill="#ebbd20"/>
<circle cx="1584.4" cy="1299.1" r="7.1" fill="#ebbd20"/>
<circle cx="1630.8" cy="1333.5" r="7.1" fill="#ebbd20"/>
<circle cx="1677.1" cy="1340.9" r="7.1" fill="#ebbd20"/>
<circle cx="1723.5" cy="1343.4" r="7.1" fill="#ebbd20"/>
<circle cx="1769.9" cy="1344" r="7.1" fill="#ebbd20"/>
<circle cx="1816.2" cy="1344.6" r="7.1" fill="#ebbd20"/>
<circle cx="1862.6" cy="1344.6" r="7.1" fill="#ebbd20"/>
<circle cx="1908.9" cy="1344.6" r="7.1" fill="#ebbd20"/>
<path d="M1129.3 1335.3L1158.8 1328.6M1175.6 1324.9L1205.2 1318.6M1221.7 1314L1251.8 1303.5M1267.3 1296.2L1299 1276.6M1312.9 1266.5L1346.1 1238.2M1359 1226.8L1392.7 1195.5M1405.7 1184.2L1438.7 1157M1454 1151.5L1483.1 1151.5M1498.5 1156.7L1531.3 1181.9M1543.9 1193.5L1578.6 1231.3M1590.9 1243.3L1624.3 1272.5M1638.5 1282L1669.4 1297.1M1685.3 1303.6L1715.3 1313.3M1731.8 1318L1761.5 1325.5M1778.3 1329.2L1807.7 1334.5M1824.8 1336.7L1854 1339M1871.1 1340.4L1900.3 1342.7" stroke="#d2232a" stroke-width="2.6" fill="none" stroke-linecap="butt"/>
<polygon points="1120.9,1329 1129.2,1343.4 1112.6,1343.4" fill="#d2232a"/>
<polygon points="1167.2,1318.4 1175.5,1332.8 1158.9,1332.8" fill="#d2232a"/>
<polygon points="1213.6,1308.6 1221.9,1323 1205.3,1323" fill="#d2232a"/>
<polygon points="1259.9,1292.5 1268.2,1306.9 1251.6,1306.9" fill="#d2232a"/>
<polygon points="1306.3,1263.8 1314.6,1278.2 1298,1278.2" fill="#d2232a"/>
<polygon points="1352.7,1224.5 1361,1238.9 1344.4,1238.9" fill="#d2232a"/>
<polygon points="1399,1181.4 1407.3,1195.8 1390.7,1195.8" fill="#d2232a"/>
<polygon points="1445.4,1143.3 1453.7,1157.7 1437.1,1157.7" fill="#d2232a"/>
<polygon points="1491.7,1143.3 1500,1157.7 1483.4,1157.7" fill="#d2232a"/>
<polygon points="1538.1,1179 1546.4,1193.4 1529.8,1193.4" fill="#d2232a"/>
<polygon points="1584.4,1229.4 1592.7,1243.8 1576.1,1243.8" fill="#d2232a"/>
<polygon points="1630.8,1270 1639.1,1284.4 1622.5,1284.4" fill="#d2232a"/>
<polygon points="1677.1,1292.7 1685.4,1307.1 1668.8,1307.1" fill="#d2232a"/>
<polygon points="1723.5,1307.7 1731.8,1322.1 1715.2,1322.1" fill="#d2232a"/>
<polygon points="1769.9,1319.4 1778.2,1333.8 1761.6,1333.8" fill="#d2232a"/>
<polygon points="1816.2,1327.8 1824.5,1342.2 1807.9,1342.2" fill="#d2232a"/>
<polygon points="1862.6,1331.5 1870.9,1345.9 1854.3,1345.9" fill="#d2232a"/>
<polygon points="1908.9,1335.2 1917.2,1349.6 1900.6,1349.6" fill="#d2232a"/>
<path d="M1129.5 1340.9L1158.6 1340.9M1175.8 1340.1L1205 1337.4M1222.2 1336.3L1251.4 1335.1M1268.5 1333.8L1297.8 1330.3M1312.1 1323L1346.9 1284.6M1361.2 1279L1390.4 1281.6M1405 1276.1L1439.4 1240.1M1451 1227.4L1486.1 1186.3M1500.3 1178.9L1529.5 1175.8M1546.5 1176.6L1576 1182.9M1592.7 1187.1L1622.5 1195.8M1639.4 1197.7L1668.6 1195.7M1683.1 1201.4L1717.6 1237.5M1729.3 1250.1L1764 1287.8M1776.5 1299.6L1809.5 1326.5M1824.7 1333.1L1854.1 1337.3M1871.1 1339.4L1900.4 1342.5" stroke="#f5821f" stroke-width="2.6" fill="none" stroke-linecap="butt"/>
<polygon points="1120.9,1349.1 1129.2,1334.7 1112.6,1334.7" fill="#f5821f"/>
<polygon points="1167.2,1349.1 1175.5,1334.7 1158.9,1334.7" fill="#f5821f"/>
<polygon points="1213.6,1344.8 1221.9,1330.4 1205.3,1330.4" fill="#f5821f"/>
<polygon points="1259.9,1343 1268.2,1328.6 1251.6,1328.6" fill="#f5821f"/>
<polygon points="1306.3,1337.5 1314.6,1323.1 1298,1323.1" fill="#f5821f"/>
<polygon points="1352.7,1286.4 1361,1272 1344.4,1272" fill="#f5821f"/>
<polygon points="1399,1290.6 1407.3,1276.2 1390.7,1276.2" fill="#f5821f"/>
<polygon points="1445.4,1242.1 1453.7,1227.7 1437.1,1227.7" fill="#f5821f"/>
<polygon points="1491.7,1188 1500,1173.6 1483.4,1173.6" fill="#f5821f"/>
<polygon points="1538.1,1183.1 1546.4,1168.7 1529.8,1168.7" fill="#f5821f"/>
<polygon points="1584.4,1192.9 1592.7,1178.5 1576.1,1178.5" fill="#f5821f"/>
<polygon points="1630.8,1206.4 1639.1,1192 1622.5,1192" fill="#f5821f"/>
<polygon points="1677.1,1203.4 1685.4,1189 1668.8,1189" fill="#f5821f"/>
<polygon points="1723.5,1251.9 1731.8,1237.5 1715.2,1237.5" fill="#f5821f"/>
<polygon points="1769.9,1302.4 1778.2,1288 1761.6,1288" fill="#f5821f"/>
<polygon points="1816.2,1340.1 1824.5,1325.7 1807.9,1325.7" fill="#f5821f"/>
<polygon points="1862.6,1346.6 1870.9,1332.2 1854.3,1332.2" fill="#f5821f"/>
<polygon points="1908.9,1351.6 1917.2,1337.2 1900.6,1337.2" fill="#f5821f"/>
<path d="M1129.5 1344.6L1158.6 1344.6M1175.8 1344.6L1205 1344.6M1222.2 1344.6L1251.3 1344.6M1268.5 1344.3L1297.7 1343.1M1314.9 1342.4L1344.1 1341.3M1361.3 1340.9L1390.4 1340.9M1407.4 1339.1L1437 1332.9M1453.9 1330.4L1483.1 1328.1M1499.6 1324L1530.2 1311.1M1543.5 1301L1579 1257.8M1587.9 1243.2L1627.4 1152M1635.9 1137.2L1672 1088.3M1684.9 1085.1L1715.7 1099.8M1729 1110.2L1764.4 1153.4M1774.3 1167.4L1811.7 1228.4M1821.7 1242.4L1857.1 1285.8M1869.3 1297.8L1902.2 1324.4" stroke="#148a3f" stroke-width="2.6" fill="none" stroke-linecap="butt"/>
<polygon points="1120.9,1335.6 1128.1,1344.6 1120.9,1353.6 1113.7,1344.6" fill="#148a3f"/>
<polygon points="1167.2,1335.6 1174.4,1344.6 1167.2,1353.6 1160,1344.6" fill="#148a3f"/>
<polygon points="1213.6,1335.6 1220.8,1344.6 1213.6,1353.6 1206.4,1344.6" fill="#148a3f"/>
<polygon points="1259.9,1335.6 1267.1,1344.6 1259.9,1353.6 1252.7,1344.6" fill="#148a3f"/>
<polygon points="1306.3,1333.8 1313.5,1342.8 1306.3,1351.8 1299.1,1342.8" fill="#148a3f"/>
<polygon points="1352.7,1331.9 1359.9,1340.9 1352.7,1349.9 1345.5,1340.9" fill="#148a3f"/>
<polygon points="1399,1331.9 1406.2,1340.9 1399,1349.9 1391.8,1340.9" fill="#148a3f"/>
<polygon points="1445.4,1322.1 1452.6,1331.1 1445.4,1340.1 1438.2,1331.1" fill="#148a3f"/>
<polygon points="1491.7,1318.4 1498.9,1327.4 1491.7,1336.4 1484.5,1327.4" fill="#148a3f"/>
<polygon points="1538.1,1298.7 1545.3,1307.7 1538.1,1316.7 1530.9,1307.7" fill="#148a3f"/>
<polygon points="1584.4,1242.1 1591.6,1251.1 1584.4,1260.1 1577.2,1251.1" fill="#148a3f"/>
<polygon points="1630.8,1135.1 1638,1144.1 1630.8,1153.1 1623.6,1144.1" fill="#148a3f"/>
<polygon points="1677.1,1072.4 1684.3,1081.4 1677.1,1090.4 1669.9,1081.4" fill="#148a3f"/>
<polygon points="1723.5,1094.5 1730.7,1103.5 1723.5,1112.5 1716.3,1103.5" fill="#148a3f"/>
<polygon points="1769.9,1151.1 1777.1,1160.1 1769.9,1169.1 1762.7,1160.1" fill="#148a3f"/>
<polygon points="1816.2,1226.7 1823.4,1235.7 1816.2,1244.7 1809,1235.7" fill="#148a3f"/>
<polygon points="1862.6,1283.4 1869.8,1292.4 1862.6,1301.4 1855.4,1292.4" fill="#148a3f"/>
<polygon points="1908.9,1320.8 1916.1,1329.8 1908.9,1338.8 1901.7,1329.8" fill="#148a3f"/>
<path d="M1129.5 1343.1L1158.7 1340.8M1175.8 1339.6L1205 1337.8M1222.1 1336.1L1251.4 1332.2M1267.6 1327.2L1298.6 1311.6M1312.1 1301.4L1346.8 1263.6M1356.2 1249.4L1395.5 1161.8M1401.5 1145.7L1442.9 1007.8M1453.5 1002.3L1483.6 1012.3M1494 1023.3L1535.8 1176.4M1541.5 1192.6L1581 1283.8M1590.8 1297.5L1624.4 1327.8M1639.3 1334.9L1668.7 1339.6M1685.7 1341.5L1714.9 1343.4M1732.1 1344.1L1761.3 1344.5M1778.5 1344.6L1807.6 1344.6M1824.8 1344.6L1854 1344.6M1871.2 1344.6L1900.3 1344.6" stroke="#1b87c9" stroke-width="2.6" fill="none" stroke-linecap="butt"/>
<polygon points="1114.4,1343.7 1127.2,1335.1 1127.2,1352.3" fill="#1b87c9"/>
<polygon points="1160.7,1340.2 1173.5,1331.6 1173.5,1348.8" fill="#1b87c9"/>
<polygon points="1207.1,1337.2 1219.9,1328.6 1219.9,1345.8" fill="#1b87c9"/>
<polygon points="1253.4,1331.1 1266.2,1322.5 1266.2,1339.7" fill="#1b87c9"/>
<polygon points="1299.8,1307.7 1312.6,1299.1 1312.6,1316.3" fill="#1b87c9"/>
<polygon points="1346.2,1257.3 1359,1248.7 1359,1265.9" fill="#1b87c9"/>
<polygon points="1392.5,1153.9 1405.3,1145.3 1405.3,1162.5" fill="#1b87c9"/>
<polygon points="1438.9,999.6 1451.7,991 1451.7,1008.2" fill="#1b87c9"/>
<polygon points="1485.2,1015 1498,1006.4 1498,1023.6" fill="#1b87c9"/>
<polygon points="1531.6,1184.7 1544.4,1176.1 1544.4,1193.3" fill="#1b87c9"/>
<polygon points="1577.9,1291.7 1590.7,1283.1 1590.7,1300.3" fill="#1b87c9"/>
<polygon points="1624.3,1333.5 1637.1,1324.9 1637.1,1342.1" fill="#1b87c9"/>
<polygon points="1670.6,1340.9 1683.4,1332.3 1683.4,1349.5" fill="#1b87c9"/>
<polygon points="1717,1344 1729.8,1335.4 1729.8,1352.6" fill="#1b87c9"/>
<polygon points="1763.4,1344.6 1776.2,1336 1776.2,1353.2" fill="#1b87c9"/>
<polygon points="1809.7,1344.6 1822.5,1336 1822.5,1353.2" fill="#1b87c9"/>
<polygon points="1856.1,1344.6 1868.9,1336 1868.9,1353.2" fill="#1b87c9"/>
<polygon points="1902.4,1344.6 1915.2,1336 1915.2,1353.2" fill="#1b87c9"/>
<path d="M1127.8 1321.6L1160.3 1298M1175 1289.3L1205.8 1274.8M1221.4 1267.7L1252.1 1254M1267.9 1247.1L1298.4 1234.2M1313.8 1226.6L1345.2 1208.6M1361.1 1202.8L1390.6 1197.3M1407.3 1198.2L1437.1 1206.9M1453.8 1210.9L1483.3 1216.3M1499.5 1221.6L1530.3 1236.3M1545.9 1243.6L1576.6 1257.4M1592.4 1264.1L1622.8 1276.2M1638.1 1284L1669.9 1303.9M1685.4 1310.9L1715.3 1320M1732 1324L1761.4 1329.5M1778.3 1332.4L1807.7 1337.1M1824.8 1338.9L1854 1340.5M1871.2 1341.4L1900.3 1342.9" stroke="#2b3190" stroke-width="2.6" fill="none" stroke-linecap="butt"/>
<polygon points="1127.4,1326.6 1114.6,1318 1114.6,1335.2" fill="#2b3190"/>
<polygon points="1173.7,1292.9 1160.9,1284.3 1160.9,1301.5" fill="#2b3190"/>
<polygon points="1220.1,1271.2 1207.3,1262.6 1207.3,1279.8" fill="#2b3190"/>
<polygon points="1266.4,1250.5 1253.6,1241.9 1253.6,1259.1" fill="#2b3190"/>
<polygon points="1312.8,1230.8 1300,1222.2 1300,1239.4" fill="#2b3190"/>
<polygon points="1359.2,1204.4 1346.4,1195.8 1346.4,1213" fill="#2b3190"/>
<polygon points="1405.5,1195.8 1392.7,1187.2 1392.7,1204.4" fill="#2b3190"/>
<polygon points="1451.9,1209.3 1439.1,1200.7 1439.1,1217.9" fill="#2b3190"/>
<polygon points="1498.2,1217.9 1485.4,1209.3 1485.4,1226.5" fill="#2b3190"/>
<polygon points="1544.6,1240 1531.8,1231.5 1531.8,1248.6" fill="#2b3190"/>
<polygon points="1590.9,1261 1578.1,1252.4 1578.1,1269.6" fill="#2b3190"/>
<polygon points="1637.3,1279.4 1624.5,1270.8 1624.5,1288" fill="#2b3190"/>
<polygon points="1683.6,1308.4 1670.8,1299.8 1670.8,1317" fill="#2b3190"/>
<polygon points="1730,1322.5 1717.2,1313.9 1717.2,1331.1" fill="#2b3190"/>
<polygon points="1776.4,1331.1 1763.6,1322.5 1763.6,1339.7" fill="#2b3190"/>
<polygon points="1822.7,1338.4 1809.9,1329.8 1809.9,1347" fill="#2b3190"/>
<polygon points="1869.1,1340.9 1856.3,1332.3 1856.3,1349.5" fill="#2b3190"/>
<polygon points="1915.4,1343.4 1902.6,1334.8 1902.6,1352" fill="#2b3190"/>
<path d="M1129.5 1343.6L1158.6 1342.9M1175.8 1342.8L1205 1342.8M1222.2 1342.4L1251.4 1341.3M1268.5 1339.8L1297.8 1335.9M1314.6 1332.7L1344.3 1325.2M1357.6 1316L1394.1 1264.3M1406.8 1253.6L1437.6 1238.8M1451 1228.6L1486.1 1188.1M1499.9 1179.1L1529.9 1170M1545.2 1172.2L1577.3 1193.5M1591.9 1193.9L1623.4 1175.5M1639.2 1173L1668.7 1179.2M1682.2 1188L1718.4 1237.4M1729.3 1250.7L1764 1288.2M1777.5 1298.6L1808.6 1315M1824.1 1322.5L1854.7 1335.9M1871.1 1340.1L1900.4 1342.6" stroke="#a142a1" stroke-width="2.6" fill="none" stroke-linecap="butt"/>
<polygon points="1120.9,1335.8 1128,1339.8 1128,1347.7 1120.9,1351.6 1113.8,1347.7 1113.8,1339.8" fill="#a142a1"/>
<polygon points="1167.2,1334.9 1174.3,1338.8 1174.3,1346.7 1167.2,1350.7 1160.1,1346.7 1160.1,1338.8" fill="#a142a1"/>
<polygon points="1213.6,1334.9 1220.7,1338.8 1220.7,1346.7 1213.6,1350.7 1206.5,1346.7 1206.5,1338.8" fill="#a142a1"/>
<polygon points="1259.9,1333 1267,1337 1267,1344.9 1259.9,1348.8 1252.8,1344.9 1252.8,1337" fill="#a142a1"/>
<polygon points="1306.3,1326.9 1313.4,1330.8 1313.4,1338.7 1306.3,1342.7 1299.2,1338.7 1299.2,1330.8" fill="#a142a1"/>
<polygon points="1352.7,1315.2 1359.8,1319.1 1359.8,1327 1352.7,1331 1345.6,1327 1345.6,1319.1" fill="#a142a1"/>
<polygon points="1399,1249.4 1406.1,1253.3 1406.1,1261.2 1399,1265.2 1391.9,1261.2 1391.9,1253.3" fill="#a142a1"/>
<polygon points="1445.4,1227.2 1452.5,1231.2 1452.5,1239.1 1445.4,1243 1438.3,1239.1 1438.3,1231.2" fill="#a142a1"/>
<polygon points="1491.7,1173.7 1498.8,1177.7 1498.8,1185.6 1491.7,1189.5 1484.6,1185.6 1484.6,1177.7" fill="#a142a1"/>
<polygon points="1538.1,1159.6 1545.2,1163.5 1545.2,1171.4 1538.1,1175.4 1531,1171.4 1531,1163.5" fill="#a142a1"/>
<polygon points="1584.4,1190.3 1591.5,1194.3 1591.5,1202.2 1584.4,1206.1 1577.3,1202.2 1577.3,1194.3" fill="#a142a1"/>
<polygon points="1630.8,1163.3 1637.9,1167.2 1637.9,1175.1 1630.8,1179.1 1623.7,1175.1 1623.7,1167.2" fill="#a142a1"/>
<polygon points="1677.1,1173.1 1684.2,1177.1 1684.2,1185 1677.1,1188.9 1670,1185 1670,1177.1" fill="#a142a1"/>
<polygon points="1723.5,1236.5 1730.6,1240.4 1730.6,1248.3 1723.5,1252.3 1716.4,1248.3 1716.4,1240.4" fill="#a142a1"/>
<polygon points="1769.9,1286.6 1777,1290.6 1777,1298.5 1769.9,1302.4 1762.8,1298.5 1762.8,1290.6" fill="#a142a1"/>
<polygon points="1816.2,1311.1 1823.3,1315.1 1823.3,1323 1816.2,1326.9 1809.1,1323 1809.1,1315.1" fill="#a142a1"/>
<polygon points="1862.6,1331.4 1869.7,1335.4 1869.7,1343.3 1862.6,1347.2 1855.5,1343.3 1855.5,1335.4" fill="#a142a1"/>
<polygon points="1908.9,1335.5 1916,1339.4 1916,1347.3 1908.9,1351.3 1901.8,1347.3 1901.8,1339.4" fill="#a142a1"/>
<path d="M1129.4 1341.2L1158.7 1338.1M1175.8 1336.8L1205 1335.2M1222.2 1334.3L1251.4 1332.8M1268.5 1332.3L1297.7 1332.3M1314.9 1331.9L1344.1 1330.7M1361.1 1329L1390.5 1324.3M1407.6 1323.7L1436.8 1326.1M1453.1 1323.1L1484 1308.3M1498.8 1299.7L1531 1277M1545.6 1267.8L1577 1250M1589.6 1238.9L1625.6 1191.5M1637.8 1179.7L1670.2 1156.5M1685.7 1151.5L1714.9 1151.5M1731.1 1155.5L1762.3 1172.1M1776 1182.1L1810 1214.8M1821.7 1227.4L1857.1 1270.8M1868.7 1283.4L1902.8 1316.5" stroke="#7b2585" stroke-width="2.6" fill="none" stroke-linecap="butt"/>
<polygon points="1120.9,1334.5 1122.9,1340.1 1128.9,1340.3 1124.2,1344 1125.8,1349.7 1120.9,1346.4 1115.9,1349.7 1117.5,1344 1112.9,1340.3 1118.8,1340.1" fill="#7b2585"/>
<polygon points="1167.2,1329.6 1169.3,1335.2 1175.2,1335.4 1170.6,1339.1 1172.2,1344.8 1167.2,1341.5 1162.3,1344.8 1163.9,1339.1 1159.2,1335.4 1165.2,1335.2" fill="#7b2585"/>
<polygon points="1213.6,1327.2 1215.6,1332.7 1221.6,1333 1216.9,1336.6 1218.5,1342.4 1213.6,1339.1 1208.7,1342.4 1210.3,1336.6 1205.6,1333 1211.5,1332.7" fill="#7b2585"/>
<polygon points="1259.9,1324.7 1262,1330.3 1267.9,1330.5 1263.3,1334.2 1264.9,1339.9 1259.9,1336.6 1255,1339.9 1256.6,1334.2 1252,1330.5 1257.9,1330.3" fill="#7b2585"/>
<polygon points="1306.3,1324.7 1308.4,1330.3 1314.3,1330.5 1309.6,1334.2 1311.2,1339.9 1306.3,1336.6 1301.4,1339.9 1303,1334.2 1298.3,1330.5 1304.2,1330.3" fill="#7b2585"/>
<polygon points="1352.7,1322.7 1354.7,1328.3 1360.6,1328.5 1356,1332.2 1357.6,1337.9 1352.7,1334.6 1347.7,1337.9 1349.3,1332.2 1344.7,1328.5 1350.6,1328.3" fill="#7b2585"/>
<polygon points="1399,1315.4 1401.1,1320.9 1407,1321.2 1402.3,1324.8 1403.9,1330.5 1399,1327.3 1394.1,1330.5 1395.7,1324.8 1391,1321.2 1397,1320.9" fill="#7b2585"/>
<polygon points="1445.4,1319.2 1447.4,1324.7 1453.4,1325 1448.7,1328.6 1450.3,1334.4 1445.4,1331.1 1440.4,1334.4 1442,1328.6 1437.4,1325 1443.3,1324.7" fill="#7b2585"/>
<polygon points="1491.7,1297 1493.8,1302.6 1499.7,1302.8 1495.1,1306.5 1496.7,1312.2 1491.7,1308.9 1486.8,1312.2 1488.4,1306.5 1483.7,1302.8 1489.7,1302.6" fill="#7b2585"/>
<polygon points="1538.1,1264.4 1540.1,1270 1546.1,1270.2 1541.4,1273.9 1543,1279.6 1538.1,1276.3 1533.1,1279.6 1534.7,1273.9 1530.1,1270.2 1536,1270" fill="#7b2585"/>
<polygon points="1584.4,1238.1 1586.5,1243.7 1592.4,1243.9 1587.8,1247.6 1589.4,1253.3 1584.4,1250 1579.5,1253.3 1581.1,1247.6 1576.4,1243.9 1582.4,1243.7" fill="#7b2585"/>
<polygon points="1630.8,1177.1 1632.8,1182.7 1638.8,1182.9 1634.1,1186.6 1635.7,1192.3 1630.8,1189 1625.9,1192.3 1627.5,1186.6 1622.8,1182.9 1628.7,1182.7" fill="#7b2585"/>
<polygon points="1677.1,1143.9 1679.2,1149.5 1685.1,1149.7 1680.5,1153.4 1682.1,1159.1 1677.1,1155.8 1672.2,1159.1 1673.8,1153.4 1669.2,1149.7 1675.1,1149.5" fill="#7b2585"/>
<polygon points="1723.5,1143.9 1725.6,1149.5 1731.5,1149.7 1726.8,1153.4 1728.4,1159.1 1723.5,1155.8 1718.6,1159.1 1720.2,1153.4 1715.5,1149.7 1721.4,1149.5" fill="#7b2585"/>
<polygon points="1769.9,1168.5 1771.9,1174.1 1777.8,1174.3 1773.2,1178 1774.8,1183.7 1769.9,1180.4 1764.9,1183.7 1766.5,1178 1761.9,1174.3 1767.8,1174.1" fill="#7b2585"/>
<polygon points="1816.2,1213.1 1818.3,1218.7 1824.2,1218.9 1819.5,1222.6 1821.1,1228.3 1816.2,1225 1811.3,1228.3 1812.9,1222.6 1808.2,1218.9 1814.2,1218.7" fill="#7b2585"/>
<polygon points="1862.6,1269.8 1864.6,1275.4 1870.6,1275.6 1865.9,1279.3 1867.5,1285 1862.6,1281.7 1857.6,1285 1859.2,1279.3 1854.6,1275.6 1860.5,1275.4" fill="#7b2585"/>
<polygon points="1908.9,1314.9 1911,1320.4 1916.9,1320.7 1912.3,1324.3 1913.9,1330.1 1908.9,1326.8 1904,1330.1 1905.6,1324.3 1900.9,1320.7 1906.9,1320.4" fill="#7b2585"/>
<path d="M1096.5 796.4H1932.1V904.2" stroke="#000" stroke-width="2.5" fill="none"/>
<path d="M1097.7 796.4V904.2" stroke="#000" stroke-width="2.5" fill="none"/>
<path d="M1097.7 913.8V1357.5H1932.1V913.8" stroke="#000" stroke-width="2.5" fill="none"/>
<line x1="1086.9" y1="908.7" x2="1108.5" y2="899.3" stroke="#000" stroke-width="2.2" stroke-linecap="round"/>
<line x1="1086.9" y1="918.3" x2="1108.5" y2="908.9" stroke="#000" stroke-width="2.2" stroke-linecap="round"/>
<line x1="1921.3" y1="908.7" x2="1942.9" y2="899.3" stroke="#000" stroke-width="2.2" stroke-linecap="round"/>
<line x1="1921.3" y1="918.3" x2="1942.9" y2="908.9" stroke="#000" stroke-width="2.2" stroke-linecap="round"/>
<line x1="1086.7" y1="1344.6" x2="1097.7" y2="1344.6" stroke="#000" stroke-width="2.4"/>
<text x="1074.6" y="1354.8" class="tk" text-anchor="end">0</text>
<line x1="1091.7" y1="1283.1" x2="1097.7" y2="1283.1" stroke="#000" stroke-width="2.4"/>
<line x1="1086.7" y1="1221.6" x2="1097.7" y2="1221.6" stroke="#000" stroke-width="2.4"/>
<text x="1074.6" y="1231.8" class="tk" text-anchor="end">10</text>
<line x1="1091.7" y1="1160.1" x2="1097.7" y2="1160.1" stroke="#000" stroke-width="2.4"/>
<line x1="1086.7" y1="1098.6" x2="1097.7" y2="1098.6" stroke="#000" stroke-width="2.4"/>
<text x="1074.6" y="1108.8" class="tk" text-anchor="end">20</text>
<line x1="1091.7" y1="1037.1" x2="1097.7" y2="1037.1" stroke="#000" stroke-width="2.4"/>
<line x1="1086.7" y1="975.6" x2="1097.7" y2="975.6" stroke="#000" stroke-width="2.4"/>
<text x="1074.6" y="985.8" class="tk" text-anchor="end">30</text>
<line x1="1086.7" y1="903.8" x2="1097.7" y2="903.8" stroke="#000" stroke-width="2.4"/>
<text x="1074.6" y="914" class="tk" text-anchor="end">70</text>
<line x1="1091.7" y1="868.1" x2="1097.7" y2="868.1" stroke="#000" stroke-width="2.4"/>
<line x1="1086.7" y1="832.4" x2="1097.7" y2="832.4" stroke="#000" stroke-width="2.4"/>
<text x="1074.6" y="842.6" class="tk" text-anchor="end">80</text>
<line x1="1097.7" y1="1357.5" x2="1097.7" y2="1368" stroke="#000" stroke-width="2.4"/>
<text x="1097.7" y="1400.7" class="tk" text-anchor="middle">0</text>
<line x1="1144.1" y1="1357.5" x2="1144.1" y2="1363" stroke="#000" stroke-width="2.4"/>
<line x1="1190.4" y1="1357.5" x2="1190.4" y2="1368" stroke="#000" stroke-width="2.4"/>
<text x="1190.4" y="1400.7" class="tk" text-anchor="middle">20</text>
<line x1="1236.8" y1="1357.5" x2="1236.8" y2="1363" stroke="#000" stroke-width="2.4"/>
<line x1="1283.1" y1="1357.5" x2="1283.1" y2="1368" stroke="#000" stroke-width="2.4"/>
<text x="1283.1" y="1400.7" class="tk" text-anchor="middle">40</text>
<line x1="1329.5" y1="1357.5" x2="1329.5" y2="1363" stroke="#000" stroke-width="2.4"/>
<line x1="1375.8" y1="1357.5" x2="1375.8" y2="1368" stroke="#000" stroke-width="2.4"/>
<text x="1375.8" y="1400.7" class="tk" text-anchor="middle">60</text>
<line x1="1422.2" y1="1357.5" x2="1422.2" y2="1363" stroke="#000" stroke-width="2.4"/>
<line x1="1468.5" y1="1357.5" x2="1468.5" y2="1368" stroke="#000" stroke-width="2.4"/>
<text x="1468.5" y="1400.7" class="tk" text-anchor="middle">80</text>
<line x1="1514.9" y1="1357.5" x2="1514.9" y2="1363" stroke="#000" stroke-width="2.4"/>
<line x1="1561.3" y1="1357.5" x2="1561.3" y2="1368" stroke="#000" stroke-width="2.4"/>
<text x="1561.3" y="1400.7" class="tk" text-anchor="middle">100</text>
<line x1="1607.6" y1="1357.5" x2="1607.6" y2="1363" stroke="#000" stroke-width="2.4"/>
<line x1="1654" y1="1357.5" x2="1654" y2="1368" stroke="#000" stroke-width="2.4"/>
<text x="1654" y="1400.7" class="tk" text-anchor="middle">120</text>
<line x1="1700.3" y1="1357.5" x2="1700.3" y2="1363" stroke="#000" stroke-width="2.4"/>
<line x1="1746.7" y1="1357.5" x2="1746.7" y2="1368" stroke="#000" stroke-width="2.4"/>
<text x="1746.7" y="1400.7" class="tk" text-anchor="middle">140</text>
<line x1="1793" y1="1357.5" x2="1793" y2="1363" stroke="#000" stroke-width="2.4"/>
<line x1="1839.4" y1="1357.5" x2="1839.4" y2="1368" stroke="#000" stroke-width="2.4"/>
<text x="1839.4" y="1400.7" class="tk" text-anchor="middle">160</text>
<line x1="1885.7" y1="1357.5" x2="1885.7" y2="1363" stroke="#000" stroke-width="2.4"/>
<line x1="1932.1" y1="1357.5" x2="1932.1" y2="1368" stroke="#000" stroke-width="2.4"/>
<text x="1932.1" y="1400.7" class="tk" text-anchor="middle">180</text>
<path d="M1116.8 823.4H1143.5M1158.5 823.4H1185.4" stroke="#3d3d3d" stroke-width="2.7" stroke-linecap="round"/>
<rect x="1144.9" y="817.3" width="12.2" height="12.2" fill="#3d3d3d"/>
<text x="1198.2" y="833.8" class="lg">Bare</text>
<path d="M1116.8 859.8H1143.5M1158.5 859.8H1185.4" stroke="#ebbd20" stroke-width="2.7" stroke-linecap="round"/>
<circle cx="1151" cy="859.8" r="7.1" fill="#ebbd20"/>
<text x="1198.2" y="870.2" class="lg">3CH<tspan class="sub" dy="6.7">3</tspan></text>
<path d="M1116.8 903.2H1143.5M1158.5 903.2H1185.4" stroke="#d2232a" stroke-width="2.7" stroke-linecap="round"/>
<polygon points="1151,895 1159.3,909.4 1142.7,909.4" fill="#d2232a"/>
<text x="1198.2" y="913.6" class="lg">3OH</text>
<path d="M1116.8 940.3H1143.5M1158.5 940.3H1185.4" stroke="#f5821f" stroke-width="2.7" stroke-linecap="round"/>
<polygon points="1151,948.5 1159.3,934.1 1142.7,934.1" fill="#f5821f"/>
<text x="1198.2" y="950.7" class="lg">3COOH</text>
<path d="M1116.8 976.6H1143.5M1158.5 976.6H1185.4" stroke="#148a3f" stroke-width="2.7" stroke-linecap="round"/>
<polygon points="1151,967.6 1158.2,976.6 1151,985.6 1143.8,976.6" fill="#148a3f"/>
<text x="1198.2" y="987" class="lg">3NH<tspan class="sub" dy="6.7">2</tspan></text>
<path d="M1116.8 1020.2H1143.5M1158.5 1020.2H1185.4" stroke="#1b87c9" stroke-width="2.7" stroke-linecap="round"/>
<polygon points="1144.5,1020.2 1157.3,1011.6 1157.3,1028.8" fill="#1b87c9"/>
<text x="1198.2" y="1030.6" class="lg">11CH<tspan class="sub" dy="6.7">3</tspan></text>
<path d="M1116.8 1063.6H1143.5M1158.5 1063.6H1185.4" stroke="#2b3190" stroke-width="2.7" stroke-linecap="round"/>
<polygon points="1157.5,1063.6 1144.7,1055 1144.7,1072.2" fill="#2b3190"/>
<text x="1198.2" y="1074" class="lg">11OH</text>
<path d="M1116.8 1100H1143.5M1158.5 1100H1185.4" stroke="#a142a1" stroke-width="2.7" stroke-linecap="round"/>
<polygon points="1151,1092.1 1158.1,1096 1158.1,1104 1151,1107.9 1143.9,1104 1143.9,1096" fill="#a142a1"/>
<text x="1198.2" y="1110.4" class="lg">11COOH</text>
<path d="M1116.8 1137H1143.5M1158.5 1137H1185.4" stroke="#7b2585" stroke-width="2.7" stroke-linecap="round"/>
<polygon points="1151,1129.4 1153.1,1135 1159,1135.2 1154.3,1138.9 1155.9,1144.6 1151,1141.3 1146.1,1144.6 1147.7,1138.9 1143,1135.2 1148.9,1135" fill="#7b2585"/>
<text x="1198.2" y="1147.4" class="lg">11NH<tspan class="sub" dy="6.7">2</tspan></text>
<text x="-1.5" y="809.8" class="lbl">b</text>
<text x="998" y="810" class="lbl">c</text>
<text x="915.8" y="837.3" class="nm" text-anchor="end"><tspan font-style="italic">p</tspan>-PDA</text>
<text x="1909.6" y="837.3" class="nm" text-anchor="end">4-APA</text>
<text x="521" y="1444.3" class="ax" text-anchor="middle">Orientation angle/deg</text>
<text x="1515" y="1444.3" class="ax" text-anchor="middle">Orientation angle/deg</text>
<text transform="translate(24.4,1080.5) rotate(-90)" class="ax" text-anchor="middle">Population/%</text>
<text transform="translate(1018.5,1080.5) rotate(-90)" class="ax" text-anchor="middle">Population/%</text>
</svg>
</body></html>
